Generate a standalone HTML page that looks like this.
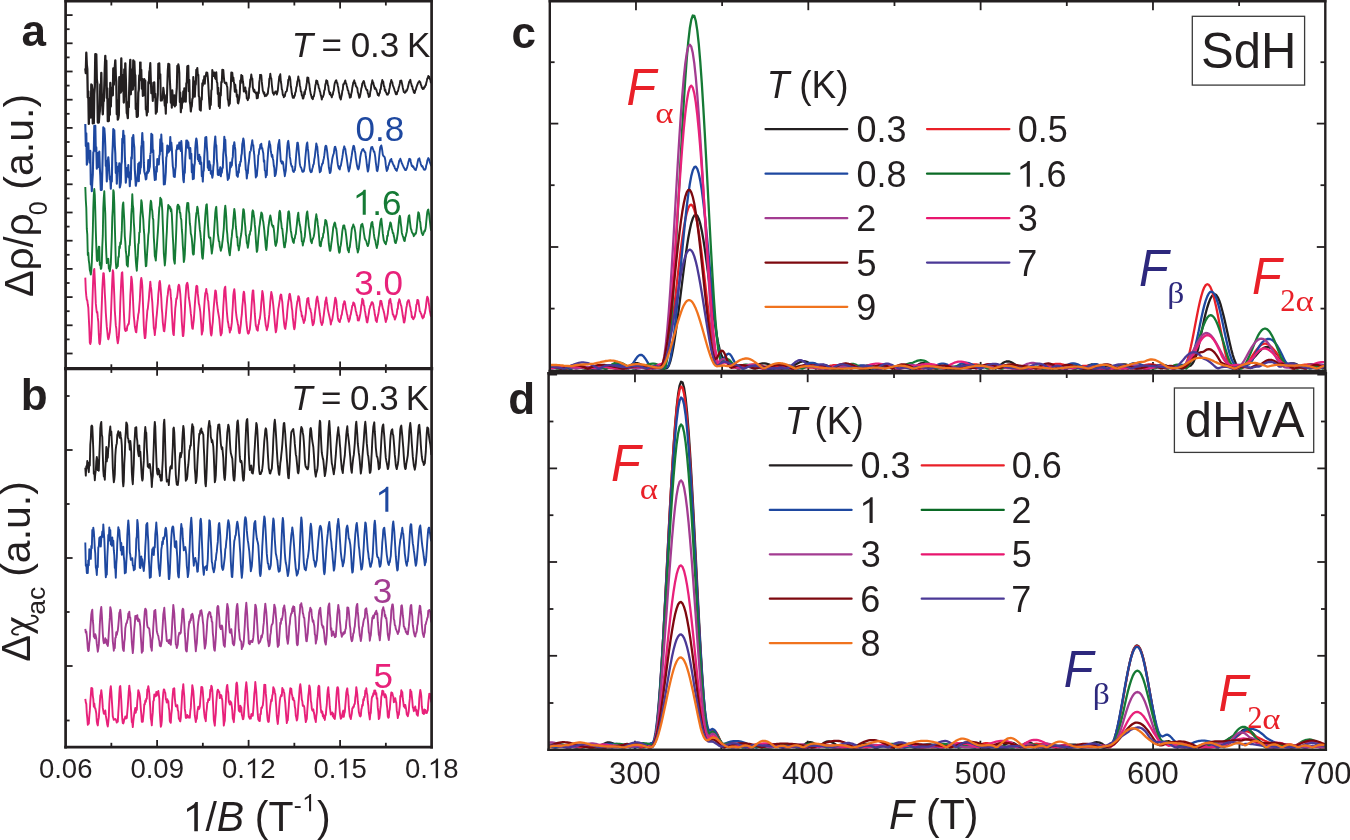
<!DOCTYPE html>
<html><head><meta charset="utf-8"><title>figure</title><style>
html,body{margin:0;padding:0;background:#fff;overflow:hidden}
svg{display:block;will-change:transform}
</style></head><body>
<svg width="1350" height="840" viewBox="0 0 1350 840">
<rect width="1350" height="840" fill="#fff"/>
<line x1="111.35" y1="1.20" x2="111.35" y2="5.50" stroke="#231f20" stroke-width="1.8" stroke-linecap="butt"/>
<line x1="111.35" y1="364.30" x2="111.35" y2="372.90" stroke="#231f20" stroke-width="1.8" stroke-linecap="butt"/>
<line x1="111.35" y1="742.80" x2="111.35" y2="747.10" stroke="#231f20" stroke-width="1.8" stroke-linecap="butt"/>
<line x1="157.10" y1="1.20" x2="157.10" y2="8.40" stroke="#231f20" stroke-width="1.8" stroke-linecap="butt"/>
<line x1="157.10" y1="361.40" x2="157.10" y2="375.80" stroke="#231f20" stroke-width="1.8" stroke-linecap="butt"/>
<line x1="157.10" y1="739.90" x2="157.10" y2="747.10" stroke="#231f20" stroke-width="1.8" stroke-linecap="butt"/>
<line x1="202.85" y1="1.20" x2="202.85" y2="5.50" stroke="#231f20" stroke-width="1.8" stroke-linecap="butt"/>
<line x1="202.85" y1="364.30" x2="202.85" y2="372.90" stroke="#231f20" stroke-width="1.8" stroke-linecap="butt"/>
<line x1="202.85" y1="742.80" x2="202.85" y2="747.10" stroke="#231f20" stroke-width="1.8" stroke-linecap="butt"/>
<line x1="248.60" y1="1.20" x2="248.60" y2="8.40" stroke="#231f20" stroke-width="1.8" stroke-linecap="butt"/>
<line x1="248.60" y1="361.40" x2="248.60" y2="375.80" stroke="#231f20" stroke-width="1.8" stroke-linecap="butt"/>
<line x1="248.60" y1="739.90" x2="248.60" y2="747.10" stroke="#231f20" stroke-width="1.8" stroke-linecap="butt"/>
<line x1="294.35" y1="1.20" x2="294.35" y2="5.50" stroke="#231f20" stroke-width="1.8" stroke-linecap="butt"/>
<line x1="294.35" y1="364.30" x2="294.35" y2="372.90" stroke="#231f20" stroke-width="1.8" stroke-linecap="butt"/>
<line x1="294.35" y1="742.80" x2="294.35" y2="747.10" stroke="#231f20" stroke-width="1.8" stroke-linecap="butt"/>
<line x1="340.10" y1="1.20" x2="340.10" y2="8.40" stroke="#231f20" stroke-width="1.8" stroke-linecap="butt"/>
<line x1="340.10" y1="361.40" x2="340.10" y2="375.80" stroke="#231f20" stroke-width="1.8" stroke-linecap="butt"/>
<line x1="340.10" y1="739.90" x2="340.10" y2="747.10" stroke="#231f20" stroke-width="1.8" stroke-linecap="butt"/>
<line x1="385.85" y1="1.20" x2="385.85" y2="5.50" stroke="#231f20" stroke-width="1.8" stroke-linecap="butt"/>
<line x1="385.85" y1="364.30" x2="385.85" y2="372.90" stroke="#231f20" stroke-width="1.8" stroke-linecap="butt"/>
<line x1="385.85" y1="742.80" x2="385.85" y2="747.10" stroke="#231f20" stroke-width="1.8" stroke-linecap="butt"/>
<line x1="65.60" y1="15.10" x2="72.60" y2="15.10" stroke="#231f20" stroke-width="1.8" stroke-linecap="butt"/>
<line x1="65.60" y1="43.30" x2="72.60" y2="43.30" stroke="#231f20" stroke-width="1.8" stroke-linecap="butt"/>
<line x1="65.60" y1="71.50" x2="72.60" y2="71.50" stroke="#231f20" stroke-width="1.8" stroke-linecap="butt"/>
<line x1="65.60" y1="99.70" x2="72.60" y2="99.70" stroke="#231f20" stroke-width="1.8" stroke-linecap="butt"/>
<line x1="65.60" y1="127.90" x2="72.60" y2="127.90" stroke="#231f20" stroke-width="1.8" stroke-linecap="butt"/>
<line x1="65.60" y1="156.10" x2="72.60" y2="156.10" stroke="#231f20" stroke-width="1.8" stroke-linecap="butt"/>
<line x1="65.60" y1="184.30" x2="72.60" y2="184.30" stroke="#231f20" stroke-width="1.8" stroke-linecap="butt"/>
<line x1="65.60" y1="212.50" x2="72.60" y2="212.50" stroke="#231f20" stroke-width="1.8" stroke-linecap="butt"/>
<line x1="65.60" y1="240.70" x2="72.60" y2="240.70" stroke="#231f20" stroke-width="1.8" stroke-linecap="butt"/>
<line x1="65.60" y1="268.90" x2="72.60" y2="268.90" stroke="#231f20" stroke-width="1.8" stroke-linecap="butt"/>
<line x1="65.60" y1="297.10" x2="72.60" y2="297.10" stroke="#231f20" stroke-width="1.8" stroke-linecap="butt"/>
<line x1="65.60" y1="325.30" x2="72.60" y2="325.30" stroke="#231f20" stroke-width="1.8" stroke-linecap="butt"/>
<line x1="65.60" y1="353.50" x2="72.60" y2="353.50" stroke="#231f20" stroke-width="1.8" stroke-linecap="butt"/>
<line x1="65.60" y1="29.20" x2="69.60" y2="29.20" stroke="#231f20" stroke-width="1.8" stroke-linecap="butt"/>
<line x1="65.60" y1="57.40" x2="69.60" y2="57.40" stroke="#231f20" stroke-width="1.8" stroke-linecap="butt"/>
<line x1="65.60" y1="85.60" x2="69.60" y2="85.60" stroke="#231f20" stroke-width="1.8" stroke-linecap="butt"/>
<line x1="65.60" y1="113.80" x2="69.60" y2="113.80" stroke="#231f20" stroke-width="1.8" stroke-linecap="butt"/>
<line x1="65.60" y1="142.00" x2="69.60" y2="142.00" stroke="#231f20" stroke-width="1.8" stroke-linecap="butt"/>
<line x1="65.60" y1="170.20" x2="69.60" y2="170.20" stroke="#231f20" stroke-width="1.8" stroke-linecap="butt"/>
<line x1="65.60" y1="198.40" x2="69.60" y2="198.40" stroke="#231f20" stroke-width="1.8" stroke-linecap="butt"/>
<line x1="65.60" y1="226.60" x2="69.60" y2="226.60" stroke="#231f20" stroke-width="1.8" stroke-linecap="butt"/>
<line x1="65.60" y1="254.80" x2="69.60" y2="254.80" stroke="#231f20" stroke-width="1.8" stroke-linecap="butt"/>
<line x1="65.60" y1="283.00" x2="69.60" y2="283.00" stroke="#231f20" stroke-width="1.8" stroke-linecap="butt"/>
<line x1="65.60" y1="311.20" x2="69.60" y2="311.20" stroke="#231f20" stroke-width="1.8" stroke-linecap="butt"/>
<line x1="65.60" y1="339.40" x2="69.60" y2="339.40" stroke="#231f20" stroke-width="1.8" stroke-linecap="butt"/>
<line x1="65.60" y1="450.00" x2="72.60" y2="450.00" stroke="#231f20" stroke-width="1.8" stroke-linecap="butt"/>
<line x1="65.60" y1="558.00" x2="72.60" y2="558.00" stroke="#231f20" stroke-width="1.8" stroke-linecap="butt"/>
<line x1="65.60" y1="666.00" x2="72.60" y2="666.00" stroke="#231f20" stroke-width="1.8" stroke-linecap="butt"/>
<line x1="65.60" y1="396.00" x2="69.60" y2="396.00" stroke="#231f20" stroke-width="1.8" stroke-linecap="butt"/>
<line x1="65.60" y1="504.00" x2="69.60" y2="504.00" stroke="#231f20" stroke-width="1.8" stroke-linecap="butt"/>
<line x1="65.60" y1="612.00" x2="69.60" y2="612.00" stroke="#231f20" stroke-width="1.8" stroke-linecap="butt"/>
<line x1="65.60" y1="720.50" x2="69.60" y2="720.50" stroke="#231f20" stroke-width="1.8" stroke-linecap="butt"/>
<line x1="635.97" y1="1.20" x2="635.97" y2="10.20" stroke="#231f20" stroke-width="1.8" stroke-linecap="butt"/>
<line x1="635.97" y1="361.90" x2="635.97" y2="370.90" stroke="#231f20" stroke-width="1.8" stroke-linecap="butt"/>
<line x1="634.96" y1="373.20" x2="634.96" y2="382.20" stroke="#231f20" stroke-width="1.8" stroke-linecap="butt"/>
<line x1="634.96" y1="740.70" x2="634.96" y2="749.70" stroke="#231f20" stroke-width="1.8" stroke-linecap="butt"/>
<line x1="722.13" y1="1.20" x2="722.13" y2="6.00" stroke="#231f20" stroke-width="1.8" stroke-linecap="butt"/>
<line x1="722.13" y1="366.10" x2="722.13" y2="370.90" stroke="#231f20" stroke-width="1.8" stroke-linecap="butt"/>
<line x1="721.31" y1="373.20" x2="721.31" y2="378.00" stroke="#231f20" stroke-width="1.8" stroke-linecap="butt"/>
<line x1="721.31" y1="744.90" x2="721.31" y2="749.70" stroke="#231f20" stroke-width="1.8" stroke-linecap="butt"/>
<line x1="808.30" y1="1.20" x2="808.30" y2="10.20" stroke="#231f20" stroke-width="1.8" stroke-linecap="butt"/>
<line x1="808.30" y1="361.90" x2="808.30" y2="370.90" stroke="#231f20" stroke-width="1.8" stroke-linecap="butt"/>
<line x1="807.67" y1="373.20" x2="807.67" y2="382.20" stroke="#231f20" stroke-width="1.8" stroke-linecap="butt"/>
<line x1="807.67" y1="740.70" x2="807.67" y2="749.70" stroke="#231f20" stroke-width="1.8" stroke-linecap="butt"/>
<line x1="894.47" y1="1.20" x2="894.47" y2="6.00" stroke="#231f20" stroke-width="1.8" stroke-linecap="butt"/>
<line x1="894.47" y1="366.10" x2="894.47" y2="370.90" stroke="#231f20" stroke-width="1.8" stroke-linecap="butt"/>
<line x1="894.02" y1="373.20" x2="894.02" y2="378.00" stroke="#231f20" stroke-width="1.8" stroke-linecap="butt"/>
<line x1="894.02" y1="744.90" x2="894.02" y2="749.70" stroke="#231f20" stroke-width="1.8" stroke-linecap="butt"/>
<line x1="980.63" y1="1.20" x2="980.63" y2="10.20" stroke="#231f20" stroke-width="1.8" stroke-linecap="butt"/>
<line x1="980.63" y1="361.90" x2="980.63" y2="370.90" stroke="#231f20" stroke-width="1.8" stroke-linecap="butt"/>
<line x1="980.38" y1="373.20" x2="980.38" y2="382.20" stroke="#231f20" stroke-width="1.8" stroke-linecap="butt"/>
<line x1="980.38" y1="740.70" x2="980.38" y2="749.70" stroke="#231f20" stroke-width="1.8" stroke-linecap="butt"/>
<line x1="1066.80" y1="1.20" x2="1066.80" y2="6.00" stroke="#231f20" stroke-width="1.8" stroke-linecap="butt"/>
<line x1="1066.80" y1="366.10" x2="1066.80" y2="370.90" stroke="#231f20" stroke-width="1.8" stroke-linecap="butt"/>
<line x1="1066.73" y1="373.20" x2="1066.73" y2="378.00" stroke="#231f20" stroke-width="1.8" stroke-linecap="butt"/>
<line x1="1066.73" y1="744.90" x2="1066.73" y2="749.70" stroke="#231f20" stroke-width="1.8" stroke-linecap="butt"/>
<line x1="1152.97" y1="1.20" x2="1152.97" y2="10.20" stroke="#231f20" stroke-width="1.8" stroke-linecap="butt"/>
<line x1="1152.97" y1="361.90" x2="1152.97" y2="370.90" stroke="#231f20" stroke-width="1.8" stroke-linecap="butt"/>
<line x1="1153.09" y1="373.20" x2="1153.09" y2="382.20" stroke="#231f20" stroke-width="1.8" stroke-linecap="butt"/>
<line x1="1153.09" y1="740.70" x2="1153.09" y2="749.70" stroke="#231f20" stroke-width="1.8" stroke-linecap="butt"/>
<line x1="1239.13" y1="1.20" x2="1239.13" y2="6.00" stroke="#231f20" stroke-width="1.8" stroke-linecap="butt"/>
<line x1="1239.13" y1="366.10" x2="1239.13" y2="370.90" stroke="#231f20" stroke-width="1.8" stroke-linecap="butt"/>
<line x1="1239.44" y1="373.20" x2="1239.44" y2="378.00" stroke="#231f20" stroke-width="1.8" stroke-linecap="butt"/>
<line x1="1239.44" y1="744.90" x2="1239.44" y2="749.70" stroke="#231f20" stroke-width="1.8" stroke-linecap="butt"/>
<line x1="549.80" y1="62.20" x2="554.60" y2="62.20" stroke="#231f20" stroke-width="1.8" stroke-linecap="butt"/>
<line x1="1320.50" y1="62.20" x2="1325.30" y2="62.20" stroke="#231f20" stroke-width="1.8" stroke-linecap="butt"/>
<line x1="549.80" y1="123.60" x2="558.30" y2="123.60" stroke="#231f20" stroke-width="1.8" stroke-linecap="butt"/>
<line x1="1316.80" y1="123.60" x2="1325.30" y2="123.60" stroke="#231f20" stroke-width="1.8" stroke-linecap="butt"/>
<line x1="549.80" y1="185.20" x2="554.60" y2="185.20" stroke="#231f20" stroke-width="1.8" stroke-linecap="butt"/>
<line x1="1320.50" y1="185.20" x2="1325.30" y2="185.20" stroke="#231f20" stroke-width="1.8" stroke-linecap="butt"/>
<line x1="549.80" y1="247.00" x2="558.30" y2="247.00" stroke="#231f20" stroke-width="1.8" stroke-linecap="butt"/>
<line x1="1316.80" y1="247.00" x2="1325.30" y2="247.00" stroke="#231f20" stroke-width="1.8" stroke-linecap="butt"/>
<line x1="549.80" y1="308.60" x2="554.60" y2="308.60" stroke="#231f20" stroke-width="1.8" stroke-linecap="butt"/>
<line x1="1320.50" y1="308.60" x2="1325.30" y2="308.60" stroke="#231f20" stroke-width="1.8" stroke-linecap="butt"/>
<line x1="548.60" y1="374.60" x2="557.10" y2="374.60" stroke="#231f20" stroke-width="1.8" stroke-linecap="butt"/>
<line x1="1317.30" y1="374.60" x2="1325.80" y2="374.60" stroke="#231f20" stroke-width="1.8" stroke-linecap="butt"/>
<line x1="548.60" y1="421.50" x2="553.40" y2="421.50" stroke="#231f20" stroke-width="1.8" stroke-linecap="butt"/>
<line x1="1321.00" y1="421.50" x2="1325.80" y2="421.50" stroke="#231f20" stroke-width="1.8" stroke-linecap="butt"/>
<line x1="548.60" y1="468.40" x2="557.10" y2="468.40" stroke="#231f20" stroke-width="1.8" stroke-linecap="butt"/>
<line x1="1317.30" y1="468.40" x2="1325.80" y2="468.40" stroke="#231f20" stroke-width="1.8" stroke-linecap="butt"/>
<line x1="548.60" y1="515.20" x2="553.40" y2="515.20" stroke="#231f20" stroke-width="1.8" stroke-linecap="butt"/>
<line x1="1321.00" y1="515.20" x2="1325.80" y2="515.20" stroke="#231f20" stroke-width="1.8" stroke-linecap="butt"/>
<line x1="548.60" y1="562.00" x2="557.10" y2="562.00" stroke="#231f20" stroke-width="1.8" stroke-linecap="butt"/>
<line x1="1317.30" y1="562.00" x2="1325.80" y2="562.00" stroke="#231f20" stroke-width="1.8" stroke-linecap="butt"/>
<line x1="548.60" y1="609.00" x2="553.40" y2="609.00" stroke="#231f20" stroke-width="1.8" stroke-linecap="butt"/>
<line x1="1321.00" y1="609.00" x2="1325.80" y2="609.00" stroke="#231f20" stroke-width="1.8" stroke-linecap="butt"/>
<line x1="548.60" y1="655.80" x2="557.10" y2="655.80" stroke="#231f20" stroke-width="1.8" stroke-linecap="butt"/>
<line x1="1317.30" y1="655.80" x2="1325.80" y2="655.80" stroke="#231f20" stroke-width="1.8" stroke-linecap="butt"/>
<line x1="548.60" y1="703.00" x2="553.40" y2="703.00" stroke="#231f20" stroke-width="1.8" stroke-linecap="butt"/>
<line x1="1321.00" y1="703.00" x2="1325.80" y2="703.00" stroke="#231f20" stroke-width="1.8" stroke-linecap="butt"/>
<path d="M85.3,68.3l0.5 4.8 0.5 -20.4 0.5 11.9 0.5 4.5 0.5 28.5 0.5 -6.3 0.5 32.6 0.5 -26.1 0.5 10.4 0.5 -7.8 0.5 17.1 0.5 -33 0.5 0.5 0.5 4.1 0.5 34.3 0.5 -18.3 0.5 18.1 0.5 -29.2 0.5 -7.2 0.5 -32.6 0.5 12.2 0.5 -12.1 0.5 24.9 0.5 4.5 0.5 38.9 0.5 -10.1 0.5 10 0.5 -7.5 0.5 -4 0.5 -26.6 0.5 11.2 0.5 -22.8 0.5 26 0.5 8 0.5 7.5 0.5 -12.2 0.5 -1 0.5 -14.5 0.5 -17.9 0.5 -12.9 0.5 21.5 0.5 -16.6 0.5 37.2 0.5 -9.6 0.5 32.9 0.5 -12.1 0.5 11.9 0.5 -21.8 0.5 15.6 0.5 -31.8 0.5 23.5 0.5 -18.9 0.5 4.5 0.5 -1.6 0.5 4.8 0.5 -26.9 0.5 16.4 0.5 -15.6 0.5 -1.9 0.5 -6.9 0.5 15.6 0.5 5.6 0.5 32.7 0.5 -14.2 0.5 19.6 0.5 -1.6 0.5 -3.1 0.5 -37.8 0.5 13.2 0.5 -10.8 0.5 12.9 0.5 -34.1 0.5 32.1 0.5 -4.1 0.5 4.1 0.5 -15.5 0.5 27.5 0.5 -33.2 0.5 26.2 0.5 -32.2 0.5 15.5 0.5 21 0.5 13.2 0.5 1.1 0.5 4.1 0.5 -16 0.5 4.9 0.5 -19.6 0.5 -17 0.5 -10.7 0.5 34.5 0.5 -25 0.5 20.2 0.5 -11 0.5 11.1 0.5 -29.3 0.5 25.3 0.5 -24.1 0.5 12.7 0.5 1.2 0.5 33.7 0.5 -5.2 0.5 13 0.5 0 0.5 -0.7 0.5 -23.5 0.5 -3.1 0.5 -14.3 0.5 5.2 0.5 -18.7" fill="none" stroke="#231f20" stroke-width="2.3" stroke-linejoin="round"/>
<path d="M140.3,61.8l0.5 13.5 0.5 -5.6 0.5 19 0.5 -9.8 0.5 17.1 0.5 -14.3 0.5 13.4 0.5 -16 0.5 4.5 0.5 -3 0.5 28.9 0.5 -0.4 0.5 6.4 0.5 -8.4 0.5 5 0.5 -30 0.5 1.7 0.5 -11.9 0.5 -2.2 0.5 -6.7 0.5 16.3 0.5 13.9 0.5 -5.6 0.5 3.3 0.5 10 0.5 -18.1 0.5 5.1 0.5 -5.5 0.5 15.1 0.5 -3.7 0.5 19.9 0.5 -7.3 0.5 5.5 0.5 -9.9 0.5 -7 0.5 -31.2 0.5 7.4 0.5 -7.8 0.5 14.9 0.5 -4.1 0.5 26.4 0.5 -2.1 0.5 2 0.5 -3.3 0.5 -0.9 0.5 -8.4 0.5 3.6 0.5 7.4 0.5 6.8 0.5 -1.9 0.5 9.8 0.5 -18.5 0.5 7.6 0.5 -17 0.5 -15.2 0.5 -6.6 0.5 6.8 0.5 -6.3 0.5 14.5 0.5 10 0.5 13.9 0.5 -7.7 0.5 12.6 0.5 -17.5 0.5 8.2 0.5 -1.5 0.5 8.1 0.5 -9.7 0.5 11.1 0.5 -6.7 0.5 5.6 0.5 -10.9 0.5 -6.2 0.5 -22.3 0.5 6.1 0.5 -7.7 0.5 2.2 0.5 6.7 0.5 28.9 0.5 -9.6 0.5 19.8 0.5 -5.2 0.5 1.1 0.5 -10 0.5 4.3 0.5 -11.3 0.5 7.4 0.5 -10.3 0.5 13.2 0.5 -11.2 0.5 11.4 0.5 -18.1 0.5 -1.5 0.5 -15.9 0.5 8.4 0.5 -8.9 0.5 25.6 0.5 -11.4 0.5 21.8 0.5 3.2 0.5 6.6 0.5 -4 0.5 -1.3 0.5 -7.2 0.5 -1 0.5 -21 0.5 18.2 0.5 -14 0.5 15.4 0.5 -10.9 0.5 -1.5 0.5 -14.5 0.5 0.8 0.5 -2.4 0.5 6.9 0.5 -0.2 0.5 21.2 0.5 1 0.5 12.8 0.5 -9.4" fill="none" stroke="#231f20" stroke-width="2.1" stroke-linejoin="round"/>
<path d="M200.3,100.4l0.5 10.2 0.5 -12.6 0.5 1.8 0.5 -16.6 0.5 2.8 0.5 -6 0.5 2.1 0.5 -5.9 0.5 7.6 0.5 -7 0.5 -0.6 0.5 -3.6 0.5 0 0.5 0.2 0.5 4.4 0.5 7.2 0.5 10.3 0.5 8.2 0.5 6.1 0.5 -5.5 0.5 1.5 0.5 -14.4 0.5 -1.5 0.5 -19.2 0.5 2.6 0.5 1.9 0.5 1.7 0.5 -3.6 0.5 3.9 0.5 2 0.5 0.7 0.5 -6.9 0.5 9.6 0.5 1.1 0.5 11 0.5 -6.1 0.5 18.3 0.5 -2.1 0.5 3.9 0.5 -15 0.5 2.6 0.5 -13.6 0.5 0.5 0.5 -12.6 0.5 4.9 0.5 -4.6 0.5 6.7 0.5 4.7 0.5 1.4 0.5 -0.4 0.5 1.2 0.5 -1 0.5 2.7 0.5 1.9 0.5 11.8 0.5 1.6 0.5 5 0.5 -4.7 0.5 2.7 0.5 -11.8 0.5 -5.3 0.5 -14.1 0.5 8.7 0.5 -8.4 0.5 6.8 0.5 -2.2 0.5 4 0.5 3 0.5 7.4 0.5 -7 0.5 5.9 0.5 -0.6 0.5 6.7 0.5 -2 0.5 8 0.5 0.6 0.5 -2.7 0.5 -2.6 0.5 -5.1 0.5 -12.4 0.5 2.7 0.5 -8.4 0.5 2.4 0.5 -1.4 0.5 5.4 0.5 2.7 0.5 7.4 0.5 -3.9 0.5 1.9 0.5 -1.9 0.5 5.4 0.5 -1.8 0.5 7.3 0.5 0.3 0.5 1.4 0.5 -1.9 0.5 -0.1 0.5 -9.7 0.5 -1.6 0.5 -7.3 0.5 -0.4 0.5 -4.6 0.5 4 0.5 0.1 0.5 8.7 0.5 2 0.5 2.2 0.5 -1.8 0.5 2.6 0.5 -0.1 0.5 1 0.5 -0.6 0.5 5.7 0.5 -1.1 0.5 0.8 0.5 -5.9 0.5 1.1 0.5 -10.8 0.5 -3.2 0.5 -5.1" fill="none" stroke="#231f20" stroke-width="2.0" stroke-linejoin="round"/>
<path d="M260.3,74.1l0.5 1.5 0.5 -0.3 0.5 6.6 0.5 4.2 0.5 4.5 0.5 1.4 0.5 1.7 0.5 -1.2 0.5 3.7 0.5 -1.4 0.5 1 0.5 0 0.5 -0.6 0.5 -1.7 0.5 0.3 0.5 -5.1 0.5 -2.2 0.5 -7.7 0.5 -0.8 0.5 -4.3 0.5 4 0.5 0.6 0.5 6.2 0.5 4.2 0.5 4.3 0.5 -0.6 0.5 2.4 0.5 -1.7 0.5 0.1 0.5 -1.8 0.5 0.5 0.5 -0.4 0.5 3.1 0.5 -1.8 0.5 -2.2 0.5 -5.2 0.5 -4.6 0.5 -4.5 0.5 -0.5 0.5 -1.6 0.5 7.3 0.5 2.5 0.5 5.2 0.5 1.1 0.5 4.7 0.5 -0.1 0.5 2.3 0.5 -0.9 0.5 0 0.5 -2.8 0.5 -1.7 0.5 -0.2 0.5 -0.6 0.5 -3.4 0.5 -2.3 0.5 -5.7 0.5 -0.1 0.5 -3.4 0.5 0.9 0.5 2.5 0.5 6.7 0.5 2.6 0.5 4.5 0.5 2.3 0.5 2.2 0.5 -1.7 0.5 1.8 0.5 -1.4 0.5 -1 0.5 -3 0.5 -0.7 0.5 -4.5 0.5 -1.2 0.5 -4.6 0.5 -1.2 0.5 -3.8 0.5 3.5 0.5 0.2 0.5 5 0.5 1.8 0.5 4.5 0.5 -0.1 0.5 4.1 0.5 -0.2 0.5 3.3 0.5 0 0.5 -2 0.5 -4.6 0.5 2.4 0.5 -4.5 0.5 -0.2 0.5 -3.5 0.5 -3.3 0.5 -5.4 0.5 0.8 0.5 -0.6 0.5 4.6 0.5 1.7 0.5 5 0.5 2.6 0.5 2.7 0.5 1.6 0.5 2.2 0.5 0.4 0.5 0.8 0.5 -2.8 0.5 0 0.5 -2.7 0.5 -3.1 0.5 -4.7 0.5 -2.3 0.5 -3.2 0.5 0.8 0.5 -0.2 0.5 3 0.5 0.7 0.5 3.2 0.5 0.6 0.5 2.6 0.5 1.1 0.5 3 0.5 1.5 0.5 2.7 0.5 -2.7 0.5 0.4 0.5 -1.4 0.5 -1.4 0.5 -4 0.5 -0.5 0.5 -5.1 0.5 -1.9 0.5 -2.7 0.5 0.7 0.5 0.1 0.5 4 0.5 0.9 0.5 4.7 0.5 1.7 0.5 2 0.5 -1.7 0.5 2.7 0.5 0.5 0.5 1.6 0.5 -2.4 0.5 -0.1 0.5 -3.2 0.5 -1.2 0.5 -4.6 0.5 -2.9 0.5 -1.2 0.5 -1.2 0.5 -0.3 0.5 2.5 0.5 0.1 0.5 3 0.5 1.9 0.5 4.2 0.5 1.6 0.5 3.7 0.5 1.1 0.5 1.1 0.5 -2.6 0.5 -2.1 0.5 -4 0.5 -1.2 0.5 -5.4 0.5 0.2 0.5 -1.4 0.5 -1 0.5 -1.6 0.5 2.7 0.5 0.6 0.5 2.2 0.5 1.8 0.5 2.5 0.5 0.5 0.5 2.9 0.5 0.7 0.5 3.4 0.5 -1.4 0.5 0.9 0.5 -3.5 0.5 -1.9 0.5 -4.1 0.5 -2.4 0.5 -3 0.5 -0.5 0.5 -1.5 0.5 3.1 0.5 -0.3 0.5 3.1 0.5 -0.1 0.5 1.6 0.5 0.3 0.5 4.3 0.5 1.1 0.5 2.6 0.5 1.9 0.5 -0.9 0.5 -2.1 0.5 -2.8 0.5 -3.6 0.5 -1.4 0.5 -3.6 0.5 -0.6 0.5 -1.3 0.5 -0.7 0.5 1.7 0.5 3.3 0.5 0.4 0.5 2.1 0.5 1 0.5 0.7 0.5 -0.1 0.5 3.3 0.5 0.9 0.5 2.8 0.5 -1.5 0.5 0.7 0.5 -4.5 0.5 -1.7 0.5 -5 0.5 -1.6 0.5 -3.1 0.5 1.8 0.5 0.5 0.5 2.7 0.5 1.9 0.5 1.7 0.5 -1.2 0.5 1.4 0.5 0.4 0.5 2 0.5 1.2 0.5 2.4 0.5 -0.2 0.5 0.8 0.5 -2.2 0.5 -0.4 0.5 -3.7 0.5 -0.3 0.5 -4.8 0.5 -1.7 0.5 -2.6 0.5 1.2 0.5 0.7 0.5 4.2 0.5 0.3 0.5 4.2 0.5 -1.1 0.5 2.6 0.5 0.5 0.5 1.9 0.5 -0.5 0.5 0.8 0.5 -1.5 0.5 -0.1 0.5 -4 0.5 -2 0.5 -3.8 0.5 -1.1 0.5 -2.3 0.5 1.8 0.5 0.4 0.5 3.1 0.5 1.1 0.5 1.4 0.5 1.4 0.5 1.8 0.5 1.2 0.5 1.8 0.5 0.4 0.5 -0.2 0.5 -2.5 0.5 -0.3 0.5 -1.9 0.5 -2.1 0.5 -1.7 0.5 -2 0.5 -3 0.5 0.4 0.5 -0.6 0.5 2.1 0.5 2.3 0.5 2.8 0.5 2 0.5 2.3 0.5 -0.1 0.5 0.9 0.5 -0.4 0.5 -0.5 0.5 -1.8 0.5 0.7 0.5 -1.4 0.5 -1.6 0.5 -2.3 0.5 -2.1 0.5 -2 0.5 -0.1 0.5 -1.5 0.5 2.5 0.5 1.4 0.5 2.7 0.5 -0.1 0.5 3.1 0.5 0.6 0.5 2.3 0.5 0.7 0.5 -0.2 0.5 -2.6 0.5 -0.3 0.5 -2.2 0.5 -1.5 0.5 -1.5 0.5 -0.9 0.5 -1.5 0.5 -0.2 0.5 -1 0.5 0.7 0.5 0.4 0.5 2.5 0.5 0.7 0.5 2.5 0.5 -0.1 0.5 1.3 0.5 -1.4 0.5 1.1 0.5 -1.8 0.5 0.1 0.5 -1.6 0.5 -0.2 0.5 -2.6 0.5 -1.8 0.5 -2.4 0.5 -0.2 0.5 -2.4 0.5 0.5 0.5 0.4 0.5 2.3 0.5 0 0.5 3.2 0.5 0.2" fill="none" stroke="#231f20" stroke-width="1.9" stroke-linejoin="round"/>
<path d="M85.3,124.1l0.5 22 0.5 -12.9 0.5 31.5 0.5 -2.4 0.5 -7.8 0.5 -11.3 0.5 11.2 0.5 -3.4 0.5 11.8 0.5 -11.9 0.5 33.6 0.5 -7.4 0.5 14 0.5 -9.4 0.5 -7.3 0.5 -21.9 0.5 -1.2 0.5 -25.6 0.5 3.7 0.5 -3.6 0.5 25.3 0.5 -3.7 0.5 21.4 0.5 -16.1 0.5 14.4 0.5 -10.3 0.5 3.5 0.5 -8.7 0.5 16 0.5 8.2 0.5 14.1 0.5 -1.4 0.5 1.3 0.5 -18 0.5 -21.5 0.5 -23 0.5 1.4 0.5 -0.3 0.5 6.7 0.5 11.4 0.5 19.5 0.5 -1.4 0.5 16.8 0.5 -20.5 0.5 0.5 0.5 -4.2 0.5 5.7 0.5 9.9 0.5 6.7 0.5 -0.7 0.5 9.8 0.5 -12.1 0.5 5.1 0.5 -26.6 0.5 -9.9 0.5 -16 0.5 3.8 0.5 -2.6 0.5 15.1 0.5 8 0.5 19.6 0.5 -10.1 0.5 20.9 0.5 -12 0.5 -2.7 0.5 -2.5 0.5 3.5 0.5 -6.7 0.5 24 0.5 -2 0.5 -3 0.5 -17.5 0.5 -3.6 0.5 -22.6 0.5 3.7 0.5 -11.6 0.5 10.5 0.5 -5.7 0.5 20.2 0.5 10.5 0.5 16.4 0.5 -5.6 0.5 -2.5 0.5 -6.7 0.5 8.6 0.5 -11.4 0.5 12.3 0.5 -5 0.5 13.7 0.5 -9.7 0.5 3 0.5 -22 0.5 1.4 0.5 -21.3 0.5 1.9 0.5 -4.4 0.5 8.3 0.5 4.1 0.5 22.1 0.5 7.5 0.5 8.8 0.5 -3.3 0.5 -1.4 0.5 -1.4 0.5 -7 0.5 -9 0.5 17.4 0.5 -18.5 0.5 11.1 0.5 -5.6 0.5 -0.7 0.5 -20.3 0.5 -2.7 0.5 -11.4 0.5 11.9 0.5 -3.4 0.5 21.4 0.5 8.5 0.5 1.9 0.5 1.9 0.5 4.3 0.5 -0.7 0.5 -5.1 0.5 -2.2 0.5 1.4 0.5 -12.9 0.5 11.4 0.5 -3 0.5 -1.8 0.5 -12" fill="none" stroke="#1e48a0" stroke-width="2.1" stroke-linejoin="round"/>
<path d="M150.3,154.6l0.5 -2.1 0.5 -18.8 0.5 6 0.5 -5 0.5 17.6 0.5 -2 0.5 16.4 0.5 7.4 0.5 6 0.5 -3.4 0.5 2.9 0.5 -12.9 0.5 4.9 0.5 -12.5 0.5 5.4 0.5 -3.9 0.5 3.9 0.5 -8.6 0.5 -1.4 0.5 -15.3 0.5 11.8 0.5 -16.4 0.5 10.4 0.5 -1.9 0.5 16.2 0.5 7.4 0.5 17.7 0.5 -2.2 0.5 2.1 0.5 -5 0.5 -7 0.5 -14.8 0.5 -1.5 0.5 -10.6 0.5 7.4 0.5 -6.6 0.5 5.5 0.5 -0.5 0.5 -3.6 0.5 -10.7 0.5 12.8 0.5 -7.3 0.5 5.8 0.5 9.1 0.5 8.8 0.5 3.1 0.5 7.4 0.5 -3.8 0.5 4.2 0.5 -7.1 0.5 -3.5 0.5 -16.1 0.5 -0.9 0.5 -4.1 0.5 3.8 0.5 -3 0.5 1.1 0.5 -4.8 0.5 6.4 0.5 -5.7 0.5 7.8 0.5 -9.8 0.5 7.1 0.5 11.8 0.5 10.3 0.5 9.5 0.5 2.4 0.5 -10.5 0.5 1.2 0.5 -15.1 0.5 -7 0.5 -10.4 0.5 1.9 0.5 -1.7 0.5 7.1 0.5 -5.5 0.5 5.6 0.5 2.6 0.5 8.1 0.5 -10.5 0.5 9.8 0.5 -4.1 0.5 18.6 0.5 -8 0.5 14.9 0.5 -1.5 0.5 0.9 0.5 -12.3 0.5 -3.1 0.5 -15 0.5 -6.3 0.5 -3.5 0.5 2.4 0.5 6.2 0.5 12.2 0.5 -2.1 0.5 4 0.5 -6.3 0.5 9 0.5 -6.7 0.5 7.1 0.5 -1.7 0.5 13.6 0.5 -4.4 0.5 9.9 0.5 -9.8 0.5 -1.3 0.5 -14.4 0.5 -7.6 0.5 -11 0.5 4 0.5 -4.4 0.5 9.2 0.5 6 0.5 15.4 0.5 -4.1 0.5 6.5 0.5 -8.8 0.5 3.6 0.5 0 0.5 8.8 0.5 -2.7 0.5 3 0.5 3.7 0.5 -2.6 0.5 -7.9 0.5 -3.8 0.5 -15.8 0.5 -5.9 0.5 -5.3 0.5 8.3 0.5 0.7 0.5 13.4 0.5 4.8 0.5 11.1 0.5 -2.4 0.5 2.8 0.5 -5 0.5 0.3 0.5 -3.2 0.5 9.1 0.5 -4.3 0.5 0.7 0.5 -4.6 0.5 -0.2 0.5 -13.9 0.5 -4.8 0.5 -12.5 0.5 4.3 0.5 -1.2 0.5 13.8 0.5 4.3 0.5 10.4 0.5 6.5 0.5 5.1 0.5 -3 0.5 1.6 0.5 -4.1 0.5 -3.8 0.5 -8.2 0.5 5 0.5 -3 0.5 1.1 0.5 -6.3 0.5 -2.3 0.5 -11.3 0.5 0.6 0.5 -4 0.5 4.2 0.5 3.3 0.5 13.8 0.5 4.4 0.5 7.7 0.5 -1.7 0.5 2.9 0.5 -5.4 0.5 1.2 0.5 -8.2 0.5 1.7 0.5 -4.4 0.5 0.1 0.5 -6.1 0.5 -2.1 0.5 -9.6 0.5 -1.9 0.5 -3.7 0.5 2.2 0.5 6.9 0.5 8.3 0.5 5 0.5 9 0.5 0.8 0.5 7.8 0.5 -4.6 0.5 -0.7 0.5 -7.3 0.5 -3.3 0.5 -4.4 0.5 -5.3 0.5 -1.7" fill="none" stroke="#1e48a0" stroke-width="2.0" stroke-linejoin="round"/>
<path d="M250.3,151.1l0.5 -0.4 0.5 -4.5 0.5 -2.6 0.5 -3.4 0.5 4.7 0.5 0.2 0.5 6.4 0.5 3.5 0.5 8.4 0.5 6.2 0.5 7.9 0.5 -1.5 0.5 0.1 0.5 -6.3 0.5 -4.6 0.5 -9.8 0.5 -1 0.5 -5.4 0.5 0.2 0.5 -4.4 0.5 2.6 0.5 -3.8 0.5 4.8 0.5 -0.4 0.5 3.1 0.5 2.1 0.5 8.5 0.5 -1.3 0.5 10 0.5 0.6 0.5 6.4 0.5 -3.5 0.5 1.2 0.5 -11.6 0.5 -7.1 0.5 -7.5 0.5 -3.3 0.5 -4.3 0.5 2.6 0.5 1.3 0.5 6.1 0.5 2.3 0.5 3.2 0.5 -1.8 0.5 3.4 0.5 2.1 0.5 5.3 0.5 2 0.5 8.3 0.5 -0.7 0.5 -1.5 0.5 -4.1 0.5 -4.9 0.5 -8.6 0.5 -6.1 0.5 -5.8 0.5 -1.8 0.5 -2.6 0.5 7.1 0.5 6.7 0.5 7.6 0.5 -0.2 0.5 2.3 0.5 -2.1 0.5 0.3 0.5 2.2 0.5 5.2 0.5 2.9 0.5 4.2 0.5 -3.1 0.5 -2.6 0.5 -8 0.5 -7.8 0.5 -8.1 0.5 -4.4 0.5 -1.4 0.5 4.1 0.5 5 0.5 7 0.5 2.1 0.5 4.5 0.5 1.8 0.5 1.4 0.5 -0.4 0.5 4.4 0.5 1 0.5 0.3 0.5 -1.4 0.5 -0.3 0.5 -3.6 0.5 -6.6 0.5 -6.5 0.5 -5.7 0.5 -5.3 0.5 0.1 0.5 2.9 0.5 6.5 0.5 5.4 0.5 6.1 0.5 2.4 0.5 1.4 0.5 0.5 0.5 1.8 0.5 1.9 0.5 0.3 0.5 -0.3 0.5 -0.4 0.5 -2.6 0.5 -3.3 0.5 -7.2 0.5 -5 0.5 -5.6 0.5 -3.6 0.5 -1.4 0.5 5.7 0.5 3.8 0.5 7.1 0.5 4.7 0.5 5.3 0.5 2.1 0.5 1 0.5 -0.1 0.5 -0.4 0.5 -3 0.5 -1.4 0.5 -2.5 0.5 -0.8 0.5 -4.7 0.5 -2.3 0.5 -5.1 0.5 -3.9 0.5 -4.6 0.5 1.8 0.5 1.6 0.5 6.6 0.5 4.3 0.5 6.4 0.5 4 0.5 4.2 0.5 -0.7 0.5 -0.5 0.5 -4.2 0.5 -1.4 0.5 -2.1 0.5 0.1 0.5 -3.2 0.5 -1.8 0.5 -3.1 0.5 -4.2 0.5 -4.5 0.5 -1 0.5 0.3 0.5 2.9 0.5 3.7 0.5 5 0.5 3.1 0.5 6.5 0.5 2.5 0.5 3.3 0.5 -0.1 0.5 -2.1 0.5 -5.7 0.5 -2.5 0.5 -3.9 0.5 -2.2 0.5 -1.8 0.5 -1.2 0.5 -4.2 0.5 -2.3 0.5 -0.2 0.5 2.3 0.5 1.5 0.5 5.4 0.5 4.2 0.5 4.2 0.5 2.2 0.5 1.7 0.5 0.4 0.5 0.7 0.5 -3.4 0.5 -0.2 0.5 -2.7 0.5 -2.8 0.5 -2.8 0.5 -3.3 0.5 -4.2 0.5 -1.7 0.5 -2 0.5 2.1 0.5 0.5 0.5 4.2 0.5 2.3 0.5 3.5 0.5 3.5 0.5 3.7 0.5 2.9 0.5 2.6 0.5 -1.9 0.5 -1.6 0.5 -3.7 0.5 -2.7 0.5 -3.6 0.5 -2.9 0.5 -3.7 0.5 -2.7 0.5 -2.7 0.5 -0.3 0.5 1.4 0.5 3.5 0.5 2.4 0.5 5 0.5 2.8 0.5 3.7 0.5 2.2 0.5 1.9 0.5 0.7 0.5 -1 0.5 -3.4 0.5 -3.2 0.5 -4.8 0.5 -2.7 0.5 -2.1 0.5 -1.2 0.5 -1.4 0.5 -0.2 0.5 -0.4 0.5 1.7 0.5 0.2 0.5 1.4 0.5 -0.1 0.5 4.3 0.5 3 0.5 5 0.5 3.6 0.5 3.5 0.5 -1.2 0.5 -3.2 0.5 -4.8 0.5 -4.5 0.5 -5.3 0.5 -2.9 0.5 -2.6 0.5 0.4 0.5 -0.5 0.5 1.7 0.5 1.1 0.5 1.9 0.5 -0.2 0.5 2.6 0.5 3.2 0.5 5.3 0.5 3.2 0.5 4.9 0.5 0.5 0.5 -1.7 0.5 -3.8 0.5 -4.7 0.5 -5.5 0.5 -4.7 0.5 -3.8 0.5 -0.6 0.5 -1 0.5 2.2 0.5 3.3 0.5 3.7 0.5 1.2 0.5 0.7 0.5 0 0.5 1.2 0.5 2.5 0.5 5 0.5 3.3 0.5 2.5 0.5 -1.2 0.5 -0.8 0.5 -3.2 0.5 -0.7 0.5 -2.1 0.5 -1 0.5 -2.1 0.5 0.1 0.5 -1.1 0.5 2.7 0.5 0.2 0.5 2 0.5 0.5 0.5 1.8 0.5 -0.1 0.5 2.3 0.5 0.4 0.5 1.3 0.5 -0.4 0.5 1.2 0.5 -2.5 0.5 -0.5 0.5 -2.4 0.5 -2.5 0.5 -2.4 0.5 -0.1 0.5 -1.7 0.5 1.4 0.5 1.5 0.5 1.7 0.5 0.8 0.5 1.3 0.5 0.8 0.5 1.5 0.5 0.4 0.5 1.4 0.5 0.6 0.5 0 0.5 -0.7 0.5 -1.3 0.5 -1.5 0.5 -1.8 0.5 -2.4 0.5 -1.5 0.5 -2.1 0.5 0.2 0.5 0.3 0.5 2.6 0.5 2.1 0.5 2 0.5 -0.4 0.5 1.3 0.5 -0.5 0.5 1.3 0.5 0.9 0.5 1 0.5 0.1 0.5 0.4 0.5 -1.9 0.5 -1.2 0.5 -3.1 0.5 -2.5 0.5 -2.3 0.5 -0.2 0.5 -0.6 0.5 1.9 0.5 1.7 0.5 2.1 0.5 1.3 0.5 1.1 0.5 -0.5 0.5 1.1 0.5 1.2 0.5 1.3 0.5 0.2 0.5 0.2 0.5 -0.5 0.5 -1.4 0.5 -2.8 0.5 -1.4 0.5 -3.2 0.5 -1.3 0.5 -1.2 0.5 0.7 0.5 1.4 0.5 2.2 0.5 0.8 0.5 1.5 0.5 1.4" fill="none" stroke="#1e48a0" stroke-width="1.9" stroke-linejoin="round"/>
<path d="M85.3,187.0l0.5 13.2 0.5 7.8 0.5 20.9 0.5 5.8 0.5 20.3 0.5 -2.2 0.5 7.8 0.5 3.2 0.5 6.2 0.5 1.7 0.5 2.9 0.5 -3.7 0.5 -8.4 0.5 -15.4 0.5 -15.6 0.5 -23.5 0.5 -13.5 0.5 -5.5 0.5 6 0.5 15.9 0.5 20.1 0.5 14.9 0.5 14 0.5 1.2 0.5 -1.2 0.5 -8.7 0.5 -4.5 0.5 0.2 0.5 18 0.5 -2.2 0.5 6.2 0.5 -0.4 0.5 -5.2 0.5 -17.3 0.5 -10.6 0.5 -27.9 0.5 -9.9 0.5 -6.3 0.5 12.9 0.5 9.3 0.5 26.3 0.5 13.7 0.5 9.6 0.5 -2 0.5 -0.5 0.5 -1.8 0.5 9.7 0.5 0.2 0.5 2.5 0.5 -3.5 0.5 -3.8 0.5 -13.4 0.5 -12.9 0.5 -20.6 0.5 -8.4 0.5 -18.5 0.5 2 0.5 11.6 0.5 21.4 0.5 17.6 0.5 19.4 0.5 6.1 0.5 -0.6 0.5 -1.5 0.5 0 0.5 -9.1 0.5 0 0.5 -10.5 0.5 1.6 0.5 -5.7 0.5 1.8 0.5 -6.1 0.5 -7.7 0.5 -18.4 0.5 -7.4 0.5 -2.2 0.5 9.6 0.5 8.9 0.5 15.5 0.5 5.5 0.5 9.3 0.5 3.2 0.5 10.6 0.5 -0.4 0.5 2 0.5 -10.5 0.5 -0.5 0.5 -9.5 0.5 -0.8 0.5 -8.7 0.5 -7 0.5 -15.4 0.5 -6.8 0.5 -13.2 0.5 10.6 0.5 3.5 0.5 13.9 0.5 6.9 0.5 13.4 0.5 8.5 0.5 9.6 0.5 5.7 0.5 4.4 0.5 -8.9 0.5 -5.9 0.5 -11.8 0.5 -1 0.5 -10.6 0.5 -0.3 0.5 -14.9 0.5 -6.3 0.5 -10.9 0.5 2.3 0.5 6.6 0.5 5.6 0.5 5.1 0.5 10 0.5 5.2 0.5 13.7 0.5 9.3 0.5 8.3 0.5 -0.3 0.5 -7.5 0.5 -8.5 0.5 -6.1 0.5 -8.7 0.5 -3.1 0.5 -11.2 0.5 -7.1 0.5 -8.4 0.5 -4.5 0.5 1.5 0.5 6.4 0.5 2.3 0.5 6.9 0.5 1.9 0.5 17.6 0.5 7.2 0.5 11.5 0.5 1.7 0.5 2.8 0.5 -7.1 0.5 -6.4 0.5 -7.8 0.5 -6.7 0.5 -7.8 0.5 -9.1 0.5 -8.2 0.5 -1.7 0.5 -8 0.5 4.4 0.5 -2.9 0.5 4.9 0.5 6.4 0.5 13.5 0.5 12.5 0.5 16.5 0.5 5.9 0.5 6.5 0.5 -4.9 0.5 -7.3 0.5 -12.8 0.5 -8.2 0.5 -12.5 0.5 -8.6 0.5 -6.3 0.5 3.5 0.5 -2.3 0.5 2.2 0.5 -1.1 0.5 4 0.5 -2.1 0.5 5.4 0.5 10.4 0.5 11.5 0.5 8.4 0.5 14.2 0.5 2.7 0.5 2 0.5 -10.9 0.5 -10.6 0.5 -12.7 0.5 -14.3 0.5 -9 0.5 -1.5 0.5 0.2 0.5 3.8 0.5 -2.2 0.5 6.1 0.5 0.3 0.5 5 0.5 1.8 0.5 9.5 0.5 5.7 0.5 10.6 0.5 6.3 0.5 10.2 0.5 -2.2 0.5 -5.6 0.5 -12.6 0.5 -12.7 0.5 -14 0.5 -7.5 0.5 -4.5 0.5 1.7 0.5 -1.5 0.5 7.7 0.5 2.8 0.5 9.6 0.5 3.2 0.5 7.1 0.5 1.7 0.5 3.5 0.5 5.9 0.5 8.6 0.5 1.4 0.5 -0.3 0.5 -9.4 0.5 -6.3 0.5 -11.1 0.5 -8.1 0.5 -5.8 0.5 -1.9 0.5 -5 0.5 2 0.5 5.5 0.5 4.2 0.5 4.9 0.5 6.1 0.5 3.2 0.5 5.3 0.5 3.8 0.5 10.8 0.5 5.3 0.5 0.9 0.5 -6.5 0.5 -7.6 0.5 -12.8 0.5 -7.9 0.5 -8.5 0.5 -5.7 0.5 -4.8 0.5 -0.6 0.5 7.8 0.5 11 0.5 6.5 0.5 7.2 0.5 0.9 0.5 0.7 0.5 -0.9 0.5 6.8 0.5 4 0.5 5.3 0.5 -3.5 0.5 -4 0.5 -4.5 0.5 -5.1 0.5 -8.3 0.5 -7.8 0.5 -7.8 0.5 -4 0.5 -1.8 0.5 9.2 0.5 6.5 0.5 11.1 0.5 3.2 0.5 4.3 0.5 0.2 0.5 5.3 0.5 1.7 0.5 2.5 0.5 -2 0.5 -1.5 0.5 -4.6 0.5 -3.7 0.5 -5.6 0.5 -4.7 0.5 -11.1 0.5 -7.5 0.5 -4.4 0.5 4.9 0.5 7 0.5 11.9 0.5 4.6 0.5 7.5 0.5 2.5 0.5 5.4 0.5 3.3 0.5 2.5 0.5 -4.9 0.5 -4.3 0.5 -6.2 0.5 -3.5 0.5 -6 0.5 -2.2 0.5 -8.5 0.5 -5.1 0.5 -5.7 0.5 3.3 0.5 5.8 0.5 8.7 0.5 4.1 0.5 6.3 0.5 -0.1 0.5 8.7 0.5 0.4 0.5 4.3 0.5 -3.1 0.5 -2.6 0.5 -5.7 0.5 -2.4 0.5 -3.1 0.5 -3.8 0.5 -8.2 0.5 -6.7 0.5 -5.7 0.5 0.7 0.5 3.8 0.5 8.4 0.5 4.6 0.5 8.2 0.5 1.6 0.5 6.6 0.5 1.2 0.5 3.6 0.5 -3.1 0.5 -3.7 0.5 -6.5 0.5 0.3 0.5 -3.8 0.5 0 0.5 -5.6 0.5 -5.6 0.5 -7.8 0.5 -1.7 0.5 1 0.5 4.5 0.5 2.3 0.5 6.8 0.5 4.3 0.5 9.8 0.5 6.7 0.5 6.2 0.5 -1.3 0.5 -5.1 0.5 -7.7 0.5 -4.2 0.5 -6.2 0.5 -3.1 0.5 -4.7 0.5 -3.1 0.5 -4 0.5 0.6 0.5 1.6 0.5 5.3 0.5 1.8 0.5 4.2 0.5 4.4 0.5 5.9 0.5 5.1 0.5 6 0.5 2.6 0.5 -3.6 0.5 -8.6 0.5 -3.2 0.5 -7 0.5 -3.1 0.5 -4.1 0.5 -2.8 0.5 -2.1 0.5 2.3 0.5 3.1 0.5 3.5 0.5 1.1 0.5 1.3 0.5 -1 0.5 3.3 0.5 4.6 0.5 6.3 0.5 4.6 0.5 1.3 0.5 -2.2 0.5 -1.4 0.5 -5.3 0.5 -5.6 0.5 -6.8 0.5 -5.3 0.5 -7 0.5 -1.5 0.5 1.9 0.5 7.1 0.5 3.4 0.5 5.3 0.5 0.1 0.5 5.3 0.5 4.3 0.5 5.6 0.5 3.5 0.5 0.1 0.5 -3.9 0.5 -1.9 0.5 -6.7 0.5 -3.6 0.5 -7.6 0.5 -5.7 0.5 -6.1 0.5 -0.6 0.5 2.1 0.5 7 0.5 5.5 0.5 4.8 0.5 2.3 0.5 3.9 0.5 1.2 0.5 3.1 0.5 1.1 0.5 0.7 0.5 -4.1 0.5 -0.6 0.5 -3.1 0.5 -1.1 0.5 -5.1 0.5 -3.9 0.5 -5.5 0.5 -4.2 0.5 -2.7 0.5 6.3 0.5 2.7 0.5 3.4 0.5 1.7 0.5 4.5 0.5 2.5 0.5 7.4 0.5 0.3 0.5 4 0.5 -2.8 0.5 -1 0.5 -3.3 0.5 -2 0.5 -6.8 0.5 -5.7 0.5 -7 0.5 -3.8 0.5 -1.7 0.5 4.9 0.5 4.1 0.5 5.7 0.5 2.7 0.5 3.5 0.5 3.5 0.5 5.1 0.5 1.1 0.5 1.2 0.5 -3.3 0.5 -0.8 0.5 -1.4 0.5 -1.5 0.5 -2.9 0.5 -5.5 0.5 -6.6 0.5 -3.4 0.5 -3.5 0.5 3.1 0.5 2.2 0.5 5.3 0.5 3.3 0.5 5.6 0.5 5.7 0.5 6.1 0.5 -0.3 0.5 0.9 0.5 -4.3 0.5 -1.4 0.5 -2.8 0.5 0.1 0.5 -4.5 0.5 -0.5 0.5 -5.9 0.5 -1.7 0.5 -5.3 0.5 0.5 0.5 0.7 0.5 2.7 0.5 3 0.5 4.6 0.5 5 0.5 7.3 0.5 3.4 0.5 3.6 0.5 0.1 0.5 -2.6 0.5 -4.5 0.5 -3.3 0.5 -4.1 0.5 -4.4 0.5 -4.7 0.5 -1.8 0.5 -2 0.5 -0.8 0.5 1.3 0.5 4 0.5 0.2 0.5 4.2 0.5 4.6 0.5 5.9 0.5 3.3 0.5 4.6 0.5 2.2 0.5 -1 0.5 -4.9 0.5 -1.8 0.5 -4 0.5 -4.5 0.5 -5.3 0.5 -3.1 0.5 -2.7 0.5 -0.2 0.5 0.1 0.5 3.2 0.5 0.7 0.5 3.7 0.5 3.7 0.5 5 0.5 4.3 0.5 3.8 0.5 0.7 0.5 1.7 0.5 -4.1 0.5 -1 0.5 -4.5 0.5 -3.6 0.5 -5.5 0.5 -4.4 0.5 -2 0.5 -0.8 0.5 -1.9 0.5 1.7 0.5 0.6 0.5 2.8 0.5 2.7 0.5 6 0.5 3.6 0.5 5.8 0.5 1.7 0.5 3.1 0.5 -1.9 0.5 -1.6 0.5 -5.8 0.5 -4.4 0.5 -6.8 0.5 -4.4 0.5 -3 0.5 0.5 0.5 -1.3 0.5 2.2 0.5 2 0.5 4.3 0.5 3.1 0.5 3.1 0.5 1 0.5 1 0.5 0.6 0.5 2.3 0.5 1.6 0.5 1.1 0.5 -1.5 0.5 -1.7 0.5 -4.3 0.5 -4 0.5 -4.9 0.5 -2.1 0.5 -4.1 0.5 -1.1 0.5 -0.5 0.5 3.8 0.5 2.5 0.5 5.2 0.5 3.6 0.5 2.6 0.5 0.6 0.5 3.4 0.5 2.3 0.5 2.2 0.5 -2.5 0.5 -1.7 0.5 -5.5 0.5 -3.1 0.5 -4.7 0.5 -3.9 0.5 -4.5 0.5 -2.2 0.5 -1.3 0.5 4.6 0.5 4.6 0.5 5.5 0.5 3.8 0.5 3.3 0.5 0.9 0.5 1.6 0.5 -0.4 0.5 1.7 0.5 -2.5 0.5 -1.2 0.5 -5 0.5 0.2 0.5 -4.6 0.5 -1.2 0.5 -2.4 0.5 -2.3 0.5 -2.9 0.5 0.6 0.5 2.5 0.5 3.4 0.5 1.4 0.5 2.9 0.5 -0.3 0.5 3.2 0.5 1.6 0.5 4 0.5 1.2 0.5 0.2 0.5 -1.8 0.5 -1.7 0.5 -3.4 0.5 -3.2 0.5 -5.3 0.5 -5.3 0.5 -4.6 0.5 -2 0.5 2.5 0.5 5.3 0.5 3.6 0.5 5.5 0.5 1.7 0.5 1.7 0.5 1.2 0.5 2.3 0.5 1.2 0.5 0.2 0.5 -3.9 0.5 -1 0.5 -2.5 0.5 -1.9 0.5 -4.5 0.5 -3.9 0.5 -4.8 0.5 -2.6 0.5 -0.6 0.5 5.4 0.5 4 0.5 4 0.5 0.8 0.5 2.4 0.5 0.9 0.5 0.6 0.5 1.1 0.5 1.7 0.5 -1.4 0.5 -0.1 0.5 -1.4 0.5 0.4 0.5 -2.5 0.5 -3.6 0.5 -6 0.5 -5 0.5 -4.3 0.5 0.5 0.5 2.3 0.5 5.3 0.5 2 0.5 5.6 0.5 2.3 0.5 2.7 0.5 0.9 0.5 1.2 0.5 -1.1 0.5 -1.4 0.5 -1.7 0.5 0.4 0.5 -1.5 0.5 -2.8 0.5 -5.7 0.5 -4.9 0.5 -4.5 0.5 -1.7 0.5 -0.6 0.5 3.1 0.5 2.8 0.5 4.8 0.5 4.2 0.5 4.5 0.5 1.8" fill="none" stroke="#157a35" stroke-width="1.9" stroke-linejoin="round"/>
<path d="M85.3,277.6l0.5 12.8 0.5 5.5 0.5 4 0.5 0.4 0.5 4.2 0.5 3 0.5 10.4 0.5 10.4 0.5 14.4 0.5 1.3 0.5 -1.9 0.5 -8.2 0.5 -11.8 0.5 -16.9 0.5 -14.8 0.5 -14.4 0.5 -5.4 0.5 -1.7 0.5 10.5 0.5 11.7 0.5 12.3 0.5 5.1 0.5 4 0.5 -0.6 0.5 5.8 0.5 4.1 0.5 12.3 0.5 9 0.5 1.1 0.5 -3.8 0.5 -7.5 0.5 -15.3 0.5 -13.2 0.5 -15.2 0.5 -9 0.5 -7.1 0.5 0.2 0.5 7.7 0.5 12 0.5 8.8 0.5 11 0.5 7.1 0.5 7 0.5 4.5 0.5 5.3 0.5 2.6 0.5 -1.3 0.5 -3.2 0.5 -2.5 0.5 -6.2 0.5 -7.5 0.5 -13.4 0.5 -12.9 0.5 -12.6 0.5 -9.5 0.5 2 0.5 11.7 0.5 12.1 0.5 14.6 0.5 6.9 0.5 7.9 0.5 3.1 0.5 7.4 0.5 4.4 0.5 3.1 0.5 -2.8 0.5 -4 0.5 -7.7 0.5 -10 0.5 -16.2 0.5 -11.5 0.5 -11 0.5 -7.3 0.5 -0.6 0.5 11.3 0.5 12.9 0.5 14.5 0.5 10.3 0.5 7.8 0.5 1.7 0.5 0.2 0.5 -2.6 0.5 1.9 0.5 -4.1 0.5 -0.6 0.5 -1.7 0.5 0.1 0.5 -5.5 0.5 -9.7 0.5 -13 0.5 -8.6 0.5 -10.6 0.5 2.6 0.5 5.8 0.5 10.3 0.5 11 0.5 9.8 0.5 4.5 0.5 5.9 0.5 2.6 0.5 2.8 0.5 0.4 0.5 -4.9 0.5 -5.2 0.5 -3 0.5 -4.8 0.5 -2.1 0.5 -6.2 0.5 -5.8 0.5 -10.4 0.5 -9.1 0.5 -2.8 0.5 2.6 0.5 5.5 0.5 12.8 0.5 12.9 0.5 13.9 0.5 7.8 0.5 4.6 0.5 -0.1 0.5 -5.5 0.5 -9.8 0.5 -4.7 0.5 -7.2 0.5 -2 0.5 -4.8 0.5 -4.3 0.5 -7.1 0.5 -5 0.5 -5.9 0.5 5 0.5 3.1 0.5 7.5 0.5 4.9 0.5 9.6 0.5 6.8 0.5 9.3 0.5 2 0.5 5.2 0.5 -5.4 0.5 -2.5 0.5 -8.4 0.5 -4.2 0.5 -6.3 0.5 -4.7 0.5 -8.9 0.5 -5.2 0.5 -7 0.5 -1.5 0.5 3.2 0.5 7.2 0.5 7 0.5 10.2 0.5 5 0.5 8.9 0.5 3.9 0.5 4.6 0.5 0.3 0.5 -4 0.5 -6 0.5 -5.3 0.5 -6.7 0.5 -6 0.5 -6 0.5 -2.9 0.5 -5.1 0.5 -2.3 0.5 -1.7 0.5 4 0.5 0.2 0.5 6.9 0.5 4.8 0.5 11 0.5 7.8 0.5 9.3 0.5 4.8 0.5 1 0.5 -9.5 0.5 -8.6 0.5 -8.9 0.5 -3.6 0.5 -6 0.5 0.4 0.5 -3.3 0.5 -4.1 0.5 -5.3 0.5 -1.5 0.5 1 0.5 3.8 0.5 4.6 0.5 7.7 0.5 8.1 0.5 11.8 0.5 6.8 0.5 7.5 0.5 0 0.5 -5.1 0.5 -9.3 0.5 -8.9 0.5 -13 0.5 -6.6 0.5 -7.9 0.5 -1.5 0.5 -0.9 0.5 2.1 0.5 5.9 0.5 6.7 0.5 2.8 0.5 3.7 0.5 4.2 0.5 5.2 0.5 3.7 0.5 7.5 0.5 3.8 0.5 0.4 0.5 -4.8 0.5 -3.9 0.5 -7.4 0.5 -7.7 0.5 -7.3 0.5 -5.7 0.5 -5.8 0.5 -0.4 0.5 0.6 0.5 7.5 0.5 3.9 0.5 5.7 0.5 1.6 0.5 3.2 0.5 3.5 0.5 6.8 0.5 6.1 0.5 9.9 0.5 -2.5 0.5 -1.5 0.5 -8.9 0.5 -7.6 0.5 -8.6 0.5 -7.1 0.5 -5.2 0.5 -1.1 0.5 -3.1 0.5 4 0.5 0.9 0.5 5.3 0.5 2.2 0.5 6.2 0.5 5.1 0.5 8.3 0.5 6.3 0.5 6.3 0.5 2 0.5 -2.4 0.5 -7.1 0.5 -4 0.5 -8.3 0.5 -7.1 0.5 -5.5 0.5 -5.8 0.5 -5 0.5 0.5 0.5 3.9 0.5 7.7 0.5 3.3 0.5 4.2 0.5 3 0.5 2.8 0.5 3.1 0.5 6 0.5 6.5 0.5 4 0.5 -1.3 0.5 -1.1 0.5 -7.7 0.5 -7.5 0.5 -11.2 0.5 -7.3 0.5 -9.2 0.5 -2.5 0.5 -0.9 0.5 9 0.5 7.1 0.5 8.2 0.5 5.6 0.5 4.9 0.5 1.9 0.5 4 0.5 0.4 0.5 4.7 0.5 -3.2 0.5 0.7 0.5 -3.5 0.5 -3.6 0.5 -9.3 0.5 -7.3 0.5 -10.9 0.5 -3.7 0.5 -2.6 0.5 4.6 0.5 8.3 0.5 8.3 0.5 4.7 0.5 3.6 0.5 2.2 0.5 2.9 0.5 2.1 0.5 5.6 0.5 1.9 0.5 -0.3 0.5 -4.6 0.5 -3.8 0.5 -6.3 0.5 -3.6 0.5 -8.1 0.5 -4.6 0.5 -7.4 0.5 -3 0.5 1.7 0.5 7.3 0.5 4.6 0.5 8.5 0.5 7.2 0.5 5.1 0.5 3.9 0.5 3 0.5 0.8 0.5 -0.5 0.5 -2.3 0.5 -1.4 0.5 -5.1 0.5 -5.8 0.5 -8.2 0.5 -7.8 0.5 -8 0.5 -4.2 0.5 0 0.5 8.1 0.5 6.2 0.5 9 0.5 6.1 0.5 5.8 0.5 1.2 0.5 3 0.5 -0.3 0.5 1.2 0.5 -5.8 0.5 -0.7 0.5 -4.3 0.5 -1.1 0.5 -3.8 0.5 -4.7 0.5 -7.7 0.5 -4.7 0.5 -6.9 0.5 2.2 0.5 4 0.5 6.9 0.5 6.4 0.5 6.4 0.5 4.3 0.5 4.3 0.5 1.3 0.5 3.4 0.5 -2 0.5 -1.4 0.5 -4.2 0.5 -3.8 0.5 -4.4 0.5 -5.8 0.5 -7 0.5 -5.1 0.5 -4.6 0.5 2.4 0.5 2.2 0.5 4.5 0.5 4.3 0.5 5.5 0.5 5.8 0.5 6.3 0.5 5.2 0.5 4.2 0.5 -1.9 0.5 -3.8 0.5 -6.8 0.5 -4.8 0.5 -5.9 0.5 -2.8 0.5 -3.4 0.5 -3.2 0.5 -3.9 0.5 -1.3 0.5 0.3 0.5 4 0.5 3 0.5 6.8 0.5 5.8 0.5 6.1 0.5 4.4 0.5 3 0.5 1 0.5 -3.2 0.5 -4.3 0.5 -3.2 0.5 -7.2 0.5 -4.9 0.5 -4.1 0.5 -3.1 0.5 -4.3 0.5 -0.8 0.5 2.1 0.5 3.7 0.5 2.7 0.5 5.5 0.5 2.9 0.5 7.2 0.5 4 0.5 5 0.5 2.4 0.5 -1.9 0.5 -5.5 0.5 -6.2 0.5 -6.7 0.5 -3.6 0.5 -3.9 0.5 -1.1 0.5 -4.3 0.5 0.6 0.5 1.7 0.5 5.4 0.5 3.3 0.5 3.7 0.5 1.1 0.5 4.6 0.5 -1 0.5 3.6 0.5 1.4 0.5 2.5 0.5 -1.9 0.5 -0.5 0.5 -3.9 0.5 -3.1 0.5 -6.7 0.5 -3.9 0.5 -4.3 0.5 -0.1 0.5 -0.7 0.5 5 0.5 3 0.5 2.7 0.5 0.2 0.5 2.6 0.5 1.7 0.5 5.6 0.5 3.7 0.5 2.9 0.5 -0.8 0.5 -1.3 0.5 -3.7 0.5 -5.1 0.5 -4.6 0.5 -3.4 0.5 -6 0.5 -2.4 0.5 -1.4 0.5 3.1 0.5 2.7 0.5 3.7 0.5 3.5 0.5 4.4 0.5 3.2 0.5 4.7 0.5 1.2 0.5 2 0.5 -1.5 0.5 -0.8 0.5 -4.6 0.5 -3.4 0.5 -4.4 0.5 -3.7 0.5 -5.4 0.5 -1.1 0.5 -2.7 0.5 4.4 0.5 3.1 0.5 4.1 0.5 2.5 0.5 2.3 0.5 2.1 0.5 2.2 0.5 2.2 0.5 4.1 0.5 -2.8 0.5 -1 0.5 -1.4 0.5 -3.4 0.5 -3.2 0.5 -3.5 0.5 -4.2 0.5 -3.8 0.5 -3.6 0.5 1.5 0.5 1.9 0.5 6.2 0.5 4.4 0.5 5.8 0.5 2.4 0.5 1.3 0.5 0.4 0.5 0.5 0.5 -2.8 0.5 -0.4 0.5 -3.5 0.5 -0.3 0.5 -4.1 0.5 -1.9 0.5 -5 0.5 0 0.5 -2.9 0.5 0.6 0.5 2.6 0.5 3.8 0.5 2.3 0.5 2.8 0.5 1.7 0.5 3 0.5 1.7 0.5 2.2 0.5 -1.4 0.5 -1.4 0.5 -3.3 0.5 -1.3 0.5 -3.2 0.5 -2.5 0.5 -3 0.5 -0.3 0.5 -3 0.5 0.5 0.5 0.5 0.5 2.3 0.5 2.1 0.5 3.2 0.5 1.3 0.5 3 0.5 0.3 0.5 4.7 0.5 -1.1 0.5 1.3 0.5 -1.8 0.5 -2.3 0.5 -2.5 0.5 -3.6 0.5 -4.6 0.5 -2.3 0.5 -4.7 0.5 1.1 0.5 0.5 0.5 5 0.5 0.5 0.5 4.6 0.5 2.2 0.5 3.7 0.5 2.2 0.5 3.6 0.5 0.4 0.5 -2.5 0.5 -3.6 0.5 -2.6 0.5 -4.3 0.5 -1.5 0.5 -2.1 0.5 -0.6 0.5 -1.9 0.5 -1.3 0.5 0.1 0.5 0.8 0.5 1.6 0.5 3.6 0.5 2.3 0.5 4.1 0.5 1.8 0.5 4.2 0.5 -0.6 0.5 2 0.5 -3.5 0.5 -2.1 0.5 -2.1 0.5 -3.1 0.5 -4 0.5 -1.3 0.5 -4.9 0.5 -0.3 0.5 0.3 0.5 2.8 0.5 2.2 0.5 2.6 0.5 1 0.5 2.5 0.5 1.7 0.5 3 0.5 2.7 0.5 2.5 0.5 -1.9 0.5 -1.1 0.5 -2.9 0.5 -2.6 0.5 -5.7 0.5 -3.1 0.5 -4.6 0.5 0.6 0.5 -1.9 0.5 3.7 0.5 1.2 0.5 4.9 0.5 2.2 0.5 3.7 0.5 -0.1 0.5 2.5 0.5 -0.7 0.5 3.4 0.5 -1.3 0.5 -1.3 0.5 -1.8 0.5 -1.5 0.5 -4.7 0.5 -0.2 0.5 -6.2 0.5 -0.9 0.5 -2.4 0.5 1.1 0.5 2.4 0.5 2.1 0.5 1.1 0.5 3.2 0.5 3 0.5 3.6 0.5 2.4 0.5 4.1 0.5 0.2 0.5 -2.1 0.5 -4.2 0.5 -3.7 0.5 -4.5 0.5 -2.3 0.5 -3.6 0.5 -0.7 0.5 -1.2 0.5 0.1 0.5 1.9 0.5 3.5 0.5 1.3 0.5 3.4 0.5 1.7 0.5 5.1 0.5 -0.9 0.5 2.2 0.5 0.8 0.5 -1 0.5 -0.7 0.5 -1.3 0.5 -3.7 0.5 -2.1 0.5 -5.6 0.5 -0.7 0.5 -4.2 0.5 -0.1 0.5 0.6 0.5 3.7 0.5 3.4 0.5 3.9 0.5 0.3 0.5 1.8 0.5 0.4 0.5 2.3 0.5 1.2 0.5 0.9 0.5 -2.2 0.5 1 0.5 -3 0.5 -0.6 0.5 -3.3 0.5 -2.2 0.5 -5.2 0.5 -3.9 0.5 -2.4 0.5 1 0.5 2 0.5 4.4 0.5 2.4 0.5 4.3 0.5 2.3 0.5 2.9 0.5 0.4" fill="none" stroke="#e8217a" stroke-width="1.9" stroke-linejoin="round"/>
<path d="M85.3,467.6l0.5 8 0.5 -9.3 0.5 1.6 0.5 -7 0.5 3.7 0.5 4.1 0.5 3.5 0.5 -9.8 0.5 3.2 0.5 -21.1 0.5 -5.7 0.5 -12.6 0.5 -0.7 0.5 0.9 0.5 10.9 0.5 12.7 0.5 23.7 0.5 -1.9 0.5 8.4 0.5 -6.4 0.5 -3.4 0.5 -9 0.5 -4.5 0.5 3 0.5 10.2 0.5 -2 0.5 2.7 0.5 -14.9 0.5 -12 0.5 -15.8 0.5 -4.4 0.5 -1.8 0.5 12.7 0.5 2.4 0.5 18 0.5 15.4 0.5 6 0.5 -1.7 0.5 5 0.5 -11.1 0.5 -8.2 0.5 -13.4 0.5 14.4 0.5 -5.3 0.5 1.7 0.5 -9.2 0.5 -2.3 0.5 -11 0.5 -4.8 0.5 -4 0.5 8.5 0.5 -3.5 0.5 9.5 0.5 9.8 0.5 16.8 0.5 8.5 0.5 6.1 0.5 -2.6 0.5 -5.5 0.5 -18.3 0.5 -7 0.5 -3.7 0.5 -1.7 0.5 -8.5 0.5 -1.3 0.5 -2.5 0.5 3.8 0.5 1.4 0.5 1.6 0.5 -5.6 0.5 4.4 0.5 2.5 0.5 6.3 0.5 18.2 0.5 17.6 0.5 5 0.5 -5 0.5 -18.1 0.5 -8.5 0.5 -16 0.5 -6.6 0.5 -9.7 0.5 1.1 0.5 1.8 0.5 12.7 0.5 0.8 0.5 3.8 0.5 -0.1 0.5 7.1 0.5 -8.7 0.5 4.8 0.5 6.9 0.5 19.2 0.5 8.1 0.5 4.3 0.5 -10.1 0.5 -10.1 0.5 -19.3 0.5 -8 0.5 -9 0.5 2.3 0.5 -2.8 0.5 10.4 0.5 3.2 0.5 8.9 0.5 3.8 0.5 2.7 0.5 -10.8 0.5 9.8 0.5 -3.6 0.5 7.8 0.5 10 0.5 7.6 0.5 3.6 0.5 -1.6 0.5 -11.1 0.5 -7 0.5 -16.6 0.5 -11.3 0.5 -6 0.5 5 0.5 0.8 0.5 15.2 0.5 7.6 0.5 11 0.5 -1 0.5 2.3 0.5 -3.4 0.5 -0.6 0.5 2.9 0.5 5.7 0.5 4.8 0.5 9.7 0.5 -8 0.5 -3.1 0.5 -17.4 0.5 -13.3 0.5 -16.5 0.5 -6.8 0.5 4.8 0.5 16.5 0.5 14.3 0.5 11.7 0.5 4.3 0.5 1 0.5 -5.7 0.5 1.5 0.5 0.4 0.5 6.3 0.5 -2.1 0.5 5.7 0.5 -1.1 0.5 0.9 0.5 -12.4 0.5 -8.6 0.5 -22.1 0.5 -13.4 0.5 -4.3 0.5 10.2 0.5 19.2 0.5 17.3 0.5 9.5 0.5 5.8 0.5 -1.9 0.5 1.2 0.5 -0.6 0.5 4.8 0.5 -7.9 0.5 -5.2 0.5 -4.8 0.5 -0.6 0.5 -1 0.5 3 0.5 -12.5 0.5 -9.1 0.5 -18.3 0.5 -1.1 0.5 4.9 0.5 13.8 0.5 14.1 0.5 14.2 0.5 6.1 0.5 3.9 0.5 -2.7 0.5 3.2 0.5 -4 0.5 -6.9 0.5 -10 0.5 -7.5 0.5 -3.8 0.5 4.4 0.5 -3.1 0.5 -1.7 0.5 -12.7 0.5 -7.7 0.5 -6.2 0.5 2.9 0.5 10.6 0.5 19.1 0.5 10.1 0.5 12.2 0.5 -2.2 0.5 0.8 0.5 -3 0.5 -7.9 0.5 -3.5 0.5 -6 0.5 -8.2 0.5 -1.8 0.5 -3.6 0.5 0.2 0.5 -9.4 0.5 -7.2 0.5 -4.8 0.5 2.2 0.5 0.5 0.5 11.9 0.5 13.6 0.5 16 0.5 5.9 0.5 8.8 0.5 -2.1 0.5 -4.8 0.5 -11.6 0.5 -9 0.5 -8.2 0.5 -6.8 0.5 -6.8 0.5 0.7 0.5 -4.4 0.5 0.9 0.5 -2.6 0.5 4.4 0.5 -1 0.5 1.6 0.5 1.2 0.5 13.2 0.5 9.3 0.5 16.2 0.5 10 0.5 3.1 0.5 -7.3 0.5 -12.5 0.5 -16.2 0.5 -11.1 0.5 -11.1 0.5 -3.9 0.5 -3.4 0.5 4.3 0.5 0.8 0.5 11 0.5 1.9 0.5 3.5 0.5 -2.2 0.5 2.9 0.5 3.6 0.5 9 0.5 12.9 0.5 13.6 0.5 -1.7 0.5 -5 0.5 -13.7 0.5 -13.1 0.5 -14.1 0.5 -5.7 0.5 -4.1 0.5 0.2 0.5 -0.6 0.5 5.1 0.5 7.1 0.5 7 0.5 3.2 0.5 2.4 0.5 -1.9 0.5 5.5 0.5 5.4 0.5 12.7 0.5 7 0.5 2.1 0.5 -5.7 0.5 -10.6 0.5 -13.5 0.5 -8.5 0.5 -9.4 0.5 -3.6 0.5 -4 0.5 1.9 0.5 4 0.5 9.6 0.5 8.1 0.5 4.7 0.5 1.8 0.5 2.1 0.5 1.6 0.5 7.8 0.5 9.4 0.5 4.5 0.5 0.4 0.5 -4.8 0.5 -11.4 0.5 -11.4 0.5 -14.1 0.5 -9.1 0.5 -8 0.5 -1.3 0.5 5 0.5 10.5 0.5 11.1 0.5 9.6 0.5 5 0.5 0.6 0.5 -1.5 0.5 2.3 0.5 7.2 0.5 6.8 0.5 3.6 0.5 -0.5 0.5 -7.7 0.5 -10.9 0.5 -15.7 0.5 -11.3 0.5 -11.4 0.5 -3.4 0.5 -0.7 0.5 9.7 0.5 12.7 0.5 13.1 0.5 8.8 0.5 6.6 0.5 -3.4 0.5 -0.8 0.5 -0.3 0.5 7.2 0.5 -0.5 0.5 1.3 0.5 -3.3 0.5 -5.1 0.5 -11.1 0.5 -7.2 0.5 -9.5 0.5 -6.7 0.5 -7.6 0.5 1.6 0.5 4.9 0.5 10.6 0.5 11.9 0.5 12.6 0.5 6.6 0.5 2.9 0.5 -0.6 0.5 0.4 0.5 -1.7 0.5 -0.7 0.5 -3.1 0.5 -4.3 0.5 -7.9 0.5 -7.7 0.5 -7.6 0.5 -4.9 0.5 -5.9 0.5 -1.8 0.5 1.6 0.5 5.8 0.5 6.6 0.5 10.4 0.5 8.6 0.5 7.3 0.5 2 0.5 2.8 0.5 0.1 0.5 -2.1 0.5 -1.5 0.5 -1.3 0.5 -7.3 0.5 -8.4 0.5 -12.8 0.5 -8.7 0.5 -8.1 0.5 -3.5 0.5 4.6 0.5 7.2 0.5 8.3 0.5 9.5 0.5 8.3 0.5 6.7 0.5 4.8 0.5 4.4 0.5 1.2 0.5 -4.9 0.5 -6.8 0.5 -3 0.5 -5.5 0.5 -4.3 0.5 -6 0.5 -7.1 0.5 -9 0.5 -5 0.5 -0.3 0.5 5.9 0.5 5.7 0.5 8.8 0.5 6.3 0.5 8.6 0.5 6.8 0.5 7.9 0.5 5.1 0.5 0.3 0.5 -8.1 0.5 -8.8 0.5 -13 0.5 -9 0.5 -7 0.5 -1.2 0.5 -0.5 0.5 -1.4 0.5 -0.2 0.5 4 0.5 3.7 0.5 7.1 0.5 4.9 0.5 5.6 0.5 2 0.5 5.3 0.5 5.3 0.5 5.3 0.5 1 0.5 -2.6 0.5 -8.8 0.5 -12.3 0.5 -12.8 0.5 -6 0.5 -3.8 0.5 1 0.5 1.1 0.5 3.8 0.5 2.5 0.5 6 0.5 7.8 0.5 9.9 0.5 5.7 0.5 2.3 0.5 -0.1 0.5 1.8 0.5 -1.4 0.5 2 0.5 -2.1 0.5 -6.7 0.5 -12.8 0.5 -11.1 0.5 -7.7 0.5 -1 0.5 3.2 0.5 5.8 0.5 4 0.5 2.8 0.5 3 0.5 6.8 0.5 7.5 0.5 8.6 0.5 3.9 0.5 3.1 0.5 -3.6 0.5 -1.5 0.5 -2.1 0.5 -4.4 0.5 -11.9 0.5 -12.7 0.5 -12.9 0.5 -6.9 0.5 1.3 0.5 12 0.5 10.6 0.5 8.1 0.5 2.9 0.5 2.8 0.5 1.5 0.5 5.2 0.5 5.5 0.5 5.5 0.5 -2.4 0.5 -3.2 0.5 -4.8 0.5 -5.2 0.5 -6.7 0.5 -8.9 0.5 -11.4 0.5 -7.5 0.5 -5.1 0.5 7.3 0.5 9 0.5 11.1 0.5 8.2 0.5 6.8 0.5 1.9 0.5 3.2 0.5 2.9 0.5 3.1 0.5 -3.9 0.5 -2.7 0.5 -7.2 0.5 -5.4 0.5 -7.9 0.5 -5.7 0.5 -6 0.5 -4 0.5 -4.3 0.5 5.8 0.5 3 0.5 7.5 0.5 5.3 0.5 9.1 0.5 5.2 0.5 5.7 0.5 1.9 0.5 2.3 0.5 -6.1 0.5 -3.6 0.5 -4.5 0.5 -3.4 0.5 -7.6 0.5 -5.9 0.5 -7.6 0.5 -4.5 0.5 -3.6 0.5 6.6 0.5 4.1 0.5 4.1 0.5 4.8 0.5 6.4 0.5 5.2 0.5 7.9 0.5 4.9 0.5 2.6 0.5 -6.4 0.5 -4.6 0.5 -4.4 0.5 -2.6 0.5 -5.7 0.5 -6.1 0.5 -9.8 0.5 -8.1 0.5 -3.6 0.5 5.9 0.5 7.1 0.5 9.1 0.5 4.3 0.5 4.9 0.5 3.3 0.5 5.3 0.5 6.3 0.5 5.8 0.5 -3.2 0.5 -3.7 0.5 -8.5 0.5 -6.3 0.5 -6 0.5 -6 0.5 -7.8 0.5 -6.4 0.5 -3.9 0.5 5.1 0.5 7.7 0.5 8.8 0.5 4.9 0.5 5.9 0.5 2.1 0.5 4.9 0.5 5.6 0.5 6.1 0.5 -0.4 0.5 -2.7 0.5 -9.8 0.5 -8.4 0.5 -11.2 0.5 -6.9 0.5 -6.5 0.5 -2.6 0.5 -2.1 0.5 9.4 0.5 6.3 0.5 9.6 0.5 4.5 0.5 4.4 0.5 0.5 0.5 2.3 0.5 4.3 0.5 5.6 0.5 -0.6 0.5 -0.9 0.5 -8.7 0.5 -8.2 0.5 -10 0.5 -7.4 0.5 -5.7 0.5 -2.2 0.5 -1.1 0.5 6.6 0.5 5.3 0.5 7.9 0.5 7.2 0.5 6.5 0.5 2.8 0.5 2.4 0.5 2.8 0.5 3.2 0.5 -1.3 0.5 -3.5 0.5 -6.7 0.5 -8 0.5 -9.8 0.5 -5.4 0.5 -3 0.5 -1.5 0.5 -0.6 0.5 4.9 0.5 1.1 0.5 6 0.5 6.3 0.5 7.3 0.5 4.5 0.5 6 0.5 2.2 0.5 1.5 0.5 -2.7 0.5 -1.9 0.5 -4.1 0.5 -5.8 0.5 -8.5 0.5 -8.3 0.5 -8.7 0.5 -2.5 0.5 -1 0.5 5.5 0.5 4.7 0.5 6.4 0.5 6 0.5 7.9 0.5 6.3 0.5 4.7 0.5 2 0.5 -0.7 0.5 -4.6 0.5 -2.6 0.5 -2.9 0.5 -3 0.5 -7 0.5 -6.8 0.5 -10.3 0.5 -4.8 0.5 -3.4 0.5 4.9 0.5 6.9 0.5 8.6 0.5 6.4 0.5 7.1 0.5 3.9 0.5 4.6 0.5 2 0.5 2.3 0.5 -2.7 0.5 -3.4 0.5 -6.3 0.5 -5.4 0.5 -7.7 0.5 -7.7 0.5 -6.5 0.5 -4.5 0.5 -0.8 0.5 5.2 0.5 6.1 0.5 8.7 0.5 6.6 0.5 5.2 0.5 3.3 0.5 2 0.5 0.2 0.5 3.1 0.5 -1 0.5 -0.8 0.5 -5.9 0.5 -5.7 0.5 -11 0.5 -8.2 0.5 -5.1 0.5 0.4 0.5 0.9 0.5 6.3 0.5 3.3 0.5 3.3 0.5 2.6 0.5 4.7 0.5 6" fill="none" stroke="#231f20" stroke-width="1.9" stroke-linejoin="round"/>
<path d="M85.3,542.5l0.5 23.2 0.5 -1.4 0.5 8.7 0.5 -6.2 0.5 6.2 0.5 -12.6 0.5 4.9 0.5 -16 0.5 9.6 0.5 -3.9 0.5 3.9 0.5 -12.9 0.5 2.3 0.5 -18.3 0.5 5.9 0.5 -8.3 0.5 3.7 0.5 7.4 0.5 9.9 0.5 5 0.5 13.7 0.5 2 0.5 5.7 0.5 -9.1 0.5 1.3 0.5 -20 0.5 -0.3 0.5 -9 0.5 3.5 0.5 -4.6 0.5 9.7 0.5 -8 0.5 -1.5 0.5 -5.5 0.5 5.2 0.5 -12.3 0.5 7.5 0.5 6.8 0.5 13.2 0.5 15.7 0.5 9.7 0.5 -4.5 0.5 1.8 0.5 -17.5 0.5 -9.4 0.5 -12.7 0.5 5.7 0.5 -13.2 0.5 4.8 0.5 -2.2 0.5 14.3 0.5 -4 0.5 5.3 0.5 -8.2 0.5 7.9 0.5 -4.8 0.5 9.6 0.5 5.1 0.5 12.6 0.5 0.2 0.5 9.7 0.5 -14 0.5 -6.3 0.5 -14.7 0.5 -7.1 0.5 -8.5 0.5 1.8 0.5 1.3 0.5 6.8 0.5 4.8 0.5 8.5 0.5 -7.4 0.5 11.8 0.5 -4.7 0.5 -3.1 0.5 -0.3 0.5 9.6 0.5 4.9 0.5 12.2 0.5 -2.2 0.5 1.4 0.5 -10.2 0.5 -8.4 0.5 -18.7 0.5 -8.6 0.5 -6.3 0.5 5.7 0.5 9.2 0.5 17.2 0.5 2.3 0.5 5 0.5 -0.6 0.5 0.4 0.5 -1.4 0.5 7.1 0.5 0.6 0.5 4.4 0.5 -3.4 0.5 2.5 0.5 -9.9 0.5 -4.4 0.5 -16.2 0.5 -2.4 0.5 -16.6 0.5 3.6 0.5 8.2 0.5 16.6 0.5 4.7 0.5 14.6 0.5 0.5 0.5 -2.2 0.5 -9.5 0.5 7.8 0.5 -4.9 0.5 6.2 0.5 2.6 0.5 2.9 0.5 -6 0.5 -5.7 0.5 -12.2 0.5 -8.4 0.5 -13.8 0.5 -1.1 0.5 -0.8 0.5 11.4 0.5 6.7 0.5 17.4 0.5 8.8 0.5 10.6 0.5 -3.4 0.5 2.7 0.5 -13.3 0.5 -8 0.5 -6.8 0.5 2.5 0.5 -4.1 0.5 7.5 0.5 -7.6 0.5 0 0.5 -13.3 0.5 -4.7 0.5 -6.9 0.5 7.4 0.5 6.1 0.5 13.6 0.5 10.6 0.5 7.9 0.5 2.6 0.5 5.3 0.5 -6.9 0.5 -8.2 0.5 -11.2 0.5 -3 0.5 -5.2 0.5 2.8 0.5 -6.7 0.5 1.7 0.5 -2.4 0.5 -0.8 0.5 -7.1 0.5 -1.2 0.5 2.4 0.5 6.9 0.5 9.8 0.5 11.8 0.5 9.3 0.5 11 0.5 0 0.5 -6.2 0.5 -11.9 0.5 -12.5 0.5 -10.3 0.5 -7.1 0.5 -3.6 0.5 -1 0.5 0.6 0.5 5.8 0.5 5.5 0.5 8.6 0.5 -1.3 0.5 2.2 0.5 -6.5 0.5 9.3 0.5 6.7 0.5 14.2 0.5 5 0.5 0.9 0.5 -9.2 0.5 -10 0.5 -16.7 0.5 -10.8 0.5 -6.7 0.5 4.1 0.5 0.3 0.5 10.3 0.5 5.5 0.5 6.1 0.5 -2.4 0.5 0.5 0.5 -1.3 0.5 3.4 0.5 4.2 0.5 11.3 0.5 4.1 0.5 7 0.5 -2.9 0.5 -4.6 0.5 -15.5 0.5 -10.2 0.5 -14.1 0.5 -7.1 0.5 -4.9 0.5 7.4 0.5 11.6 0.5 15 0.5 7.1 0.5 6.8 0.5 -6.3 0.5 -0.5 0.5 -1 0.5 3 0.5 1.6 0.5 3.8 0.5 5.4 0.5 -0.3 0.5 -7 0.5 -7.5 0.5 -13.2 0.5 -10 0.5 -13.5 0.5 -1.4 0.5 5.1 0.5 15 0.5 11.5 0.5 13.5 0.5 6.2 0.5 4.7 0.5 -5.5 0.5 -1.3 0.5 -1.4 0.5 0 0.5 -0.6 0.5 4.1 0.5 -5.2 0.5 -6.1 0.5 -15.3 0.5 -9.4 0.5 -13.8 0.5 0.5 0.5 6.7 0.5 12.1 0.5 9.7 0.5 12.5 0.5 1.6 0.5 5.1 0.5 1.4 0.5 2.4 0.5 -2.3 0.5 -2.5 0.5 -6.5 0.5 -1 0.5 -5.5 0.5 -2.8 0.5 -5.9 0.5 -3.9 0.5 -11.3 0.5 -6.5 0.5 -1.1 0.5 6 0.5 7.1 0.5 12.5 0.5 6.8 0.5 11.2 0.5 2.1 0.5 1.3 0.5 -1.2 0.5 -3.6 0.5 -4 0.5 -4 0.5 -8 0.5 -1.7 0.5 -6.1 0.5 -3.4 0.5 -8.1 0.5 -5.9 0.5 -3.7 0.5 2 0.5 2.8 0.5 8.3 0.5 12.8 0.5 14.9 0.5 8.6 0.5 7.2 0.5 0.1 0.5 -7.9 0.5 -11.2 0.5 -9.4 0.5 -7.6 0.5 -1.9 0.5 -3 0.5 -1 0.5 -6.1 0.5 -4.6 0.5 -2.5 0.5 2.2 0.5 4 0.5 5.5 0.5 4.7 0.5 8.2 0.5 6.8 0.5 11 0.5 7.8 0.5 5.8 0.5 -4.3 0.5 -6.5 0.5 -13.5 0.5 -13.1 0.5 -12.3 0.5 -8 0.5 -3 0.5 1.1 0.5 3.6 0.5 8.6 0.5 5.4 0.5 4.6 0.5 2.9 0.5 4.4 0.5 3.8 0.5 6.6 0.5 6.1 0.5 7.1 0.5 -2.5 0.5 -2.4 0.5 -7 0.5 -8.4 0.5 -11.3 0.5 -9.1 0.5 -7.2 0.5 -1.4 0.5 -1 0.5 8 0.5 5.3 0.5 4.2 0.5 2.1 0.5 2 0.5 2.8 0.5 8.5 0.5 9.1 0.5 10.2 0.5 2.9 0.5 -2.3 0.5 -7.7 0.5 -8.1 0.5 -11.7 0.5 -8.4 0.5 -10.1 0.5 -6.2 0.5 -5.2 0.5 1.9 0.5 6.9 0.5 9.2 0.5 10.1 0.5 9.4 0.5 4.9 0.5 4.6 0.5 0.4 0.5 4 0.5 1.6 0.5 -0.3 0.5 -1.8 0.5 -2.2 0.5 -9.7 0.5 -10.5 0.5 -11.7 0.5 -8.1 0.5 -6.6 0.5 2 0.5 8.3 0.5 10.7 0.5 7.1 0.5 6.9 0.5 2 0.5 2.7 0.5 2 0.5 5.2 0.5 4.1 0.5 2.2 0.5 -0.4 0.5 -0.3 0.5 -5.3 0.5 -7.7 0.5 -12.3 0.5 -11.6 0.5 -10.5 0.5 -5.6 0.5 3.2 0.5 10.6 0.5 10.3 0.5 10.8 0.5 6.2 0.5 4 0.5 1.8 0.5 3.8 0.5 3.8 0.5 3.5 0.5 -2.3 0.5 -3.2 0.5 -6.9 0.5 -7 0.5 -9.5 0.5 -5.5 0.5 -6.4 0.5 -3.3 0.5 -4.5 0.5 3.4 0.5 4.7 0.5 6.8 0.5 6.9 0.5 8.1 0.5 5.9 0.5 5.8 0.5 2.7 0.5 3.9 0.5 -2.5 0.5 0.6 0.5 -3.7 0.5 -1 0.5 -9.4 0.5 -10.9 0.5 -13.5 0.5 -10.3 0.5 -7.5 0.5 3.5 0.5 9 0.5 11.9 0.5 10.3 0.5 10.5 0.5 3.8 0.5 3 0.5 -0.6 0.5 1.6 0.5 -2.7 0.5 -4.1 0.5 -4 0.5 -1.9 0.5 -3.6 0.5 -3.9 0.5 -7.2 0.5 -6.7 0.5 -8.6 0.5 -3.9 0.5 3.2 0.5 6.3 0.5 8.4 0.5 8.5 0.5 4.7 0.5 5.2 0.5 0.7 0.5 3.5 0.5 2.4 0.5 -1.3 0.5 -3.2 0.5 -1.9 0.5 -7.4 0.5 -5.5 0.5 -6.8 0.5 -4.6 0.5 -5.6 0.5 -3.4 0.5 -1.2 0.5 0.9 0.5 2.1 0.5 5.5 0.5 6.7 0.5 10.8 0.5 9.1 0.5 9.7 0.5 3.6 0.5 -2 0.5 -8.3 0.5 -6.6 0.5 -8.9 0.5 -4.9 0.5 -5.9 0.5 -4.2 0.5 -6.1 0.5 -2.8 0.5 -2.6 0.5 5.4 0.5 4 0.5 7.3 0.5 3.6 0.5 6.3 0.5 3.2 0.5 7.8 0.5 4.9 0.5 6.2 0.5 -1.5 0.5 -4.3 0.5 -7 0.5 -7 0.5 -9 0.5 -7.7 0.5 -8.5 0.5 -2.9 0.5 -3.7 0.5 4.8 0.5 5.3 0.5 8.1 0.5 7.3 0.5 7.6 0.5 4.2 0.5 3.8 0.5 1.9 0.5 4.4 0.5 -2.5 0.5 -1.5 0.5 -4.2 0.5 -4.7 0.5 -7.8 0.5 -7 0.5 -9.4 0.5 -2.4 0.5 -1.3 0.5 2.6 0.5 5.8 0.5 4.7 0.5 0.3 0.5 2.8 0.5 2.8 0.5 5.6 0.5 8 0.5 10 0.5 4.4 0.5 -0.6 0.5 -6.4 0.5 -7.8 0.5 -8.5 0.5 -7.4 0.5 -7.9 0.5 -4.3 0.5 -5 0.5 -1.7 0.5 4.3 0.5 6.3 0.5 5.3 0.5 7.2 0.5 3.5 0.5 6 0.5 4.4 0.5 4.9 0.5 4.7 0.5 -0.5 0.5 -2.6 0.5 -4.5 0.5 -8.2 0.5 -8.1 0.5 -10.2 0.5 -6.4 0.5 -6.7 0.5 1.1 0.5 4.7 0.5 7.8 0.5 7.2 0.5 6.9 0.5 3.2 0.5 5 0.5 2 0.5 3.8 0.5 2.7 0.5 -0.1 0.5 -2.7 0.5 -1.4 0.5 -3.6 0.5 -5.7 0.5 -10.3 0.5 -9.4 0.5 -9.2 0.5 -3.8 0.5 4.4 0.5 9.6 0.5 9.9 0.5 8.8 0.5 3.4 0.5 0.6 0.5 0.3 0.5 1.8 0.5 4.3 0.5 3.2 0.5 -0.9 0.5 -2.1 0.5 -5.4 0.5 -6.8 0.5 -9.6 0.5 -4.6 0.5 -7.6 0.5 -1.6 0.5 -0.6 0.5 5.2 0.5 5 0.5 5.9 0.5 6 0.5 5.3 0.5 3.2 0.5 3.5 0.5 2 0.5 1.2 0.5 -2.4 0.5 -0.4 0.5 -3.6 0.5 -2.8 0.5 -9 0.5 -6.2 0.5 -9.9 0.5 -6.3 0.5 -3 0.5 5 0.5 5 0.5 8.1 0.5 8.4 0.5 8.3 0.5 5.8 0.5 5.2 0.5 3.3 0.5 -0.9 0.5 -7.5 0.5 -6 0.5 -8.3 0.5 -3.7 0.5 -4.6 0.5 -1.4 0.5 -4.1 0.5 -2.3 0.5 -3.9 0.5 4.4 0.5 1.8 0.5 6.1 0.5 6.7 0.5 6.8 0.5 3.8 0.5 4.1 0.5 2.6 0.5 1.7 0.5 -3.8 0.5 -0.6 0.5 -5.3 0.5 -6 0.5 -7.5 0.5 -8.7 0.5 -7.2 0.5 -2.4 0.5 0.2 0.5 8.1 0.5 4.9 0.5 5.9 0.5 2.7 0.5 4.3 0.5 3.2 0.5 4.2 0.5 4.8 0.5 3.2 0.5 -1.7 0.5 -4.2 0.5 -6.1 0.5 -5.7 0.5 -7.2 0.5 -6.1 0.5 -5.6 0.5 -2.4 0.5 -1.3 0.5 4.6 0.5 6 0.5 5.5 0.5 4.2 0.5 3.5 0.5 3.3 0.5 4.4 0.5 3.2 0.5 5 0.5 -2.1 0.5 -1 0.5 -5.8 0.5 -7.3 0.5 -8.3 0.5 -6.3 0.5 -5.3 0.5 -1.3 0.5 -0.1 0.5 4.6 0.5 2.6 0.5 4 0.5 2.3" fill="none" stroke="#1e48a0" stroke-width="1.9" stroke-linejoin="round"/>
<path d="M85.3,628.9l0.5 3.6 0.5 -0.9 0.5 4.3 0.5 5.7 0.5 7 0.5 2.5 0.5 -0.7 0.5 -7 0.5 -3.8 0.5 -10.6 0.5 -7.4 0.5 -7.2 0.5 -2.9 0.5 -1.8 0.5 10.5 0.5 4.9 0.5 11.5 0.5 -0.1 0.5 1.8 0.5 -4.1 0.5 1.6 0.5 2.7 0.5 5.4 0.5 3.8 0.5 4 0.5 -2.8 0.5 -3.7 0.5 -9 0.5 -11.6 0.5 -8.8 0.5 -5.8 0.5 -3 0.5 7.4 0.5 9.5 0.5 9.6 0.5 6.8 0.5 2.9 0.5 -1.1 0.5 0.7 0.5 -4.5 0.5 4.1 0.5 -2.7 0.5 4.2 0.5 0.8 0.5 1.3 0.5 -4.7 0.5 -8.7 0.5 -7.9 0.5 -6.8 0.5 -10.8 0.5 2.1 0.5 3.9 0.5 8.5 0.5 8.6 0.5 11.1 0.5 4.2 0.5 5.2 0.5 -4.2 0.5 1.7 0.5 -10.2 0.5 -0.4 0.5 -5.4 0.5 2.7 0.5 -2.7 0.5 -1.7 0.5 -4.7 0.5 -5.8 0.5 -7 0.5 -1.1 0.5 -2.1 0.5 5 0.5 7.4 0.5 10.4 0.5 7.7 0.5 7.4 0.5 2.6 0.5 0.7 0.5 -8.8 0.5 -3.4 0.5 -10.6 0.5 -2.6 0.5 -2.5 0.5 -0.1 0.5 -2.7 0.5 -0.9 0.5 -5.9 0.5 3.6 0.5 -5.4 0.5 5.8 0.5 0 0.5 8.2 0.5 6.6 0.5 10.1 0.5 5.5 0.5 5.2 0.5 -5.3 0.5 -8.8 0.5 -9.5 0.5 -5.5 0.5 -8 0.5 3 0.5 -3 0.5 0.4 0.5 -1.2 0.5 5.7 0.5 -2.5 0.5 3 0.5 -1.7 0.5 3.3 0.5 3.4 0.5 10.4 0.5 6.8 0.5 9.2 0.5 -2.3 0.5 0.6 0.5 -13.1 0.5 -9.2 0.5 -10.7 0.5 -7 0.5 -2.4 0.5 0.6 0.5 1.5 0.5 9.7 0.5 5.1 0.5 1.8 0.5 0.3 0.5 0.4 0.5 0.9 0.5 4.7 0.5 3.9 0.5 9.3 0.5 1.1 0.5 2.8 0.5 -10.6 0.5 -3.2 0.5 -10.5 0.5 -6.9 0.5 -8.7 0.5 -0.1 0.5 -0.9 0.5 6.8 0.5 7.1 0.5 7.2 0.5 2 0.5 1.8 0.5 1 0.5 3.4 0.5 1.5 0.5 5 0.5 -1.1 0.5 1.8 0.5 -2.9 0.5 -2.8 0.5 -9.4 0.5 -7.4 0.5 -9.4 0.5 -3.2 0.5 -3.5 0.5 8.1 0.5 6 0.5 7.1 0.5 5.5 0.5 6.5 0.5 -0.8 0.5 1.1 0.5 0.7 0.5 1 0.5 -3.4 0.5 4 0.5 -1.2 0.5 2.4 0.5 -5.8 0.5 -6.9 0.5 -11.2 0.5 -7.4 0.5 -8.6 0.5 4.5 0.5 4.3 0.5 11.1 0.5 6.8 0.5 12.7 0.5 0.8 0.5 3 0.5 -1.9 0.5 -1.8 0.5 -7.3 0.5 -2 0.5 -2.5 0.5 0.9 0.5 0.2 0.5 -1 0.5 -7.2 0.5 -3.9 0.5 -11.2 0.5 -1.7 0.5 0.7 0.5 7 0.5 7 0.5 10.3 0.5 5.5 0.5 10.3 0.5 1.6 0.5 0.4 0.5 -7.4 0.5 -5.3 0.5 -8.5 0.5 -4 0.5 -4.9 0.5 1.5 0.5 -3.6 0.5 1 0.5 -5.5 0.5 2.8 0.5 -3.8 0.5 1.7 0.5 3.3 0.5 5.9 0.5 5 0.5 8.9 0.5 6.1 0.5 6.6 0.5 -4.7 0.5 -3.5 0.5 -8.7 0.5 -7.7 0.5 -4.9 0.5 -3.2 0.5 -3.7 0.5 1 0.5 -5 0.5 0.3 0.5 -1 0.5 2.7 0.5 2.9 0.5 5.3 0.5 3.8 0.5 10.1 0.5 7.6 0.5 6 0.5 -2.3 0.5 -2.7 0.5 -7.4 0.5 -6.6 0.5 -8.8 0.5 -3.4 0.5 -3.4 0.5 -0.3 0.5 -1.8 0.5 0.4 0.5 0.4 0.5 4.5 0.5 -0.7 0.5 5.2 0.5 0.3 0.5 10.8 0.5 4.5 0.5 8.9 0.5 3.8 0.5 0.7 0.5 -6.1 0.5 -6.8 0.5 -11.4 0.5 -9.4 0.5 -9.7 0.5 -1.3 0.5 0.5 0.5 6 0.5 5 0.5 9.4 0.5 1 0.5 1.2 0.5 -3.2 0.5 -0.5 0.5 1.4 0.5 6 0.5 7.3 0.5 5.1 0.5 0.6 0.5 0.9 0.5 -8.6 0.5 -7.9 0.5 -11.9 0.5 -8.4 0.5 -6 0.5 2.6 0.5 2.4 0.5 12.8 0.5 5.7 0.5 5.1 0.5 -0.9 0.5 1.2 0.5 -3.7 0.5 5.5 0.5 2.7 0.5 6.5 0.5 -0.5 0.5 2.1 0.5 -1.4 0.5 -5.8 0.5 -9.2 0.5 -8.6 0.5 -9 0.5 -5.2 0.5 -2.3 0.5 5 0.5 10 0.5 10.3 0.5 3.9 0.5 5.5 0.5 1.6 0.5 0.8 0.5 0.6 0.5 7.5 0.5 -4.1 0.5 1.8 0.5 -2 0.5 -3.6 0.5 -8.2 0.5 -7.9 0.5 -11.1 0.5 -5.6 0.5 -5.6 0.5 6.1 0.5 6.8 0.5 11.2 0.5 5.7 0.5 10.8 0.5 -2 0.5 2.9 0.5 -3.1 0.5 1.1 0.5 -1.7 0.5 1.1 0.5 0.4 0.5 -1.6 0.5 -3.3 0.5 -5.4 0.5 -9.8 0.5 -7.6 0.5 -9.8 0.5 1.2 0.5 3 0.5 8.3 0.5 8.1 0.5 9.2 0.5 6.2 0.5 2.9 0.5 -1.6 0.5 0.2 0.5 -1.2 0.5 -1.5 0.5 -3.6 0.5 1.7 0.5 -2.8 0.5 -1.5 0.5 -6.5 0.5 -3.8 0.5 -9.1 0.5 -4.8 0.5 -5.3 0.5 4.4 0.5 4 0.5 7.5 0.5 8.4 0.5 11.7 0.5 2.5 0.5 4 0.5 -0.8 0.5 -2.5 0.5 -7.7 0.5 -2.3 0.5 -6.1 0.5 -2 0.5 -0.7 0.5 -1.3 0.5 -6.2 0.5 -4.5 0.5 -7.5 0.5 1.8 0.5 1.7 0.5 6.6 0.5 5.4 0.5 11.4 0.5 9.6 0.5 5.7 0.5 -1.1 0.5 -0.4 0.5 -8.7 0.5 -7 0.5 -6.8 0.5 1 0.5 -5.1 0.5 1.3 0.5 -2.4 0.5 -2.7 0.5 -6.7 0.5 -0.6 0.5 -2.2 0.5 4.4 0.5 2.6 0.5 8.6 0.5 6 0.5 10.6 0.5 3.1 0.5 3.2 0.5 -3.5 0.5 -5.2 0.5 -8.8 0.5 -2.6 0.5 -6.2 0.5 -2.2 0.5 -2.2 0.5 0.1 0.5 -4.7 0.5 -0.7 0.5 -1.6 0.5 4.9 0.5 -4.2 0.5 6.6 0.5 3.5 0.5 9.9 0.5 6.5 0.5 10 0.5 1.8 0.5 -0.8 0.5 -9 0.5 -5.3 0.5 -13.3 0.5 -4.6 0.5 -7.6 0.5 0.9 0.5 -2.5 0.5 3.2 0.5 1.5 0.5 5.1 0.5 1.5 0.5 3.1 0.5 0.5 0.5 7.1 0.5 3.5 0.5 7.8 0.5 4.7 0.5 0.1 0.5 -4.3 0.5 -3.7 0.5 -8.2 0.5 -5.1 0.5 -7.4 0.5 -1.3 0.5 -3.4 0.5 1.3 0.5 0.6 0.5 6.2 0.5 2.9 0.5 3 0.5 -1.4 0.5 3.2 0.5 2.4 0.5 8.1 0.5 1.4 0.5 8.1 0.5 -2.9 0.5 -1.5 0.5 -5.3 0.5 -5.3 0.5 -8.6 0.5 -5.8 0.5 -3.8 0.5 -1.3 0.5 -1.3 0.5 6.5 0.5 4.8 0.5 5.9 0.5 0.2 0.5 2.6 0.5 -1.4 0.5 3.9 0.5 4 0.5 6.7 0.5 2 0.5 1.6 0.5 -4.8 0.5 -5.2 0.5 -12.9 0.5 -6.5 0.5 -8.3 0.5 -2 0.5 -1.4 0.5 10.1 0.5 4.4 0.5 11.7 0.5 -1.6 0.5 7.9 0.5 -4.5 0.5 0.3 0.5 -0.3 0.5 3.6 0.5 -1.1 0.5 3.2 0.5 -0.2 0.5 -0.6 0.5 -7.1 0.5 -6.5 0.5 -8.1 0.5 -4.7 0.5 -5.1 0.5 4 0.5 1.6 0.5 10.1 0.5 4.5 0.5 6.6 0.5 2 0.5 3.2 0.5 -2.1 0.5 0.2 0.5 -2.5 0.5 1.4 0.5 -1.9 0.5 1.2 0.5 -3.6 0.5 -1 0.5 -6.8 0.5 -3.4 0.5 -10.9 0.5 0.4 0.5 -0.1 0.5 3.6 0.5 5.9 0.5 7.8 0.5 3.2 0.5 7.6 0.5 3.6 0.5 1.7 0.5 -0.8 0.5 -2.9 0.5 -4.1 0.5 -0.6 0.5 -4.4 0.5 -2.2 0.5 -6.6 0.5 -3.5 0.5 -8.6 0.5 -2.3 0.5 -1.3 0.5 8 0.5 4.5 0.5 9.4 0.5 4.4 0.5 5.5 0.5 1.9 0.5 3.4 0.5 -2.9 0.5 -4.4 0.5 -6.4 0.5 -1.1 0.5 -3.7 0.5 -2.6 0.5 -1.7 0.5 -0.2 0.5 -8.4 0.5 -0.7 0.5 -0.6 0.5 3.9 0.5 3 0.5 4.3 0.5 5.4 0.5 7.4 0.5 1.5 0.5 6.9 0.5 -3.7 0.5 -1.8 0.5 -6.4 0.5 -5.4 0.5 -5.6 0.5 -0.9 0.5 -1.3 0.5 2.6 0.5 -2.7 0.5 -1.5 0.5 -1.4 0.5 1.3 0.5 -3.2 0.5 3.3 0.5 -0.8 0.5 9 0.5 5.4 0.5 7.2 0.5 1.5 0.5 4 0.5 -5.2 0.5 -5.9 0.5 -9.2 0.5 -3.8 0.5 -6.3 0.5 -0.9 0.5 -1.8 0.5 2.9 0.5 0.8 0.5 5.5 0.5 -1.6 0.5 3.5 0.5 -0.4 0.5 4.7 0.5 5.6 0.5 6.5 0.5 2.7 0.5 2.7 0.5 -3.9 0.5 -3 0.5 -8.4 0.5 -4.2 0.5 -10.4 0.5 -2.9 0.5 -2.9 0.5 0.1 0.5 4.4 0.5 10.1 0.5 1.3 0.5 4.8 0.5 0.6 0.5 3.1 0.5 1 0.5 1.2 0.5 1.5 0.5 1.5 0.5 -1.8 0.5 -0.3 0.5 -4.5 0.5 -2.7 0.5 -6.6 0.5 -4.5 0.5 -7.7 0.5 -0.7 0.5 3.4 0.5 6.9 0.5 3.5 0.5 7.4 0.5 0.4 0.5 2.3 0.5 -0.6 0.5 3.5 0.5 0 0.5 1.8 0.5 -2 0.5 2.5 0.5 -3.7 0.5 -3.7 0.5 -5.5 0.5 -5.6 0.5 -7.3 0.5 -3.1 0.5 -0.3 0.5 7.7 0.5 3.3 0.5 9.1 0.5 2.8 0.5 4.1 0.5 2 0.5 2 0.5 0.5 0.5 -3.1 0.5 -0.8 0.5 -2 0.5 -4.8 0.5 -2.1 0.5 -5.4 0.5 -4.6 0.5 -4 0.5 -4.2 0.5 0.8 0.5 5.6 0.5 3.5 0.5 9 0.5 5 0.5 4.1 0.5 1.7 0.5 1.8 0.5 -3.2 0.5 -1.4 0.5 -7.7 0.5 -0.7 0.5 -2.4 0.5 -1.4 0.5 -2.3 0.5 -0.9 0.5 -6.5 0.5 0.2 0.5 -0.9 0.5 0.8 0.5 1.9 0.5 6.1 0.5 3.8" fill="none" stroke="#a33c91" stroke-width="1.9" stroke-linejoin="round"/>
<path d="M85.3,698.8l0.5 3.6 0.5 1.5 0.5 9.4 0.5 4.9 0.5 6.7 0.5 -2.2 0.5 1 0.5 -7.6 0.5 -5.2 0.5 -8.9 0.5 -6.7 0.5 -7.3 0.5 1.6 0.5 -1.3 0.5 7.5 0.5 3 0.5 7.8 0.5 -3.2 0.5 4.5 0.5 0.3 0.5 2.6 0.5 2.7 0.5 7.9 0.5 2.8 0.5 1.2 0.5 -5.1 0.5 -2.4 0.5 -7.7 0.5 -7.2 0.5 -7.5 0.5 -1 0.5 -4.4 0.5 4.3 0.5 5.5 0.5 8 0.5 2.9 0.5 2.9 0.5 -0.4 0.5 0.5 0.5 -3.3 0.5 4.9 0.5 3 0.5 2.9 0.5 3.5 0.5 1.7 0.5 -4.3 0.5 -5.6 0.5 -13.1 0.5 -7.8 0.5 -6.3 0.5 -3.2 0.5 5.3 0.5 8.4 0.5 7.6 0.5 8.9 0.5 1.6 0.5 1.9 0.5 -0.7 0.5 0.1 0.5 -0.3 0.5 0.5 0.5 1.5 0.5 1.6 0.5 -1.2 0.5 0.2 0.5 -9 0.5 -7.3 0.5 -11.4 0.5 -7 0.5 -0.9 0.5 6.7 0.5 8.4 0.5 10.6 0.5 7.4 0.5 4.1 0.5 0.2 0.5 -1.5 0.5 -2.8 0.5 -0.3 0.5 -2.4 0.5 2.2 0.5 -1.4 0.5 0.7 0.5 -6.1 0.5 -5.5 0.5 -7.9 0.5 -7.5 0.5 -5.2 0.5 4.9 0.5 2.6 0.5 12.3 0.5 8.4 0.5 8.2 0.5 0.1 0.5 4.9 0.5 -6 0.5 -3.9 0.5 -3.8 0.5 -3 0.5 -2.4 0.5 4.7 0.5 -3.8 0.5 1 0.5 -8.7 0.5 -3.9 0.5 -7.2 0.5 1.6 0.5 1.5 0.5 3 0.5 5.5 0.5 7 0.5 5.7 0.5 7.4 0.5 -0.5 0.5 0.4 0.5 -5.6 0.5 -4.5 0.5 -7.5 0.5 0.2 0.5 -3.8 0.5 1.3 0.5 -3.2 0.5 0.1 0.5 -9.2 0.5 0 0.5 -3.4 0.5 3.1 0.5 4.3 0.5 7.6 0.5 7 0.5 10.5 0.5 2.2 0.5 4.6 0.5 -8.1 0.5 -4.9 0.5 -11.3 0.5 -0.5 0.5 -6.2 0.5 2.3 0.5 -2.3 0.5 1.7 0.5 -4.2 0.5 3.6 0.5 -2.3 0.5 -1 0.5 -1.2 0.5 3.6 0.5 4 0.5 13.8 0.5 7.6 0.5 6.7 0.5 -1.5 0.5 -4.2 0.5 -13.7 0.5 -8 0.5 -6.7 0.5 -3.1 0.5 0.2 0.5 2.2 0.5 1 0.5 6.3 0.5 0.8 0.5 2.6 0.5 -3.4 0.5 2.8 0.5 -1 0.5 6.6 0.5 2.6 0.5 10.8 0.5 1.2 0.5 0.6 0.5 -8.4 0.5 -3.9 0.5 -10.2 0.5 -6.4 0.5 -5.1 0.5 -0.3 0.5 -0.2 0.5 9.5 0.5 4.9 0.5 3.5 0.5 0.4 0.5 -0.1 0.5 -1.3 0.5 4.9 0.5 1.2 0.5 7.4 0.5 -0.2 0.5 2.4 0.5 0.5 0.5 -3.8 0.5 -8.4 0.5 -8.2 0.5 -9.3 0.5 -2.8 0.5 -4.8 0.5 7.1 0.5 5.5 0.5 12.2 0.5 3.1 0.5 5.9 0.5 -0.2 0.5 0.1 0.5 -2.8 0.5 1.8 0.5 -0.8 0.5 1.6 0.5 -0.6 0.5 0.7 0.5 -6.7 0.5 -3.1 0.5 -9.4 0.5 -4.8 0.5 -8.6 0.5 2.8 0.5 2.9 0.5 7.3 0.5 8.3 0.5 9.3 0.5 2.9 0.5 3.4 0.5 -3.4 0.5 0.4 0.5 -6.8 0.5 -2.9 0.5 -2.6 0.5 2.4 0.5 -0.7 0.5 -1.8 0.5 -7 0.5 -5 0.5 -7.6 0.5 0.3 0.5 0 0.5 4.4 0.5 7 0.5 9.6 0.5 5.6 0.5 4 0.5 1.2 0.5 2.2 0.5 -9 0.5 -3.5 0.5 -6.2 0.5 -0.2 0.5 -3.3 0.5 0.4 0.5 0.5 0.5 -2.9 0.5 -7.3 0.5 1.1 0.5 -5.1 0.5 0.7 0.5 3.8 0.5 8.6 0.5 9.3 0.5 11.6 0.5 3.1 0.5 2.8 0.5 -7.2 0.5 -5.2 0.5 -10.6 0.5 -6.1 0.5 -5.3 0.5 -1.6 0.5 0.6 0.5 1.6 0.5 0 0.5 6.2 0.5 -1.5 0.5 -1.6 0.5 0.3 0.5 2.7 0.5 2.2 0.5 9.1 0.5 6.9 0.5 9.4 0.5 -3.1 0.5 -1.7 0.5 -11.5 0.5 -7.2 0.5 -10.7 0.5 -4.9 0.5 -1.6 0.5 5.2 0.5 2.5 0.5 9.3 0.5 1 0.5 1.6 0.5 -3.2 0.5 0.7 0.5 0.9 0.5 3.5 0.5 4.2 0.5 8.1 0.5 0.8 0.5 2.7 0.5 -6.2 0.5 -5.3 0.5 -12.4 0.5 -4.8 0.5 -9.8 0.5 -1.1 0.5 3.2 0.5 10.1 0.5 7.3 0.5 7.5 0.5 -0.9 0.5 2.1 0.5 -6.3 0.5 1.9 0.5 -0.3 0.5 7.4 0.5 1.6 0.5 3 0.5 -0.1 0.5 -3 0.5 -7.3 0.5 -6.9 0.5 -10.1 0.5 -4.9 0.5 -4.6 0.5 4.9 0.5 5.9 0.5 10.5 0.5 6 0.5 7.1 0.5 1 0.5 1 0.5 -2.1 0.5 2 0.5 -4.5 0.5 1.8 0.5 -2.3 0.5 2.2 0.5 -6.7 0.5 -6.6 0.5 -8.9 0.5 -3.6 0.5 -8 0.5 5 0.5 5.1 0.5 8.6 0.5 7 0.5 7 0.5 5 0.5 0.5 0.5 0.8 0.5 0.1 0.5 -7.2 0.5 0.2 0.5 -6.4 0.5 0.5 0.5 -1.8 0.5 -1 0.5 -4.8 0.5 -7 0.5 -9 0.5 1.2 0.5 -0.9 0.5 8.5 0.5 4.9 0.5 11 0.5 7.1 0.5 4.2 0.5 1.3 0.5 -0.3 0.5 -6.3 0.5 -4.3 0.5 -5.2 0.5 -3.1 0.5 -3.3 0.5 1.6 0.5 -5.7 0.5 -1.2 0.5 -7 0.5 1.4 0.5 0.8 0.5 3.2 0.5 1.6 0.5 7.2 0.5 6.9 0.5 7.9 0.5 4.7 0.5 3.2 0.5 -5.7 0.5 -3.9 0.5 -7.6 0.5 -5.9 0.5 -3.3 0.5 -1.4 0.5 -1.4 0.5 1.1 0.5 -8 0.5 1.8 0.5 -0.3 0.5 2.3 0.5 1.6 0.5 5.8 0.5 4.1 0.5 7.4 0.5 6.5 0.5 6 0.5 -2.6 0.5 -0.2 0.5 -8.2 0.5 -5.8 0.5 -8.7 0.5 -4.8 0.5 -4.5 0.5 0.3 0.5 0.3 0.5 5.2 0.5 1.7 0.5 3.7 0.5 -1.6 0.5 2.7 0.5 0 0.5 5.9 0.5 2.2 0.5 7 0.5 1.9 0.5 2.9 0.5 -1.3 0.5 -4.7 0.5 -8.3 0.5 -5.8 0.5 -7.4 0.5 -6.2 0.5 -2.7 0.5 3.8 0.5 5.4 0.5 6.3 0.5 1.6 0.5 4.6 0.5 -0.5 0.5 0.4 0.5 1.5 0.5 6 0.5 4.7 0.5 4.2 0.5 -1.8 0.5 -1.4 0.5 -8.7 0.5 -6.4 0.5 -7.9 0.5 -3.9 0.5 -6.6 0.5 1.7 0.5 4.2 0.5 9.3 0.5 2.4 0.5 5.4 0.5 1.9 0.5 0.5 0.5 -1.5 0.5 3 0.5 2.2 0.5 3.8 0.5 1.3 0.5 2.5 0.5 -6.1 0.5 -3.3 0.5 -12.3 0.5 -4 0.5 -9.2 0.5 -1.5 0.5 0.7 0.5 10.2 0.5 6.8 0.5 5.3 0.5 3.6 0.5 0.6 0.5 -1.5 0.5 4.8 0.5 -1.8 0.5 3.7 0.5 -2.2 0.5 4.1 0.5 -4.4 0.5 -0.7 0.5 -6.1 0.5 -4.1 0.5 -9.6 0.5 -5.5 0.5 -2.4 0.5 7 0.5 4.3 0.5 8.5 0.5 3.6 0.5 3.9 0.5 -0.8 0.5 -0.1 0.5 -1.2 0.5 3.9 0.5 -2.5 0.5 4.1 0.5 -0.2 0.5 1.3 0.5 -4.3 0.5 -6 0.5 -10.2 0.5 -7.1 0.5 -4 0.5 -0.1 0.5 2 0.5 10 0.5 6.1 0.5 6.4 0.5 4.4 0.5 2.7 0.5 -0.9 0.5 -0.7 0.5 -3.1 0.5 -2.1 0.5 -1.5 0.5 6.3 0.5 -3.5 0.5 -1.4 0.5 -6.5 0.5 -5.9 0.5 -7 0.5 -2.3 0.5 -2 0.5 5.7 0.5 1.7 0.5 11 0.5 4.8 0.5 5 0.5 0.9 0.5 1.6 0.5 -2.9 0.5 -2.5 0.5 -5.3 0.5 0 0.5 -1.8 0.5 0.4 0.5 -2.7 0.5 -0.2 0.5 -6.5 0.5 -2.8 0.5 -7.6 0.5 3.6 0.5 3.6 0.5 7.4 0.5 3.7 0.5 6.4 0.5 2.1 0.5 2 0.5 0.6 0.5 -0.7 0.5 -6 0.5 -2.1 0.5 -2.9 0.5 0.7 0.5 -6.4 0.5 1.4 0.5 -3.8 0.5 0.3 0.5 -6.5 0.5 2.4 0.5 -4.6 0.5 4.8 0.5 1.7 0.5 7.2 0.5 3.5 0.5 7 0.5 3.2 0.5 3.8 0.5 -5.3 0.5 -1.3 0.5 -9.4 0.5 -5.3 0.5 -1.9 0.5 0.2 0.5 -3.2 0.5 1.2 0.5 -4.1 0.5 1 0.5 -0.9 0.5 4 0.5 -1.3 0.5 5.4 0.5 -0.4 0.5 9.7 0.5 3.8 0.5 7.4 0.5 -0.8 0.5 -3.1 0.5 -6.2 0.5 -3.6 0.5 -8.7 0.5 -1.7 0.5 -4.3 0.5 3.8 0.5 -3.3 0.5 2.9 0.5 1.3 0.5 2 0.5 -3.2 0.5 1.4 0.5 1.8 0.5 7.2 0.5 3.8 0.5 8 0.5 1.4 0.5 -0.5 0.5 -5.9 0.5 -2.2 0.5 -6.9 0.5 -5.1 0.5 -4.8 0.5 0.3 0.5 0.4 0.5 2.1 0.5 1.5 0.5 5.5 0.5 -0.8 0.5 0.2 0.5 -3.4 0.5 3.3 0.5 1.1 0.5 8.3 0.5 2.5 0.5 4.7 0.5 -2.9 0.5 -0.4 0.5 -4.7 0.5 -4 0.5 -10.2 0.5 0.8 0.5 -6.5 0.5 2.1 0.5 -0.2 0.5 6.9 0.5 3.1 0.5 4.2 0.5 -1.3 0.5 2.9 0.5 -2.9 0.5 2.5 0.5 2.7 0.5 4.5 0.5 -1 0.5 2.5 0.5 -2.2 0.5 -2.7 0.5 -8 0.5 -4.4 0.5 -9.2 0.5 2.6 0.5 -0.7 0.5 4.5 0.5 4.5 0.5 6.7 0.5 1 0.5 2.9 0.5 -3.4 0.5 1 0.5 -2.3 0.5 4.2 0.5 -0.8 0.5 4.7 0.5 -0.8 0.5 2.1 0.5 -5.1 0.5 -2.6 0.5 -10.1 0.5 -4.3 0.5 -3.9 0.5 2.6 0.5 3.7 0.5 10 0.5 3.4 0.5 3.7 0.5 -1 0.5 1.8 0.5 -4.6 0.5 3.7 0.5 -3.3 0.5 1.6 0.5 0.9 0.5 0.7 0.5 -1.7 0.5 -1.3 0.5 -7.3 0.5 -4.7 0.5 -4.5 0.5 1.2 0.5 -0.7 0.5 4.7 0.5 3.6" fill="none" stroke="#e8217a" stroke-width="1.9" stroke-linejoin="round"/>
<path d="M550.3,366.2l1.5 0 1.5 0.2 1.5 0.3 1.5 0.6 1.5 0.6 1.5 0.5 1.5 0.2 1.5 -0.4 1.5 -0.2 1.5 -0.1 1.5 0.1 1.5 0.2 1.5 0.4 1.5 0 1.5 -0.4 1.5 -0.5 1.5 -0.3 1.5 -0.2 1.5 0 1.5 0 1.5 0.2 1.5 0.3 1.5 0.4 1.5 0.3 1.5 0.3 1.5 -0.1 1.5 -0.1 1.5 0 1.5 0.1 1.5 0.2 1.5 -0.2 1.5 -0.3 1.5 -0.2 1.5 -0.1 1.5 0.1 1.5 0.2 1.5 0.3 1.5 -0.2 1.5 -0.6 1.5 -0.8 1.5 -0.7 1.5 -0.8 1.5 -0.5 1.5 -0.4 1.5 -0.2 1.5 0.2 1.5 0.4 1.5 0.7 1.5 1 1.5 1.2 1.5 0.5 1.5 -1.3 1.5 -1.2 1.5 -1.1 1.5 -0.8 1.5 -0.6 1.5 -0.2 1.5 0 1.5 0.4 1.5 0.7 1.5 0.8 1.5 0.9 1.5 1 1.5 0.9 1.5 0.8 1.5 -0.4 1.5 -0.5 1.5 -0.2 1.5 0 1.5 0.1 1.5 0.2 1.5 0.2 1.5 0.3 1.5 0.2 1.5 0.1 1.5 -0.1 1.5 -0.2 1.5 -0.5 1.5 -2.3 1.5 -4.2 1.5 -6.2 1.5 -7.7 1.5 -9.2 1.5 -10.2 1.5 -11.2 1.5 -11.7 1.5 -12 1.5 -12.1 1.5 -11.9 1.5 -11.4 1.5 -10.5 1.5 -9.5 1.5 -8.1 1.5 -6.6 1.5 -4.8 1.5 -2.8 1.5 -0.9 1.5 1.1 1.5 3.2 1.5 5 1.5 6.8 1.5 8.4 1.5 9.9 1.5 11 1.5 11.4 1.5 11.7 1.5 11.7 1.5 11.3 1.5 10.7 1.5 9.9 1.5 8.9 1.5 7.9 1.5 6.5 1.5 4.7 1.5 3.1 1.5 1.4 1.5 0.3 1.5 0.8 1.5 1.2 1.5 1.7 1.5 2 1.5 0.6 1.5 0 1.5 0 1.5 0 1.5 -0.2 1.5 0 1.5 0.2 1.5 0.2 1.5 0.3 1.5 0.2 1.5 0.2 1.5 0 1.5 -0.2 1.5 -0.2 1.5 -0.4 1.5 -0.5 1.5 -0.6 1.5 -0.5 1.5 -0.4 1.5 -0.4 1.5 -0.1 1.5 0 1.5 0.2 1.5 0.4 1.5 0.5 1.5 0.7 1.5 0.6 1.5 0.7 1.5 0.7 1.5 0.5 1.5 0.5 1.5 0.3 1.5 0.3 1.5 -0.2 1.5 -0.2 1.5 -0.2 1.5 -0.2 1.5 -0.4 1.5 -0.4 1.5 -0.6 1.5 -0.8 1.5 -0.8 1.5 -0.9 1.5 -0.9 1.5 -0.8 1.5 -0.6 1.5 -0.4 1.5 -0.2 1.5 0.2 1.5 0.4 1.5 0.8 1.5 1 1.5 1.3 1.5 1.4 1.5 1.4 1.5 0.8 1.5 -1.2 1.5 -1 1.5 -0.8 1.5 -0.4 1.5 -0.1 1.5 0.1 1.5 0.4 1.5 0.6 1.5 0.7 1.5 0.7 1.5 0.7 1.5 0.5 1.5 -0.2 1.5 -0.1 1.5 0 1.5 0.3 1.5 -0.2 1.5 -0.5 1.5 -0.6 1.5 -0.6 1.5 -0.5 1.5 -0.3 1.5 -0.2 1.5 0 1.5 0.1 1.5 0.3 1.5 0.5 1.5 0.5 1.5 0.5 1.5 0.4 1.5 0.4 1.5 0.3 1.5 -0.2 1.5 0 1.5 0 1.5 0.2 1.5 -0.1 1.5 -0.2 1.5 -0.1 1.5 0 1.5 0.1 1.5 0.2 1.5 -0.1 1.5 -0.4 1.5 -0.4 1.5 -0.5 1.5 -0.3 1.5 -0.3 1.5 -0.1 1.5 0.1 1.5 0.4 1.5 0.5 1.5 0.7 1.5 0.2 1.5 -0.9 1.5 -0.8 1.5 -0.8 1.5 -0.5 1.5 -0.3 1.5 0 1.5 0.2 1.5 0.6 1.5 0.9 1.5 1.1 1.5 0.4 1.5 -1.2 1.5 -1.2 1.5 -1.1 1.5 -0.9 1.5 -0.6 1.5 -0.3 1.5 0 1.5 0.3 1.5 0.5 1.5 0.7 1.5 0.9 1.5 0.9 1.5 0.8 1.5 0.8 1.5 0.6 1.5 -0.1 1.5 -0.2 1.5 -0.1 1.5 0.1 1.5 0.1 1.5 0.2 1.5 0.2 1.5 -0.1 1.5 -0.1 1.5 0.2 1.5 -0.2 1.5 -0.4 1.5 -0.5 1.5 -0.5 1.5 -0.5 1.5 -0.5 1.5 -0.5 1.5 -0.3 1.5 -0.2 1.5 0 1.5 0.1 1.5 0.2 1.5 0.3 1.5 0.3 1.5 0.3 1.5 0.2 1.5 0.1 1.5 0 1.5 -0.2 1.5 -0.2 1.5 -0.3 1.5 -0.4 1.5 -0.3 1.5 -0.2 1.5 0 1.5 0.2 1.5 0.4 1.5 0.7 1.5 0.9 1.5 1.2 1.5 -0.7 1.5 -1.3 1.5 -1.4 1.5 -1.2 1.5 -1.1 1.5 -0.8 1.5 -0.5 1.5 -0.2 1.5 0.2 1.5 0.5 1.5 0.7 1.5 1 1.5 1.1 1.5 1.1 1.5 1 1.5 0.9 1.5 0.8 1.5 -0.1 1.5 -0.3 1.5 0 1.5 0.1 1.5 0.3 1.5 0 1.5 -0.4 1.5 -0.3 1.5 -0.2 1.5 -0.1 1.5 0.1 1.5 0.3 1.5 0.4 1.5 0.3 1.5 -0.6 1.5 -0.6 1.5 -0.6 1.5 -0.4 1.5 -0.4 1.5 -0.2 1.5 -0.1 1.5 0 1.5 0.2 1.5 0.2 1.5 0.2 1.5 0.2 1.5 0.1 1.5 0 1.5 0 1.5 -0.2 1.5 -0.2 1.5 -0.3 1.5 -0.3 1.5 -0.2 1.5 -0.1 1.5 0 1.5 0.3 1.5 0.4 1.5 0.7 1.5 0.8 1.5 1 1.5 -0.6 1.5 -1 1.5 -0.9 1.5 -0.8 1.5 -0.5 1.5 -0.3 1.5 0.1 1.5 0.3 1.5 0.6 1.5 0.7 1.5 1 1.5 0.9 1.5 0.5 1.5 -0.9 1.5 -0.6 1.5 -0.3 1.5 -0.1 1.5 0.2 1.5 0.5 1.5 0.7 1.5 0.6 1.5 -1 1.5 -0.9 1.5 -0.9 1.5 -0.7 1.5 -0.5 1.5 -0.2 1.5 -0.1 1.5 0.3 1.5 0.4 1.5 0.6 1.5 0.7 1.5 0.7 1.5 0.6 1.5 0.7 1.5 0.3 1.5 -0.3 1.5 -0.2 1.5 -0.2 1.5 0 1.5 0 1.5 0.1 1.5 -0.1 1.5 -0.1 1.5 -0.1 1.5 -0.3 1.5 -0.4 1.5 -0.4 1.5 -0.5 1.5 -0.4 1.5 -0.4 1.5 -0.2 1.5 -0.1 1.5 0.1 1.5 0.2 1.5 0.5 1.5 0.6 1.5 0.6 1.5 0.7 1.5 0.7 1.5 0.1 1.5 -0.4 1.5 -0.2 1.5 0 1.5 0.2 1.5 0.4 1.5 -0.2 1.5 -0.6 1.5 -0.7 1.5 -0.5 1.5 -0.4 1.5 -0.7 1.5 -1.7 1.5 -2.5 1.5 -3.5 1.5 -4.3 1.5 -5.4 1.5 -7.3 1.5 -7.4 1.5 -7.4 1.5 -6.9 1.5 -6.3 1.5 -5.5 1.5 -4.7 1.5 -3.8 1.5 -2.6 1.5 -1.6 1.5 -0.4 1.5 0.9 1.5 2.2 1.5 3.4 1.5 4.5 1.5 5.5 1.5 5.9 1.5 6.5 1.5 6.7 1.5 6.8 1.5 6.6 1.5 6.3 1.5 5.6 1.5 4.7 1.5 3.7 1.5 2.4 1.5 1 1.5 -0.1 1.5 -0.3 1.5 -0.4 1.5 -0.7 1.5 -1 1.5 -1.1 1.5 -1.3 1.5 -1.3 1.5 -1.4 1.5 -1.6 1.5 -1.5 1.5 -1.7 1.5 -1.7 1.5 -1.7 1.5 -1.5 1.5 -1.2 1.5 -0.8 1.5 -0.5 1.5 -0.1 1.5 0.3 1.5 0.6 1.5 1 1.5 1.2 1.5 1.5 1.5 1.6 1.5 1.9 1.5 2 1.5 2.3 1.5 2 1.5 1.2 1.5 0.7 1.5 0.4 1.5 0.1 1.5 -0.1 1.5 -0.2 1.5 -0.1 1.5 0.1 1.5 0.4 1.5 0.8 1.5 1 1.5 1.2 1.5 1.2 1.5 0.1 1.5 -1.2 1.5 -1 1.5 -0.9 1.5 -0.5 1.5 -0.3 1.5 0 1.5 0.2 1.5 0.4 1.5 0.5 1.5 0.7 1.5 0.6 1.5 0.5 1.5 0.5 1.5 0.3" fill="none" stroke="#231f20" stroke-width="2.3" stroke-linejoin="round"/>
<path d="M550.3,366.3l1.5 -0.2 1.5 0 1.5 0 1.5 0 1.5 0.2 1.5 0.3 1.5 0.4 1.5 0.4 1.5 0.4 1.5 0.5 1.5 0.5 1.5 -0.5 1.5 -0.5 1.5 -0.5 1.5 -0.3 1.5 -0.3 1.5 -0.3 1.5 -0.1 1.5 -0.1 1.5 0.1 1.5 0.1 1.5 0.2 1.5 0.2 1.5 0.3 1.5 0.4 1.5 0.4 1.5 0.3 1.5 0.4 1.5 0 1.5 -0.3 1.5 -0.2 1.5 -0.3 1.5 -0.1 1.5 -0.1 1.5 -0.1 1.5 0 1.5 0.1 1.5 0.1 1.5 0.1 1.5 0.2 1.5 0.1 1.5 0.2 1.5 0.1 1.5 0.2 1.5 0 1.5 0.1 1.5 0 1.5 0 1.5 -0.1 1.5 -0.1 1.5 -0.2 1.5 -0.1 1.5 -0.2 1.5 -0.1 1.5 -0.1 1.5 -0.1 1.5 -0.1 1.5 0 1.5 0 1.5 0.1 1.5 0.2 1.5 0.2 1.5 0.3 1.5 0.3 1.5 -0.1 1.5 -0.4 1.5 -0.4 1.5 -0.4 1.5 -0.4 1.5 -0.3 1.5 -0.3 1.5 -0.2 1.5 -0.2 1.5 -0.1 1.5 -0.3 1.5 -2.1 1.5 -4 1.5 -6 1.5 -7.7 1.5 -9.3 1.5 -10.6 1.5 -11.8 1.5 -12.5 1.5 -13.3 1.5 -13.4 1.5 -13.1 1.5 -12.4 1.5 -11.3 1.5 -10.1 1.5 -8.4 1.5 -6.8 1.5 -4.8 1.5 -2.7 1.5 -0.7 1.5 1.5 1.5 3.6 1.5 5.7 1.5 7.5 1.5 9.2 1.5 10.7 1.5 11.8 1.5 12.6 1.5 13 1.5 13.2 1.5 13.1 1.5 12.6 1.5 11.8 1.5 10.7 1.5 9.3 1.5 7.1 1.5 4.5 1.5 2.1 1.5 -0.2 1.5 -1.3 1.5 -1 1.5 -0.4 1.5 0.2 1.5 0.8 1.5 1.1 1.5 1.2 1.5 1.2 1.5 0.8 1.5 0.4 1.5 0.5 1.5 0.5 1.5 0.3 1.5 -0.7 1.5 -0.6 1.5 -0.6 1.5 -0.5 1.5 -0.6 1.5 -0.4 1.5 -0.4 1.5 -0.2 1.5 -0.2 1.5 -0.1 1.5 0.1 1.5 0.2 1.5 0.3 1.5 0.3 1.5 0.5 1.5 0.5 1.5 0.5 1.5 0.6 1.5 0.6 1.5 0.6 1.5 -0.2 1.5 -0.5 1.5 -0.5 1.5 -0.4 1.5 -0.3 1.5 -0.3 1.5 -0.2 1.5 -0.1 1.5 -0.1 1.5 0 1.5 0.1 1.5 0.1 1.5 0.1 1.5 0.2 1.5 0.1 1.5 0.2 1.5 0.1 1.5 0.1 1.5 0.1 1.5 0.1 1.5 0 1.5 0.1 1.5 0 1.5 0 1.5 0.1 1.5 0 1.5 0.1 1.5 0.1 1.5 0.1 1.5 0.2 1.5 0.2 1.5 0.3 1.5 0.3 1.5 -0.1 1.5 -0.4 1.5 -0.4 1.5 -0.5 1.5 -0.4 1.5 -0.4 1.5 -0.4 1.5 -0.4 1.5 -0.2 1.5 -0.3 1.5 -0.1 1.5 0 1.5 0 1.5 0.2 1.5 0.2 1.5 0.3 1.5 0.4 1.5 0.5 1.5 0.6 1.5 0.6 1.5 0.6 1.5 0 1.5 -0.6 1.5 -0.5 1.5 -0.5 1.5 -0.4 1.5 -0.3 1.5 -0.3 1.5 -0.1 1.5 0 1.5 0 1.5 0.2 1.5 0.3 1.5 0.3 1.5 0.4 1.5 0.4 1.5 0.5 1.5 0.5 1.5 0.4 1.5 -0.5 1.5 -0.3 1.5 -0.4 1.5 -0.2 1.5 -0.2 1.5 -0.1 1.5 0 1.5 0.1 1.5 0.1 1.5 0.2 1.5 0.3 1.5 0.3 1.5 0.3 1.5 0.3 1.5 -0.1 1.5 -0.3 1.5 -0.2 1.5 -0.2 1.5 -0.1 1.5 -0.1 1.5 0 1.5 0 1.5 0.1 1.5 0.2 1.5 0.2 1.5 0.2 1.5 0.2 1.5 0.2 1.5 -0.2 1.5 -0.2 1.5 -0.2 1.5 0 1.5 -0.1 1.5 0.1 1.5 0.1 1.5 0.1 1.5 0.2 1.5 0.1 1.5 -0.3 1.5 -0.3 1.5 -0.4 1.5 -0.3 1.5 -0.3 1.5 -0.2 1.5 -0.2 1.5 -0.1 1.5 0 1.5 0 1.5 0.2 1.5 0.2 1.5 0.4 1.5 0.4 1.5 0.5 1.5 0.5 1.5 -0.6 1.5 -0.6 1.5 -0.6 1.5 -0.6 1.5 -0.5 1.5 -0.5 1.5 -0.4 1.5 -0.3 1.5 -0.3 1.5 -0.1 1.5 0 1.5 0.2 1.5 0.2 1.5 0.3 1.5 0.5 1.5 0.5 1.5 0.5 1.5 0.6 1.5 0.7 1.5 0.6 1.5 0.1 1.5 -0.6 1.5 -0.5 1.5 -0.5 1.5 -0.4 1.5 -0.4 1.5 -0.3 1.5 -0.2 1.5 -0.1 1.5 -0.1 1.5 0 1.5 0.1 1.5 0.1 1.5 0.1 1.5 0.2 1.5 0.1 1.5 0.2 1.5 0.1 1.5 0.2 1.5 0.1 1.5 0.1 1.5 0.1 1.5 0.1 1.5 0 1.5 0.1 1.5 0.1 1.5 0.1 1.5 0.1 1.5 0.2 1.5 0.2 1.5 0.3 1.5 0.3 1.5 0.3 1.5 0 1.5 -0.5 1.5 -0.4 1.5 -0.5 1.5 -0.6 1.5 -0.5 1.5 -0.5 1.5 -0.4 1.5 -0.5 1.5 -0.3 1.5 -0.3 1.5 -0.2 1.5 0 1.5 0 1.5 0.1 1.5 0.3 1.5 0.3 1.5 0.4 1.5 0.5 1.5 0.6 1.5 0.6 1.5 0.7 1.5 0.7 1.5 0.6 1.5 -0.5 1.5 -0.6 1.5 -0.5 1.5 -0.4 1.5 -0.4 1.5 -0.3 1.5 -0.2 1.5 0 1.5 0 1.5 0.1 1.5 0.1 1.5 0.2 1.5 0.3 1.5 0.3 1.5 0.3 1.5 0.3 1.5 0.3 1.5 0.2 1.5 0.2 1.5 0.1 1.5 0 1.5 0 1.5 0 1.5 -0.2 1.5 -0.1 1.5 -0.3 1.5 -0.2 1.5 -0.2 1.5 -0.3 1.5 -0.2 1.5 -0.1 1.5 -0.1 1.5 -0.1 1.5 0.1 1.5 0.1 1.5 0.2 1.5 0.3 1.5 0.4 1.5 0.5 1.5 0.5 1.5 0.1 1.5 -0.6 1.5 -0.6 1.5 -0.6 1.5 -0.6 1.5 -0.5 1.5 -0.4 1.5 -0.4 1.5 -0.2 1.5 -0.2 1.5 0 1.5 0 1.5 0.2 1.5 0.2 1.5 0.4 1.5 0.4 1.5 0.5 1.5 0.5 1.5 0.6 1.5 0.5 1.5 0.6 1.5 0.3 1.5 -0.5 1.5 -0.4 1.5 -0.3 1.5 -0.3 1.5 -0.2 1.5 -0.1 1.5 0 1.5 0 1.5 0.1 1.5 0.2 1.5 -0.1 1.5 -1.4 1.5 -2.8 1.5 -4.1 1.5 -5.4 1.5 -6.3 1.5 -7.2 1.5 -7.6 1.5 -8 1.5 -7.8 1.5 -7.6 1.5 -6.9 1.5 -6 1.5 -5 1.5 -3.7 1.5 -2.3 1.5 -0.8 1.5 0.6 1.5 2.1 1.5 3.5 1.5 4.7 1.5 5.8 1.5 6.7 1.5 7.4 1.5 7.8 1.5 7.9 1.5 7.9 1.5 7.4 1.5 6.8 1.5 5.9 1.5 4.4 1.5 3.1 1.5 1.6 1.5 0.3 1.5 -0.1 1.5 0 1.5 0 1.5 0.1 1.5 0.1 1.5 -0.1 1.5 -0.5 1.5 -1.1 1.5 -1.7 1.5 -2 1.5 -2.2 1.5 -2.3 1.5 -2.3 1.5 -2.3 1.5 -2.2 1.5 -2 1.5 -1.8 1.5 -1.6 1.5 -1.2 1.5 -0.8 1.5 -0.5 1.5 0.1 1.5 0.4 1.5 0.8 1.5 1.1 1.5 1.4 1.5 1.6 1.5 1.8 1.5 1.8 1.5 2 1.5 1.9 1.5 1.9 1.5 1.9 1.5 1.8 1.5 1.7 1.5 1.5 1.5 1.2 1.5 0.9 1.5 0.7 1.5 0.7 1.5 -0.7 1.5 -0.7 1.5 -0.6 1.5 -0.6 1.5 -0.6 1.5 -0.4 1.5 -0.3 1.5 -0.2 1.5 -0.1 1.5 -0.1 1.5 0.1 1.5 0.2 1.5 0.3 1.5 0.3 1.5 0.4 1.5 0.4 1.5 0.4 1.5 0.4 1.5 0.4 1.5 0.4 1.5 0.3" fill="none" stroke="#e92028" stroke-width="2.3" stroke-linejoin="round"/>
<path d="M550.3,365.2l1.5 0 1.5 0 1.5 0.1 1.5 0.1 1.5 0.2 1.5 0.2 1.5 0.3 1.5 0.4 1.5 0.4 1.5 0.4 1.5 0.5 1.5 0.5 1.5 0.4 1.5 -0.3 1.5 -0.4 1.5 -0.4 1.5 -0.3 1.5 -0.2 1.5 -0.2 1.5 0 1.5 0 1.5 0.1 1.5 0.2 1.5 0.2 1.5 0.3 1.5 0.3 1.5 0.3 1.5 0.2 1.5 0.2 1.5 0 1.5 0 1.5 0.1 1.5 -0.2 1.5 -0.2 1.5 -0.4 1.5 -0.5 1.5 -0.5 1.5 -0.5 1.5 -0.6 1.5 -0.5 1.5 -0.4 1.5 -0.4 1.5 -0.2 1.5 -0.1 1.5 0.1 1.5 0.3 1.5 0.4 1.5 0.6 1.5 0.7 1.5 0.8 1.5 0.9 1.5 0.4 1.5 -1.1 1.5 -1.6 1.5 -2.1 1.5 -2.4 1.5 -2.3 1.5 -2.1 1.5 -1.4 1.5 -0.7 1.5 0.2 1.5 1.1 1.5 1.8 1.5 2.3 1.5 2.5 1.5 2.4 1.5 2.1 1.5 1.5 1.5 -0.6 1.5 -0.7 1.5 -0.5 1.5 -0.3 1.5 -0.2 1.5 0 1.5 0.1 1.5 0.3 1.5 0.5 1.5 -0.1 1.5 -2.4 1.5 -5.6 1.5 -8.7 1.5 -10.8 1.5 -12.5 1.5 -14 1.5 -15.1 1.5 -15.8 1.5 -16.1 1.5 -16.1 1.5 -15.6 1.5 -14.8 1.5 -13.5 1.5 -12.1 1.5 -10.1 1.5 -8.1 1.5 -5.6 1.5 -3.1 1.5 -0.5 1.5 2.2 1.5 4.8 1.5 7.2 1.5 9.5 1.5 11.6 1.5 13.2 1.5 14.6 1.5 15.7 1.5 16.3 1.5 16.4 1.5 16.1 1.5 15.4 1.5 14.2 1.5 12.6 1.5 10.8 1.5 7.9 1.5 4.3 1.5 1 1.5 -1.9 1.5 -2.7 1.5 -1.8 1.5 -0.4 1.5 0.9 1.5 2.1 1.5 2.9 1.5 2.9 1.5 2.5 1.5 1.6 1.5 0.7 1.5 0.6 1.5 0.7 1.5 -0.4 1.5 -0.7 1.5 -0.7 1.5 -0.5 1.5 -0.5 1.5 -0.4 1.5 -0.2 1.5 0 1.5 0.1 1.5 0.2 1.5 0.3 1.5 0.4 1.5 0.5 1.5 0.5 1.5 0.5 1.5 0.4 1.5 0.4 1.5 0.2 1.5 0 1.5 0 1.5 0.1 1.5 -0.2 1.5 -0.4 1.5 -0.4 1.5 -0.5 1.5 -0.5 1.5 -0.4 1.5 -0.4 1.5 -0.3 1.5 -0.2 1.5 -0.1 1.5 0.2 1.5 0.2 1.5 0.5 1.5 0.6 1.5 0.8 1.5 0.9 1.5 -0.5 1.5 -1 1.5 -0.9 1.5 -0.9 1.5 -0.8 1.5 -0.7 1.5 -0.5 1.5 -0.3 1.5 -0.1 1.5 0.1 1.5 0.2 1.5 0.5 1.5 0.6 1.5 0.7 1.5 0.8 1.5 0.8 1.5 0.9 1.5 0.8 1.5 0.3 1.5 -0.6 1.5 -0.5 1.5 -0.4 1.5 -0.2 1.5 -0.1 1.5 0 1.5 0.1 1.5 0.2 1.5 0.2 1.5 0.3 1.5 0.2 1.5 0.1 1.5 0.1 1.5 0 1.5 -0.1 1.5 -0.2 1.5 -0.2 1.5 -0.3 1.5 -0.4 1.5 -0.4 1.5 -0.3 1.5 -0.4 1.5 -0.2 1.5 -0.1 1.5 0 1.5 0.2 1.5 0.3 1.5 0.4 1.5 0.6 1.5 0.7 1.5 0.8 1.5 -0.1 1.5 -0.9 1.5 -0.8 1.5 -0.8 1.5 -0.6 1.5 -0.5 1.5 -0.3 1.5 -0.2 1.5 0.1 1.5 0.2 1.5 0.5 1.5 0.6 1.5 0.7 1.5 0.8 1.5 0.9 1.5 0.8 1.5 -0.8 1.5 -0.7 1.5 -0.6 1.5 -0.4 1.5 -0.3 1.5 0 1.5 0.1 1.5 0.4 1.5 0.4 1.5 0.6 1.5 0.7 1.5 0.5 1.5 -0.6 1.5 -0.7 1.5 -0.5 1.5 -0.3 1.5 -0.2 1.5 0 1.5 0.2 1.5 0.4 1.5 0.6 1.5 0.7 1.5 0.2 1.5 -0.9 1.5 -0.9 1.5 -0.9 1.5 -0.7 1.5 -0.7 1.5 -0.5 1.5 -0.2 1.5 -0.1 1.5 0.3 1.5 0.4 1.5 0.6 1.5 0.9 1.5 1 1.5 1.1 1.5 0.6 1.5 -1.2 1.5 -1.1 1.5 -1 1.5 -0.9 1.5 -0.8 1.5 -0.5 1.5 -0.2 1.5 -0.1 1.5 0.1 1.5 0.4 1.5 0.5 1.5 0.7 1.5 0.8 1.5 0.8 1.5 0.9 1.5 0.8 1.5 0.8 1.5 -0.1 1.5 -0.5 1.5 -0.5 1.5 -0.3 1.5 -0.1 1.5 -0.1 1.5 0.1 1.5 0.1 1.5 0.2 1.5 0.1 1.5 0.2 1.5 0.2 1.5 0.1 1.5 0 1.5 0 1.5 -0.1 1.5 -0.2 1.5 -0.3 1.5 -0.2 1.5 -0.3 1.5 -0.3 1.5 -0.3 1.5 -0.2 1.5 -0.1 1.5 0 1.5 0.1 1.5 0.2 1.5 0.3 1.5 0.4 1.5 0.5 1.5 0.5 1.5 0.6 1.5 0.1 1.5 -0.5 1.5 -0.4 1.5 -0.3 1.5 -0.3 1.5 -0.1 1.5 0.1 1.5 0.1 1.5 0.3 1.5 0.4 1.5 0.4 1.5 0.4 1.5 -0.3 1.5 -0.4 1.5 -0.3 1.5 -0.2 1.5 -0.1 1.5 0 1.5 0.2 1.5 0.4 1.5 0.5 1.5 0 1.5 -0.8 1.5 -0.7 1.5 -0.8 1.5 -0.8 1.5 -0.7 1.5 -0.6 1.5 -0.4 1.5 -0.3 1.5 0 1.5 0.2 1.5 0.4 1.5 0.6 1.5 0.8 1.5 0.9 1.5 1.1 1.5 1 1.5 -0.3 1.5 -1.1 1.5 -0.9 1.5 -0.8 1.5 -0.6 1.5 -0.4 1.5 -0.2 1.5 0.1 1.5 0.3 1.5 0.5 1.5 0.6 1.5 0.8 1.5 0.9 1.5 0.9 1.5 0.3 1.5 -0.9 1.5 -0.7 1.5 -0.5 1.5 -0.4 1.5 -0.1 1.5 0 1.5 0.3 1.5 0.6 1.5 0.6 1.5 0.9 1.5 0.1 1.5 -0.9 1.5 -1 1.5 -0.9 1.5 -0.9 1.5 -0.6 1.5 -0.6 1.5 -0.3 1.5 -0.1 1.5 0.1 1.5 0.3 1.5 0.5 1.5 0.7 1.5 0.7 1.5 0.9 1.5 0.9 1.5 0.9 1.5 0.5 1.5 -0.8 1.5 -0.7 1.5 -0.6 1.5 -0.4 1.5 -0.4 1.5 -0.2 1.5 0 1.5 0 1.5 0.1 1.5 0.1 1.5 0.1 1.5 0.2 1.5 0.1 1.5 0.1 1.5 0 1.5 -0.1 1.5 -0.1 1.5 -0.2 1.5 -0.2 1.5 -0.2 1.5 -0.3 1.5 -0.2 1.5 -0.1 1.5 -0.1 1.5 0 1.5 -0.5 1.5 -1.6 1.5 -2.7 1.5 -3.8 1.5 -4.7 1.5 -5.5 1.5 -6.2 1.5 -6.6 1.5 -7.6 1.5 -7.3 1.5 -6.8 1.5 -6 1.5 -5.1 1.5 -3.9 1.5 -2.9 1.5 -1.6 1.5 -0.3 1.5 1 1.5 2.3 1.5 3.4 1.5 4.5 1.5 5.5 1.5 6.2 1.5 6.8 1.5 7.1 1.5 7 1.5 6.9 1.5 6.3 1.5 5.5 1.5 4.6 1.5 3.4 1.5 2.3 1.5 0.9 1.5 -0.1 1.5 -0.2 1.5 0 1.5 0 1.5 0.2 1.5 0.2 1.5 -0.2 1.5 -0.4 1.5 -0.9 1.5 -1.2 1.5 -2.3 1.5 -3.3 1.5 -3.2 1.5 -3 1.5 -2.8 1.5 -2.5 1.5 -2.1 1.5 -1.7 1.5 -1.3 1.5 -0.9 1.5 -0.6 1.5 -0.1 1.5 0.3 1.5 0.6 1.5 1.1 1.5 1.5 1.5 2 1.5 2.3 1.5 2.7 1.5 2.9 1.5 3 1.5 3.1 1.5 3 1.5 1.9 1.5 1.5 1.5 1.2 1.5 0.8 1.5 0.5 1.5 0 1.5 0 1.5 0 1.5 0 1.5 0 1.5 -0.1 1.5 -0.1 1.5 -0.1 1.5 -0.2 1.5 -0.3 1.5 -0.3 1.5 -0.3 1.5 -0.3 1.5 -0.4 1.5 -0.2 1.5 -0.2 1.5 -0.1 1.5 -0.1 1.5 0.1 1.5 0.2 1.5 0.2" fill="none" stroke="#1e48a0" stroke-width="2.3" stroke-linejoin="round"/>
<path d="M550.3,365.2l1.5 0.8 1.5 0.9 1.5 0.9 1.5 0.8 1.5 -0.1 1.5 -0.4 1.5 -0.1 1.5 0.1 1.5 0.4 1.5 0.1 1.5 -0.6 1.5 -0.6 1.5 -0.6 1.5 -0.4 1.5 -0.3 1.5 -0.1 1.5 0.1 1.5 0.3 1.5 0.4 1.5 0.6 1.5 0.5 1.5 0.5 1.5 0.3 1.5 -0.2 1.5 -0.2 1.5 0.1 1.5 0.2 1.5 0.1 1.5 -0.4 1.5 -0.5 1.5 -0.3 1.5 -0.3 1.5 0 1.5 0.1 1.5 0.4 1.5 0.6 1.5 0.3 1.5 -1 1.5 -1 1.5 -1 1.5 -1 1.5 -0.8 1.5 -0.7 1.5 -0.4 1.5 -0.2 1.5 0.1 1.5 0.3 1.5 0.5 1.5 0.7 1.5 0.8 1.5 0.8 1.5 0.7 1.5 0.8 1.5 0.7 1.5 0.6 1.5 0.1 1.5 -0.5 1.5 -0.4 1.5 -0.4 1.5 -0.4 1.5 -0.4 1.5 -0.5 1.5 -0.5 1.5 -0.5 1.5 -0.5 1.5 -0.4 1.5 -0.3 1.5 -0.2 1.5 0.1 1.5 0.2 1.5 0.5 1.5 0.6 1.5 0.9 1.5 0.9 1.5 1.1 1.5 0.8 1.5 -2.9 1.5 -7.4 1.5 -11.6 1.5 -15.3 1.5 -18.9 1.5 -21.8 1.5 -24.4 1.5 -26.3 1.5 -27.6 1.5 -28.2 1.5 -28.8 1.5 -27.6 1.5 -25.9 1.5 -23.4 1.5 -20.4 1.5 -16.9 1.5 -13 1.5 -8.7 1.5 -4.1 1.5 0.4 1.5 5.1 1.5 9.6 1.5 13.8 1.5 17.7 1.5 21.1 1.5 24.1 1.5 26.3 1.5 27.8 1.5 28.4 1.5 28.5 1.5 27.8 1.5 26.5 1.5 24.6 1.5 21.6 1.5 17.5 1.5 13.2 1.5 8.5 1.5 3.8 1.5 -0.5 1.5 -1.4 1.5 -0.8 1.5 -0.1 1.5 0.6 1.5 1.3 1.5 1.8 1.5 1.9 1.5 1.8 1.5 1.6 1.5 0.4 1.5 -1.2 1.5 -1 1.5 -0.8 1.5 -0.6 1.5 -0.2 1.5 0 1.5 0.2 1.5 0.4 1.5 0.5 1.5 0.6 1.5 0.5 1.5 0.4 1.5 0.4 1.5 0.2 1.5 0 1.5 0 1.5 -0.1 1.5 -0.2 1.5 -0.1 1.5 -0.1 1.5 -0.1 1.5 0.1 1.5 0.2 1.5 0.2 1.5 0.4 1.5 0.3 1.5 0.4 1.5 -0.3 1.5 -0.3 1.5 -0.1 1.5 0 1.5 0.2 1.5 0.2 1.5 0.3 1.5 -0.4 1.5 -0.4 1.5 -0.3 1.5 -0.2 1.5 0 1.5 0.1 1.5 0.3 1.5 0.5 1.5 0.2 1.5 -0.6 1.5 -0.7 1.5 -0.7 1.5 -0.6 1.5 -0.4 1.5 -0.3 1.5 0 1.5 0.1 1.5 0.3 1.5 0.3 1.5 0.5 1.5 0.5 1.5 0.5 1.5 0.4 1.5 0.2 1.5 0.2 1.5 0 1.5 -0.1 1.5 -0.2 1.5 -0.2 1.5 -0.2 1.5 0 1.5 0 1.5 0.3 1.5 0.4 1.5 0.4 1.5 -0.7 1.5 -0.8 1.5 -0.9 1.5 -0.8 1.5 -0.7 1.5 -0.6 1.5 -0.2 1.5 0 1.5 0.3 1.5 0.6 1.5 0.9 1.5 1 1.5 1.2 1.5 0.4 1.5 -1.1 1.5 -0.9 1.5 -0.7 1.5 -0.4 1.5 -0.1 1.5 0.2 1.5 0.5 1.5 0.7 1.5 0.9 1.5 0.9 1.5 -0.2 1.5 -0.8 1.5 -0.7 1.5 -0.5 1.5 -0.2 1.5 0 1.5 0.2 1.5 0.3 1.5 0.5 1.5 0.5 1.5 0.5 1.5 0.3 1.5 0 1.5 -0.5 1.5 -0.6 1.5 -0.5 1.5 -0.5 1.5 -0.6 1.5 -0.9 1.5 -0.7 1.5 -0.5 1.5 -0.4 1.5 0 1.5 -0.6 1.5 -0.7 1.5 -0.6 1.5 -0.5 1.5 -0.3 1.5 -0.2 1.5 0.1 1.5 0.3 1.5 0.5 1.5 0.9 1.5 1 1.5 1.1 1.5 1.2 1.5 1.2 1.5 1.2 1.5 1 1.5 -0.5 1.5 -0.6 1.5 -0.5 1.5 -0.3 1.5 -0.2 1.5 -0.1 1.5 0 1.5 0.1 1.5 0.1 1.5 0 1.5 0 1.5 -0.1 1.5 -0.1 1.5 -0.1 1.5 -0.2 1.5 -0.1 1.5 0 1.5 0.1 1.5 0.2 1.5 0.5 1.5 0.5 1.5 0.7 1.5 0.6 1.5 -0.8 1.5 -0.7 1.5 -0.7 1.5 -0.6 1.5 -0.3 1.5 -0.1 1.5 0.2 1.5 0.4 1.5 0.6 1.5 0.8 1.5 0.8 1.5 0.1 1.5 -0.8 1.5 -0.6 1.5 -0.5 1.5 -0.2 1.5 0.1 1.5 0.3 1.5 0.5 1.5 0.7 1.5 0.8 1.5 -0.5 1.5 -0.7 1.5 -0.6 1.5 -0.4 1.5 -0.1 1.5 0 1.5 0.4 1.5 0.4 1.5 0.7 1.5 0.6 1.5 -0.1 1.5 -0.6 1.5 -0.4 1.5 -0.2 1.5 0 1.5 0.3 1.5 0.4 1.5 0.6 1.5 0 1.5 -0.6 1.5 -0.6 1.5 -0.5 1.5 -0.2 1.5 0 1.5 0.1 1.5 0.5 1.5 0.5 1.5 0.7 1.5 0 1.5 -0.7 1.5 -0.7 1.5 -0.5 1.5 -0.3 1.5 -0.1 1.5 0.2 1.5 0.3 1.5 0.6 1.5 0.6 1.5 0.7 1.5 -0.1 1.5 -0.6 1.5 -0.4 1.5 -0.3 1.5 -0.1 1.5 0.1 1.5 0.3 1.5 0.4 1.5 0.5 1.5 0.5 1.5 -0.4 1.5 -0.4 1.5 -0.3 1.5 -0.2 1.5 0 1.5 0.1 1.5 0.2 1.5 0.2 1.5 0.3 1.5 0.2 1.5 0.2 1.5 0 1.5 0 1.5 0 1.5 -0.2 1.5 -0.1 1.5 -0.2 1.5 -0.1 1.5 0 1.5 0.1 1.5 0.2 1.5 0.4 1.5 -0.5 1.5 -0.5 1.5 -0.6 1.5 -0.5 1.5 -0.5 1.5 -0.3 1.5 -0.2 1.5 0.1 1.5 0.3 1.5 0.4 1.5 0.7 1.5 0.8 1.5 0.8 1.5 -0.8 1.5 -0.8 1.5 -0.6 1.5 -0.4 1.5 -0.2 1.5 0 1.5 0.3 1.5 0.4 1.5 0.5 1.5 0.6 1.5 0.6 1.5 0.3 1.5 -0.3 1.5 -0.2 1.5 0 1.5 0.2 1.5 0.3 1.5 -0.3 1.5 -0.5 1.5 -0.4 1.5 -0.4 1.5 -0.2 1.5 0 1.5 0.2 1.5 0.4 1.5 0.7 1.5 0.4 1.5 -0.9 1.5 -0.9 1.5 -0.8 1.5 -0.7 1.5 -0.4 1.5 -0.2 1.5 0.1 1.5 0.3 1.5 0.7 1.5 0.8 1.5 1 1.5 0.9 1.5 -1.4 1.5 -2.6 1.5 -3.1 1.5 -3.6 1.5 -4 1.5 -4.2 1.5 -4.5 1.5 -4.5 1.5 -4.6 1.5 -4.5 1.5 -4.2 1.5 -3.9 1.5 -3.3 1.5 -2.5 1.5 -1.7 1.5 -0.7 1.5 0.3 1.5 1.1 1.5 2.1 1.5 2.8 1.5 3.5 1.5 4.1 1.5 4.5 1.5 4.8 1.5 5 1.5 5.1 1.5 4.9 1.5 4.6 1.5 3.5 1.5 2.7 1.5 2 1.5 1.2 1.5 0.5 1.5 0.1 1.5 0.3 1.5 0.3 1.5 -0.5 1.5 -1.5 1.5 -2 1.5 -2.6 1.5 -2.8 1.5 -3.2 1.5 -3.4 1.5 -3.6 1.5 -3.6 1.5 -3.8 1.5 -3.4 1.5 -3.1 1.5 -2.5 1.5 -1.9 1.5 -1.4 1.5 -0.6 1.5 0 1.5 0.7 1.5 1.4 1.5 2 1.5 2.5 1.5 3 1.5 3.3 1.5 3.6 1.5 3.8 1.5 3.9 1.5 3.8 1.5 2.9 1.5 2.3 1.5 1.9 1.5 1.3 1.5 0.9 1.5 0.4 1.5 0.3 1.5 0.4 1.5 0.5 1.5 0.6 1.5 0.5 1.5 -0.6 1.5 -0.5 1.5 -0.4 1.5 -0.1 1.5 0.1 1.5 0.3 1.5 0.4 1.5 0.6 1.5 -0.1 1.5 -0.6 1.5 -0.6 1.5 -0.3 1.5 -0.2 1.5 0.1 1.5 0.4 1.5 0.6 1.5 0.9 1.5 -0.7" fill="none" stroke="#157a35" stroke-width="2.3" stroke-linejoin="round"/>
<path d="M550.3,368.7l1.5 -0.1 1.5 -0.3 1.5 -0.3 1.5 -0.3 1.5 -0.4 1.5 -0.2 1.5 -0.3 1.5 -0.2 1.5 -0.1 1.5 0 1.5 0.1 1.5 0.1 1.5 0.3 1.5 0.3 1.5 0.4 1.5 0.4 1.5 0.5 1.5 -0.1 1.5 -0.4 1.5 -0.5 1.5 -0.3 1.5 -0.3 1.5 -0.1 1.5 -0.1 1.5 0.1 1.5 0.2 1.5 0.3 1.5 0.4 1.5 0.4 1.5 0.5 1.5 -0.3 1.5 -0.5 1.5 -0.4 1.5 -0.4 1.5 -0.3 1.5 -0.1 1.5 -0.1 1.5 0.1 1.5 0.2 1.5 0.3 1.5 0.4 1.5 0.4 1.5 0.5 1.5 0 1.5 -0.5 1.5 -0.4 1.5 -0.4 1.5 -0.3 1.5 -0.2 1.5 -0.1 1.5 0 1.5 0.1 1.5 0.3 1.5 0.3 1.5 0.4 1.5 0.4 1.5 0.4 1.5 0.2 1.5 -0.4 1.5 -0.3 1.5 -0.3 1.5 -0.1 1.5 -0.1 1.5 0 1.5 0.1 1.5 0.2 1.5 0.3 1.5 0.3 1.5 0.3 1.5 -0.1 1.5 -0.3 1.5 -0.2 1.5 -0.2 1.5 -0.4 1.5 -3.6 1.5 -7.7 1.5 -11.6 1.5 -15.2 1.5 -18.4 1.5 -21.1 1.5 -23.4 1.5 -25 1.5 -26.1 1.5 -26.4 1.5 -25.9 1.5 -24.7 1.5 -22.9 1.5 -20.4 1.5 -17.6 1.5 -14.1 1.5 -10.3 1.5 -6.4 1.5 -2.1 1.5 2.1 1.5 6.4 1.5 10.3 1.5 14.1 1.5 17.5 1.5 20.4 1.5 22.8 1.5 24.6 1.5 25.8 1.5 26.3 1.5 26.1 1.5 25.2 1.5 23.7 1.5 21.7 1.5 18.3 1.5 14.8 1.5 10.4 1.5 6 1.5 1.6 1.5 -1.5 1.5 -1.4 1.5 -0.7 1.5 0.1 1.5 0.8 1.5 1.3 1.5 1.5 1.5 1.5 1.5 1.1 1.5 0.7 1.5 0.7 1.5 0.7 1.5 0.8 1.5 0.2 1.5 -0.7 1.5 -0.8 1.5 -0.6 1.5 -0.6 1.5 -0.4 1.5 -0.3 1.5 -0.1 1.5 0 1.5 0.2 1.5 0.3 1.5 0.3 1.5 0.5 1.5 0.5 1.5 0.5 1.5 0.6 1.5 0.4 1.5 0.5 1.5 -0.3 1.5 -0.2 1.5 -0.2 1.5 0 1.5 0 1.5 0.1 1.5 0.2 1.5 0.2 1.5 0.1 1.5 -0.2 1.5 -0.2 1.5 -0.2 1.5 0 1.5 0 1.5 0 1.5 0.2 1.5 0.2 1.5 0.3 1.5 -0.3 1.5 -0.4 1.5 -0.3 1.5 -0.4 1.5 -0.3 1.5 -0.3 1.5 -0.2 1.5 -0.2 1.5 -0.1 1.5 0 1.5 0.1 1.5 0.2 1.5 0.2 1.5 0.2 1.5 0.3 1.5 0.3 1.5 0.3 1.5 0.3 1.5 0.2 1.5 0.3 1.5 0 1.5 -0.2 1.5 -0.1 1.5 -0.2 1.5 -0.1 1.5 -0.1 1.5 -0.1 1.5 -0.1 1.5 -0.2 1.5 -0.1 1.5 -0.2 1.5 -0.2 1.5 -0.1 1.5 -0.2 1.5 -0.1 1.5 -0.1 1.5 -0.1 1.5 0 1.5 0.1 1.5 0.2 1.5 0.2 1.5 0.3 1.5 0.3 1.5 0.4 1.5 0.5 1.5 0.2 1.5 -0.5 1.5 -0.4 1.5 -0.4 1.5 -0.3 1.5 -0.2 1.5 -0.1 1.5 0 1.5 0.1 1.5 0.2 1.5 0.3 1.5 0.4 1.5 0.5 1.5 0.5 1.5 -0.5 1.5 -0.4 1.5 -0.4 1.5 -0.4 1.5 -0.2 1.5 -0.1 1.5 0 1.5 0.2 1.5 0.3 1.5 0.4 1.5 0.5 1.5 0.6 1.5 -0.7 1.5 -0.6 1.5 -0.7 1.5 -0.6 1.5 -0.5 1.5 -0.4 1.5 -0.2 1.5 -0.2 1.5 0 1.5 0.2 1.5 0.3 1.5 0.4 1.5 0.5 1.5 0.6 1.5 0.6 1.5 0.7 1.5 0.6 1.5 -0.6 1.5 -0.6 1.5 -0.5 1.5 -0.4 1.5 -0.3 1.5 -0.2 1.5 -0.1 1.5 -0.1 1.5 0 1.5 0.1 1.5 0.1 1.5 0.1 1.5 0.2 1.5 0.1 1.5 0.1 1.5 0.1 1.5 0.1 1.5 0 1.5 0.1 1.5 0 1.5 0.1 1.5 0.1 1.5 0 1.5 0.2 1.5 0.1 1.5 0.2 1.5 0.3 1.5 0.3 1.5 0.3 1.5 0 1.5 -0.3 1.5 -0.4 1.5 -0.3 1.5 -0.4 1.5 -0.2 1.5 -0.3 1.5 -0.1 1.5 -0.2 1.5 0 1.5 0 1.5 0 1.5 0 1.5 0.1 1.5 0.1 1.5 0.1 1.5 0.1 1.5 0 1.5 0 1.5 0 1.5 0 1.5 -0.1 1.5 0 1.5 -0.1 1.5 -0.1 1.5 0 1.5 0.1 1.5 0.1 1.5 0.2 1.5 0.3 1.5 0.4 1.5 0.5 1.5 0.6 1.5 -0.5 1.5 -0.7 1.5 -0.8 1.5 -0.8 1.5 -0.7 1.5 -0.7 1.5 -0.6 1.5 -0.4 1.5 -0.4 1.5 -0.1 1.5 0 1.5 0.1 1.5 0.4 1.5 0.5 1.5 0.6 1.5 0.7 1.5 0.8 1.5 0.9 1.5 0.9 1.5 0.8 1.5 -0.6 1.5 -0.8 1.5 -0.6 1.5 -0.4 1.5 -0.4 1.5 -0.2 1.5 0 1.5 0 1.5 0.2 1.5 0.2 1.5 0.3 1.5 0.3 1.5 0.3 1.5 0.3 1.5 0.3 1.5 0.2 1.5 0.2 1.5 0 1.5 0.1 1.5 -0.1 1.5 -0.1 1.5 -0.1 1.5 -0.2 1.5 -0.2 1.5 -0.1 1.5 -0.2 1.5 -0.1 1.5 0 1.5 0 1.5 0 1.5 0.2 1.5 0.1 1.5 0.2 1.5 0.3 1.5 0.2 1.5 0.3 1.5 0.2 1.5 0.3 1.5 -0.2 1.5 -0.2 1.5 -0.2 1.5 -0.1 1.5 -0.2 1.5 -0.1 1.5 -0.1 1.5 -0.2 1.5 -0.1 1.5 -0.2 1.5 -0.1 1.5 -0.2 1.5 -0.3 1.5 -0.2 1.5 -0.3 1.5 -0.2 1.5 -0.2 1.5 -0.2 1.5 -0.1 1.5 -0.1 1.5 0 1.5 0.2 1.5 0.2 1.5 0.3 1.5 0.4 1.5 0.4 1.5 0.6 1.5 0.6 1.5 0.6 1.5 -0.2 1.5 -0.6 1.5 -0.5 1.5 -0.5 1.5 -0.4 1.5 -0.3 1.5 -0.2 1.5 -0.1 1.5 0.1 1.5 0.1 1.5 0.2 1.5 0.3 1.5 0.3 1.5 0.3 1.5 0.2 1.5 0.3 1.5 0.2 1.5 0.1 1.5 0 1.5 -0.1 1.5 -0.2 1.5 -0.2 1.5 -0.3 1.5 -0.9 1.5 -1.3 1.5 -1.9 1.5 -2.3 1.5 -2.6 1.5 -2.8 1.5 -2.9 1.5 -3 1.5 -2.9 1.5 -2.8 1.5 -2.7 1.5 -2.4 1.5 -2.1 1.5 -1.7 1.5 -1.2 1.5 -0.6 1.5 0.1 1.5 0.6 1.5 1.2 1.5 1.5 1.5 1.9 1.5 2.3 1.5 2.5 1.5 2.7 1.5 2.8 1.5 2.9 1.5 2.8 1.5 2.8 1.5 2.6 1.5 2.4 1.5 1.9 1.5 1.5 1.5 0.9 1.5 0.6 1.5 0.6 1.5 0.6 1.5 0.4 1.5 -0.9 1.5 -1.5 1.5 -1.9 1.5 -2.3 1.5 -2.5 1.5 -2.6 1.5 -2.8 1.5 -2.7 1.5 -2.7 1.5 -2.4 1.5 -2.2 1.5 -1.9 1.5 -1.5 1.5 -1.1 1.5 -0.7 1.5 -0.3 1.5 0.2 1.5 0.7 1.5 1.1 1.5 1.5 1.5 1.9 1.5 2.4 1.5 2.6 1.5 2.9 1.5 3 1.5 3 1.5 2.9 1.5 2.1 1.5 1.7 1.5 1.3 1.5 1 1.5 0.5 1.5 0.1 1.5 0 1.5 0.1 1.5 0.1 1.5 0 1.5 0.1 1.5 0 1.5 -0.1 1.5 -0.1 1.5 -0.2 1.5 -0.3 1.5 -0.3 1.5 -0.4 1.5 -0.4 1.5 -0.4 1.5 -0.5 1.5 -0.3 1.5 -0.3 1.5 -0.3 1.5 -0.1 1.5 0 1.5 0.2 1.5 0.3 1.5 0.4 1.5 0.6 1.5 0.7" fill="none" stroke="#a33c91" stroke-width="2.3" stroke-linejoin="round"/>
<path d="M550.3,368.0l1.5 -0.1 1.5 -0.1 1.5 -0.2 1.5 -0.1 1.5 -0.1 1.5 -0.2 1.5 -0.1 1.5 -0.1 1.5 -0.2 1.5 -0.1 1.5 -0.1 1.5 -0.1 1.5 -0.1 1.5 0 1.5 0 1.5 0.1 1.5 0.1 1.5 0.1 1.5 0.2 1.5 0.2 1.5 0.3 1.5 0.3 1.5 0.3 1.5 0.4 1.5 0.3 1.5 -0.2 1.5 -0.3 1.5 -0.4 1.5 -0.3 1.5 -0.2 1.5 -0.2 1.5 -0.2 1.5 -0.1 1.5 0 1.5 0 1.5 0.1 1.5 0.1 1.5 0.1 1.5 0.2 1.5 0.2 1.5 0.2 1.5 0.2 1.5 0.2 1.5 0.2 1.5 0.1 1.5 0 1.5 0 1.5 0 1.5 -0.1 1.5 -0.2 1.5 -0.2 1.5 -0.2 1.5 -0.2 1.5 -0.3 1.5 -0.2 1.5 -0.2 1.5 -0.2 1.5 -0.1 1.5 0 1.5 0 1.5 0.2 1.5 0.2 1.5 0.4 1.5 0.4 1.5 0.5 1.5 0.6 1.5 -0.6 1.5 -0.7 1.5 -0.7 1.5 -0.7 1.5 -0.6 1.5 -0.6 1.5 -0.6 1.5 -0.4 1.5 -0.6 1.5 -3.5 1.5 -6.9 1.5 -10.2 1.5 -13.2 1.5 -15.8 1.5 -18.2 1.5 -19.9 1.5 -21.4 1.5 -22.1 1.5 -22.5 1.5 -22 1.5 -21.3 1.5 -20 1.5 -17.8 1.5 -15.2 1.5 -12.1 1.5 -8.8 1.5 -5.2 1.5 -1.6 1.5 2.1 1.5 5.7 1.5 9.1 1.5 12.5 1.5 15.3 1.5 17.9 1.5 19.9 1.5 21.6 1.5 22.5 1.5 23 1.5 22.8 1.5 22 1.5 20.7 1.5 18.7 1.5 16.3 1.5 13.2 1.5 9.4 1.5 5.3 1.5 1.3 1.5 -1.2 1.5 -0.9 1.5 -0.4 1.5 0.3 1.5 0.9 1.5 1.2 1.5 1.3 1.5 1 1.5 0.5 1.5 0 1.5 -0.3 1.5 -0.2 1.5 -0.3 1.5 -0.2 1.5 -0.3 1.5 -0.2 1.5 -0.2 1.5 -0.1 1.5 -0.1 1.5 0 1.5 0.1 1.5 0.1 1.5 0.3 1.5 0.3 1.5 0.3 1.5 0.5 1.5 0.5 1.5 0.5 1.5 0.5 1.5 -0.6 1.5 -0.6 1.5 -0.5 1.5 -0.5 1.5 -0.5 1.5 -0.4 1.5 -0.3 1.5 -0.2 1.5 -0.2 1.5 0 1.5 0 1.5 0.2 1.5 0.2 1.5 0.3 1.5 0.4 1.5 0.4 1.5 0.5 1.5 0.5 1.5 0.6 1.5 0.5 1.5 -0.2 1.5 -0.5 1.5 -0.5 1.5 -0.5 1.5 -0.4 1.5 -0.4 1.5 -0.3 1.5 -0.2 1.5 -0.2 1.5 -0.1 1.5 -0.1 1.5 0.1 1.5 0 1.5 0.2 1.5 0.2 1.5 0.2 1.5 0.3 1.5 0.4 1.5 0.4 1.5 0.5 1.5 0.4 1.5 0.6 1.5 0.1 1.5 -0.5 1.5 -0.6 1.5 -0.5 1.5 -0.6 1.5 -0.5 1.5 -0.4 1.5 -0.5 1.5 -0.3 1.5 -0.3 1.5 -0.2 1.5 -0.2 1.5 0 1.5 0.1 1.5 0.1 1.5 0.3 1.5 0.4 1.5 0.4 1.5 0.6 1.5 0.6 1.5 0.7 1.5 0.7 1.5 0.7 1.5 -0.4 1.5 -0.7 1.5 -0.8 1.5 -0.6 1.5 -0.7 1.5 -0.5 1.5 -0.5 1.5 -0.3 1.5 -0.3 1.5 -0.1 1.5 -0.1 1.5 0.1 1.5 0.1 1.5 0.3 1.5 0.3 1.5 0.4 1.5 0.4 1.5 0.5 1.5 0.5 1.5 0.5 1.5 0.5 1.5 0.4 1.5 0.5 1.5 0.4 1.5 0.2 1.5 -0.3 1.5 -0.4 1.5 -0.3 1.5 -0.2 1.5 -0.3 1.5 -0.2 1.5 -0.2 1.5 -0.2 1.5 -0.3 1.5 -0.2 1.5 -0.3 1.5 -0.2 1.5 -0.3 1.5 -0.3 1.5 -0.2 1.5 -0.3 1.5 -0.2 1.5 -0.2 1.5 -0.1 1.5 -0.1 1.5 0.1 1.5 0.1 1.5 0.2 1.5 0.3 1.5 0.4 1.5 0.5 1.5 0.7 1.5 0.7 1.5 0.8 1.5 0.9 1.5 -0.5 1.5 -0.9 1.5 -1 1.5 -0.9 1.5 -0.9 1.5 -0.7 1.5 -0.7 1.5 -0.6 1.5 -0.4 1.5 -0.3 1.5 -0.1 1.5 0 1.5 0.3 1.5 0.3 1.5 0.6 1.5 0.6 1.5 0.8 1.5 0.8 1.5 0.9 1.5 1 1.5 0.9 1.5 0.9 1.5 -0.7 1.5 -0.9 1.5 -0.7 1.5 -0.6 1.5 -0.5 1.5 -0.4 1.5 -0.3 1.5 -0.2 1.5 0 1.5 0.1 1.5 0.2 1.5 0.2 1.5 0.3 1.5 0.4 1.5 0.4 1.5 0.4 1.5 0.4 1.5 0.3 1.5 0.4 1.5 0.3 1.5 0.2 1.5 0.2 1.5 0.2 1.5 0.1 1.5 0 1.5 0 1.5 0 1.5 0 1.5 0 1.5 0 1.5 0 1.5 0 1.5 0.1 1.5 0.1 1.5 0.1 1.5 -0.1 1.5 -0.2 1.5 -0.2 1.5 -0.2 1.5 -0.3 1.5 -0.2 1.5 -0.2 1.5 -0.2 1.5 -0.2 1.5 -0.2 1.5 -0.1 1.5 -0.1 1.5 0 1.5 0.1 1.5 0 1.5 0.2 1.5 0.1 1.5 0.2 1.5 0.3 1.5 0.2 1.5 0.3 1.5 0.3 1.5 0.2 1.5 0.3 1.5 -0.2 1.5 -0.2 1.5 -0.2 1.5 -0.1 1.5 -0.1 1.5 -0.1 1.5 0 1.5 0 1.5 0 1.5 0.1 1.5 0 1.5 0.1 1.5 0 1.5 0.1 1.5 0.1 1.5 0 1.5 0.1 1.5 0 1.5 0.1 1.5 0 1.5 0 1.5 0 1.5 0 1.5 0 1.5 0 1.5 0 1.5 0 1.5 0 1.5 0.1 1.5 0 1.5 0 1.5 0 1.5 0.1 1.5 0 1.5 0 1.5 0 1.5 0 1.5 0 1.5 -0.1 1.5 0 1.5 -0.1 1.5 0 1.5 -0.1 1.5 -0.1 1.5 0 1.5 -0.1 1.5 0 1.5 0 1.5 0 1.5 0 1.5 0.1 1.5 0.1 1.5 0.2 1.5 0.2 1.5 -0.2 1.5 -0.2 1.5 -0.2 1.5 -0.3 1.5 -0.2 1.5 -0.3 1.5 -0.2 1.5 -0.1 1.5 -0.1 1.5 -0.1 1.5 0 1.5 0.1 1.5 0.1 1.5 0.2 1.5 0.3 1.5 0.3 1.5 0.4 1.5 0.4 1.5 -0.2 1.5 -0.4 1.5 -0.4 1.5 -0.4 1.5 -0.3 1.5 -0.3 1.5 -0.3 1.5 -0.7 1.5 -1.1 1.5 -1.6 1.5 -1.9 1.5 -2.2 1.5 -2.5 1.5 -2.7 1.5 -2.8 1.5 -2.9 1.5 -3.1 1.5 -2.8 1.5 -2.4 1.5 -1.9 1.5 -1.4 1.5 -0.9 1.5 -0.3 1.5 0.2 1.5 0.8 1.5 1.3 1.5 1.7 1.5 2.2 1.5 2.6 1.5 2.9 1.5 3.2 1.5 3.4 1.5 3.5 1.5 2.5 1.5 2 1.5 1.7 1.5 1.2 1.5 0.7 1.5 0.3 1.5 -0.1 1.5 -0.2 1.5 -0.1 1.5 0 1.5 0.2 1.5 0.1 1.5 -0.1 1.5 -0.4 1.5 -0.5 1.5 -0.9 1.5 -1 1.5 -1.2 1.5 -1.3 1.5 -1.4 1.5 -1.7 1.5 -2 1.5 -1.8 1.5 -1.6 1.5 -1.2 1.5 -1 1.5 -0.5 1.5 -0.2 1.5 0.1 1.5 0.5 1.5 0.8 1.5 1.1 1.5 1.3 1.5 1.5 1.5 1.6 1.5 1.6 1.5 1.6 1.5 1.6 1.5 1.4 1.5 1.2 1.5 1 1.5 0.8 1.5 0.5 1.5 0.2 1.5 -0.1 1.5 0 1.5 0 1.5 0.1 1.5 0.2 1.5 0.3 1.5 0.4 1.5 0.5 1.5 0.6 1.5 0.6 1.5 0.8 1.5 -0.5 1.5 -0.9 1.5 -0.8 1.5 -0.8 1.5 -0.7 1.5 -0.7 1.5 -0.7 1.5 -0.5 1.5 -0.4 1.5 -0.3 1.5 -0.2 1.5 -0.1 1.5 0.1" fill="none" stroke="#e8217a" stroke-width="2.3" stroke-linejoin="round"/>
<path d="M550.3,366.5l1.5 0.2 1.5 0.2 1.5 0.2 1.5 0.3 1.5 0.4 1.5 0.5 1.5 0.4 1.5 -0.3 1.5 -0.6 1.5 -0.5 1.5 -0.5 1.5 -0.4 1.5 -0.4 1.5 -0.4 1.5 -0.2 1.5 -0.2 1.5 0 1.5 0.1 1.5 0.2 1.5 0.3 1.5 0.5 1.5 0.5 1.5 0.6 1.5 0.7 1.5 0.7 1.5 -0.7 1.5 -0.7 1.5 -0.6 1.5 -0.5 1.5 -0.5 1.5 -0.4 1.5 -0.2 1.5 -0.2 1.5 -0.1 1.5 0 1.5 0.1 1.5 0.2 1.5 0.2 1.5 0.2 1.5 0.3 1.5 0.3 1.5 0.3 1.5 0.3 1.5 0.3 1.5 0.4 1.5 0.4 1.5 0.3 1.5 0.4 1.5 0 1.5 -0.4 1.5 -0.4 1.5 -0.4 1.5 -0.3 1.5 -0.3 1.5 -0.2 1.5 -0.2 1.5 -0.1 1.5 -0.1 1.5 0 1.5 0.1 1.5 0.2 1.5 0.1 1.5 0.2 1.5 0.2 1.5 0.1 1.5 0.2 1.5 0.1 1.5 0 1.5 0 1.5 0 1.5 0 1.5 -0.1 1.5 0 1.5 -0.9 1.5 -3.1 1.5 -5.4 1.5 -7.3 1.5 -9.2 1.5 -10.8 1.5 -12.2 1.5 -13.5 1.5 -14.5 1.5 -14.7 1.5 -14.5 1.5 -14 1.5 -13.1 1.5 -11.9 1.5 -10.4 1.5 -8.6 1.5 -6.6 1.5 -4.5 1.5 -2.2 1.5 0 1.5 2.4 1.5 4.7 1.5 6.8 1.5 8.9 1.5 10.6 1.5 12.1 1.5 13.3 1.5 14.1 1.5 14.3 1.5 14.4 1.5 14 1.5 13.3 1.5 12.1 1.5 10.8 1.5 9 1.5 5.9 1.5 2.4 1.5 -0.7 1.5 -3 1.5 -3 1.5 -1.6 1.5 0.2 1.5 2.1 1.5 3.4 1.5 4.2 1.5 4.2 1.5 2.6 1.5 0.4 1.5 -0.6 1.5 -0.6 1.5 -0.6 1.5 -0.4 1.5 -0.3 1.5 -0.1 1.5 0 1.5 0.2 1.5 0.3 1.5 0.4 1.5 0.5 1.5 0.5 1.5 0.5 1.5 0.6 1.5 0.5 1.5 -0.2 1.5 -0.4 1.5 -0.4 1.5 -0.3 1.5 -0.2 1.5 -0.2 1.5 -0.1 1.5 -0.2 1.5 -0.2 1.5 -0.2 1.5 -0.2 1.5 -0.3 1.5 -0.2 1.5 -0.3 1.5 -0.2 1.5 -0.1 1.5 -0.1 1.5 0.1 1.5 0.1 1.5 0.3 1.5 0.4 1.5 0.6 1.5 0.6 1.5 0.7 1.5 0.7 1.5 0.1 1.5 -0.7 1.5 -0.6 1.5 -0.6 1.5 -0.4 1.5 -0.4 1.5 -0.2 1.5 -0.2 1.5 0 1.5 0 1.5 0 1.5 0.1 1.5 0 1.5 0.1 1.5 -0.1 1.5 0 1.5 -0.1 1.5 -0.1 1.5 0 1.5 0 1.5 0.1 1.5 0.2 1.5 0.3 1.5 0.4 1.5 0.6 1.5 0.7 1.5 0.8 1.5 -0.1 1.5 -0.9 1.5 -0.9 1.5 -0.9 1.5 -0.7 1.5 -0.6 1.5 -0.5 1.5 -0.2 1.5 -0.1 1.5 0.2 1.5 0.3 1.5 0.4 1.5 0.5 1.5 0.7 1.5 0.6 1.5 0.6 1.5 0.6 1.5 0.6 1.5 0.5 1.5 0.2 1.5 -0.3 1.5 -0.3 1.5 -0.3 1.5 -0.2 1.5 -0.3 1.5 -0.3 1.5 -0.3 1.5 -0.3 1.5 -0.3 1.5 -0.3 1.5 -0.3 1.5 -0.1 1.5 -0.1 1.5 0 1.5 0.3 1.5 0.3 1.5 0.6 1.5 0.6 1.5 0.8 1.5 0.9 1.5 -0.9 1.5 -1 1.5 -0.8 1.5 -0.7 1.5 -0.6 1.5 -0.3 1.5 -0.2 1.5 0.1 1.5 0.2 1.5 0.5 1.5 0.6 1.5 0.7 1.5 0.7 1.5 0.8 1.5 0.7 1.5 -0.2 1.5 -0.5 1.5 -0.4 1.5 -0.3 1.5 -0.1 1.5 -0.1 1.5 0 1.5 0.1 1.5 0 1.5 0 1.5 0 1.5 -0.2 1.5 -0.1 1.5 -0.2 1.5 -0.3 1.5 -0.2 1.5 -0.3 1.5 -0.1 1.5 -0.1 1.5 0.1 1.5 0.2 1.5 0.3 1.5 0.5 1.5 0.5 1.5 0.6 1.5 0.7 1.5 0 1.5 -0.6 1.5 -0.5 1.5 -0.4 1.5 -0.2 1.5 -0.1 1.5 0.1 1.5 0.1 1.5 0.3 1.5 0.2 1.5 0.2 1.5 0.2 1.5 0.1 1.5 0 1.5 -0.2 1.5 -0.3 1.5 -0.4 1.5 -0.5 1.5 -0.6 1.5 -0.5 1.5 -0.5 1.5 -0.4 1.5 -0.2 1.5 0 1.5 0.2 1.5 0.4 1.5 0.6 1.5 0.8 1.5 0.9 1.5 1 1.5 0.2 1.5 -1 1.5 -0.9 1.5 -0.8 1.5 -0.5 1.5 -0.5 1.5 -0.2 1.5 -0.1 1.5 0.1 1.5 0.2 1.5 0.2 1.5 0.3 1.5 0.3 1.5 0.2 1.5 0.2 1.5 0.2 1.5 0.1 1.5 0.1 1.5 0.1 1.5 0.2 1.5 0.3 1.5 0.3 1.5 0.5 1.5 0.6 1.5 0.3 1.5 -0.8 1.5 -0.9 1.5 -0.9 1.5 -0.8 1.5 -0.7 1.5 -0.6 1.5 -0.3 1.5 -0.1 1.5 0.2 1.5 0.4 1.5 0.7 1.5 0.8 1.5 1.1 1.5 1.1 1.5 0.9 1.5 -1.1 1.5 -1 1.5 -0.8 1.5 -0.6 1.5 -0.3 1.5 -0.1 1.5 0.1 1.5 0.3 1.5 0.4 1.5 0.6 1.5 0.5 1.5 0.6 1.5 0.5 1.5 0.4 1.5 0.3 1.5 0.3 1.5 -0.1 1.5 0 1.5 -0.1 1.5 0 1.5 -0.1 1.5 -0.1 1.5 -0.3 1.5 -0.4 1.5 -0.4 1.5 -0.6 1.5 -0.5 1.5 -0.6 1.5 -0.5 1.5 -0.4 1.5 -0.3 1.5 0 1.5 0.1 1.5 0.4 1.5 0.6 1.5 0.7 1.5 0.9 1.5 1 1.5 0.5 1.5 -0.9 1.5 -0.8 1.5 -0.6 1.5 -0.4 1.5 -0.2 1.5 0 1.5 0.2 1.5 0.3 1.5 0.5 1.5 0.5 1.5 0.4 1.5 0.4 1.5 0.3 1.5 0.1 1.5 -0.1 1.5 -0.2 1.5 -0.4 1.5 -0.4 1.5 -0.5 1.5 -0.5 1.5 -0.4 1.5 -0.3 1.5 -0.2 1.5 0.1 1.5 0.3 1.5 0.4 1.5 0.7 1.5 0.7 1.5 0.8 1.5 0 1.5 -0.8 1.5 -0.7 1.5 -0.5 1.5 -0.3 1.5 -0.1 1.5 0 1.5 0.3 1.5 0.3 1.5 0.4 1.5 0.4 1.5 0.4 1.5 0.2 1.5 0.2 1.5 -0.2 1.5 -0.7 1.5 -1.1 1.5 -1.4 1.5 -1.7 1.5 -1.8 1.5 -1.9 1.5 -1.8 1.5 -1.7 1.5 -1.4 1.5 -1.2 1.5 -0.7 1.5 -0.5 1.5 0 1.5 -0.9 1.5 -1.1 1.5 -0.7 1.5 -0.3 1.5 0.3 1.5 0.7 1.5 1.2 1.5 1.6 1.5 2 1.5 2.3 1.5 2.4 1.5 2.5 1.5 1 1.5 0.8 1.5 0.7 1.5 0.7 1.5 0.7 1.5 0.6 1.5 0.6 1.5 0.5 1.5 0.6 1.5 0.4 1.5 -0.6 1.5 -0.6 1.5 -0.4 1.5 -0.2 1.5 0 1.5 0.2 1.5 0.2 1.5 0.3 1.5 0.2 1.5 0.2 1.5 -0.9 1.5 -0.8 1.5 -0.8 1.5 -0.6 1.5 -0.4 1.5 -0.2 1.5 -0.2 1.5 -1.1 1.5 -1 1.5 -0.9 1.5 -0.7 1.5 -0.5 1.5 -0.1 1.5 0.2 1.5 0.5 1.5 0.8 1.5 1 1.5 1.2 1.5 0.4 1.5 -0.2 1.5 0 1.5 0.2 1.5 0.3 1.5 0.6 1.5 0.7 1.5 0.8 1.5 0.9 1.5 0.8 1.5 0.8 1.5 -0.6 1.5 -0.5 1.5 -0.3 1.5 -0.1 1.5 0.1 1.5 0.4 1.5 0.5 1.5 0.2 1.5 -0.8 1.5 -0.8 1.5 -0.8 1.5 -0.6 1.5 -0.4 1.5 -0.2 1.5 0 1.5 0.3 1.5 0.6 1.5 0.7 1.5 0.8 1.5 0.9" fill="none" stroke="#7d080e" stroke-width="2.3" stroke-linejoin="round"/>
<path d="M550.3,366.4l1.5 0.3 1.5 0.2 1.5 0.2 1.5 0.2 1.5 0.2 1.5 0.2 1.5 0.3 1.5 0.4 1.5 0.4 1.5 -0.5 1.5 -0.6 1.5 -0.7 1.5 -0.6 1.5 -0.7 1.5 -0.7 1.5 -0.7 1.5 -0.5 1.5 -0.5 1.5 -0.4 1.5 -0.3 1.5 -0.2 1.5 0 1.5 0.2 1.5 0.2 1.5 0.4 1.5 0.5 1.5 0.7 1.5 0.7 1.5 0.8 1.5 0.9 1.5 0.8 1.5 0.9 1.5 -0.2 1.5 -0.8 1.5 -0.7 1.5 -0.6 1.5 -0.5 1.5 -0.3 1.5 -0.2 1.5 0 1.5 0.1 1.5 0.2 1.5 0.2 1.5 0.3 1.5 0.3 1.5 0.3 1.5 0.3 1.5 0.1 1.5 0.1 1.5 0 1.5 -0.1 1.5 -0.2 1.5 -0.3 1.5 -0.2 1.5 -0.3 1.5 -0.1 1.5 -0.1 1.5 0 1.5 0.2 1.5 0.4 1.5 0.5 1.5 0.6 1.5 0.7 1.5 0.5 1.5 -0.7 1.5 -0.7 1.5 -0.5 1.5 -0.4 1.5 -0.2 1.5 0 1.5 0.2 1.5 0.4 1.5 0.6 1.5 0.5 1.5 -0.6 1.5 -3.2 1.5 -4.8 1.5 -6 1.5 -6.9 1.5 -7.8 1.5 -8.3 1.5 -8.9 1.5 -9.2 1.5 -9.6 1.5 -9.8 1.5 -9.3 1.5 -8.4 1.5 -7.5 1.5 -6.3 1.5 -5 1.5 -3.7 1.5 -2.2 1.5 -0.8 1.5 0.8 1.5 2.2 1.5 3.8 1.5 5.2 1.5 6.5 1.5 7.6 1.5 8.3 1.5 8.9 1.5 9.3 1.5 9.6 1.5 9.5 1.5 9.3 1.5 8.8 1.5 8 1.5 7.1 1.5 5.6 1.5 3.7 1.5 1.9 1.5 -0.1 1.5 -1.4 1.5 -1.2 1.5 -0.9 1.5 -0.3 1.5 0.1 1.5 0.5 1.5 0.7 1.5 0.7 1.5 0.4 1.5 0.2 1.5 0.2 1.5 0.4 1.5 0.5 1.5 0.7 1.5 0.8 1.5 0.9 1.5 0.8 1.5 -0.6 1.5 -0.7 1.5 -0.6 1.5 -0.4 1.5 -0.3 1.5 -0.2 1.5 -0.1 1.5 0.1 1.5 0.2 1.5 0.3 1.5 0.3 1.5 0.4 1.5 0.4 1.5 0.4 1.5 0.3 1.5 0.3 1.5 0.3 1.5 -0.3 1.5 -0.2 1.5 -0.1 1.5 -0.1 1.5 0 1.5 0 1.5 0 1.5 0 1.5 0.1 1.5 0.1 1.5 0 1.5 -0.3 1.5 -0.7 1.5 -1 1.5 -1.2 1.5 -1.3 1.5 -1.3 1.5 -1 1.5 -0.8 1.5 -0.5 1.5 0 1.5 0.5 1.5 0.8 1.5 1.2 1.5 1.5 1.5 0.9 1.5 0.7 1.5 0.4 1.5 0.2 1.5 -0.3 1.5 -0.5 1.5 -0.5 1.5 -0.4 1.5 -0.3 1.5 0 1.5 0.1 1.5 0.3 1.5 0.6 1.5 0.7 1.5 0.9 1.5 1 1.5 0.6 1.5 -1.1 1.5 -0.9 1.5 -0.8 1.5 -0.7 1.5 -0.4 1.5 -0.3 1.5 0 1.5 0.2 1.5 0.4 1.5 0.4 1.5 0.5 1.5 0.6 1.5 0.4 1.5 0.4 1.5 0.3 1.5 0.1 1.5 -0.1 1.5 -0.2 1.5 -0.2 1.5 -0.4 1.5 -0.3 1.5 -0.3 1.5 -0.2 1.5 -0.1 1.5 0.2 1.5 0.3 1.5 0.6 1.5 0.7 1.5 0.9 1.5 -0.5 1.5 -1 1.5 -1 1.5 -0.9 1.5 -0.7 1.5 -0.5 1.5 -0.3 1.5 0 1.5 0.3 1.5 0.5 1.5 0.6 1.5 0.8 1.5 0.8 1.5 0.9 1.5 0.8 1.5 0.2 1.5 -0.5 1.5 -0.3 1.5 -0.2 1.5 0.1 1.5 0.3 1.5 0.4 1.5 0.4 1.5 -0.5 1.5 -0.5 1.5 -0.5 1.5 -0.3 1.5 -0.2 1.5 0 1.5 0.1 1.5 0.2 1.5 0.3 1.5 0.5 1.5 0.4 1.5 0.5 1.5 -0.5 1.5 -0.4 1.5 -0.3 1.5 -0.2 1.5 -0.1 1.5 0 1.5 0 1.5 0.2 1.5 0.1 1.5 0.2 1.5 0.2 1.5 0.1 1.5 0.1 1.5 -0.1 1.5 0 1.5 -0.2 1.5 -0.2 1.5 -0.3 1.5 -0.3 1.5 -0.4 1.5 -0.3 1.5 -0.3 1.5 -0.3 1.5 -0.3 1.5 -0.2 1.5 0 1.5 0 1.5 0.1 1.5 0.2 1.5 0.3 1.5 0.5 1.5 0.5 1.5 0.6 1.5 0.7 1.5 0.4 1.5 -0.8 1.5 -0.7 1.5 -0.8 1.5 -0.7 1.5 -0.6 1.5 -0.5 1.5 -0.4 1.5 -0.2 1.5 0 1.5 0.1 1.5 0.2 1.5 0.4 1.5 0.4 1.5 0.5 1.5 0.6 1.5 0.5 1.5 0.5 1.5 0.4 1.5 0.2 1.5 0.2 1.5 0.1 1.5 0 1.5 0 1.5 -0.1 1.5 0 1.5 0 1.5 0 1.5 0.2 1.5 0.4 1.5 0.2 1.5 -0.6 1.5 -0.7 1.5 -0.8 1.5 -0.8 1.5 -0.7 1.5 -0.6 1.5 -0.5 1.5 -0.3 1.5 0 1.5 0.2 1.5 0.4 1.5 0.6 1.5 0.9 1.5 0.9 1.5 1 1.5 1 1.5 -0.8 1.5 -0.8 1.5 -0.6 1.5 -0.3 1.5 -0.2 1.5 0.2 1.5 0.3 1.5 0.5 1.5 0.7 1.5 0.7 1.5 0.1 1.5 -0.6 1.5 -0.6 1.5 -0.3 1.5 -0.2 1.5 0 1.5 0.2 1.5 0.4 1.5 0.5 1.5 0.6 1.5 0.1 1.5 -0.5 1.5 -0.5 1.5 -0.2 1.5 -0.2 1.5 0.1 1.5 0.2 1.5 0.3 1.5 0.4 1.5 0.5 1.5 -0.3 1.5 -0.4 1.5 -0.3 1.5 -0.1 1.5 0 1.5 0.2 1.5 0.3 1.5 0.6 1.5 -0.4 1.5 -0.7 1.5 -0.8 1.5 -0.7 1.5 -0.6 1.5 -0.5 1.5 -0.4 1.5 -0.2 1.5 0 1.5 0.2 1.5 0.4 1.5 0.5 1.5 0.7 1.5 0.7 1.5 0.8 1.5 0.7 1.5 0 1.5 -0.6 1.5 -0.6 1.5 -0.5 1.5 -0.4 1.5 -0.3 1.5 -0.2 1.5 -0.2 1.5 0 1.5 0 1.5 0.1 1.5 0.1 1.5 0.1 1.5 0.2 1.5 0.1 1.5 0.1 1.5 0.2 1.5 0.1 1.5 0.1 1.5 0.1 1.5 0.1 1.5 0.1 1.5 0.1 1.5 0.2 1.5 0.1 1.5 0.2 1.5 0.1 1.5 0 1.5 -0.1 1.5 -0.4 1.5 -1 1.5 -1.5 1.5 -1.6 1.5 -1.7 1.5 -1.7 1.5 -1.8 1.5 -1.6 1.5 -1.4 1.5 -1.2 1.5 -0.9 1.5 -0.5 1.5 -0.2 1.5 0.3 1.5 0.6 1.5 0.9 1.5 1.3 1.5 1.4 1.5 1.7 1.5 0.6 1.5 0.6 1.5 0.8 1.5 1 1.5 1.1 1.5 1.3 1.5 1.3 1.5 1.3 1.5 1.3 1.5 0.7 1.5 -0.3 1.5 -0.5 1.5 -0.4 1.5 -0.3 1.5 -0.1 1.5 0.1 1.5 0.3 1.5 0.5 1.5 0.6 1.5 0.6 1.5 -0.7 1.5 -0.7 1.5 -0.5 1.5 -0.5 1.5 -0.2 1.5 -0.1 1.5 0.1 1.5 0.3 1.5 0.3 1.5 0.4 1.5 0.3 1.5 0.3 1.5 0 1.5 -0.6 1.5 -0.4 1.5 -0.2 1.5 0 1.5 -0.3 1.5 -0.8 1.5 -0.9 1.5 -0.8 1.5 -0.8 1.5 -0.6 1.5 -0.4 1.5 -0.1 1.5 0.1 1.5 0.5 1.5 0.7 1.5 1 1.5 1.1 1.5 1.4 1.5 0 1.5 -0.9 1.5 -0.7 1.5 -0.7 1.5 -0.5 1.5 -0.3 1.5 -0.2 1.5 0.1 1.5 0.1 1.5 0.3 1.5 0.5 1.5 0.5 1.5 0.6 1.5 0.5 1.5 0.5 1.5 0.5 1.5 0.3 1.5 0.3 1.5 0.2 1.5 0.1 1.5 0.1 1.5 0 1.5 0.1 1.5 0.2 1.5 0.2 1.5 0.3 1.5 -0.4 1.5 -0.4 1.5 -0.6 1.5 -0.6" fill="none" stroke="#4b3996" stroke-width="2.3" stroke-linejoin="round"/>
<path d="M550.3,365.1l1.5 -0.1 1.5 0 1.5 -0.1 1.5 0.1 1.5 0.1 1.5 0.1 1.5 0.1 1.5 0.2 1.5 0.2 1.5 0.1 1.5 0.1 1.5 0.1 1.5 0.1 1.5 0 1.5 -0.3 1.5 -0.3 1.5 -0.3 1.5 -0.2 1.5 -0.1 1.5 -0.2 1.5 -0.1 1.5 -0.1 1.5 0 1.5 -0.1 1.5 -0.1 1.5 -0.1 1.5 -0.2 1.5 -0.2 1.5 -0.2 1.5 -0.3 1.5 -0.3 1.5 -0.4 1.5 -0.3 1.5 -0.4 1.5 -0.3 1.5 -0.3 1.5 -0.3 1.5 -0.2 1.5 -0.2 1.5 -0.1 1.5 0.1 1.5 0.1 1.5 0.2 1.5 0.4 1.5 0.4 1.5 0.6 1.5 0.6 1.5 0.7 1.5 0.7 1.5 0.8 1.5 0.8 1.5 -0.4 1.5 -0.4 1.5 -0.3 1.5 -0.3 1.5 -0.2 1.5 -0.1 1.5 0 1.5 0 1.5 0.1 1.5 0.2 1.5 0.2 1.5 0.3 1.5 0.3 1.5 0.4 1.5 0.3 1.5 0.4 1.5 0.3 1.5 0.3 1.5 0.3 1.5 0.2 1.5 0.1 1.5 0.1 1.5 -0.2 1.5 -1.2 1.5 -2.1 1.5 -2.8 1.5 -3.6 1.5 -4.3 1.5 -4.7 1.5 -5.1 1.5 -5.3 1.5 -5.4 1.5 -5.5 1.5 -5.2 1.5 -5 1.5 -4.5 1.5 -4.1 1.5 -3.4 1.5 -2.5 1.5 -1.8 1.5 -0.8 1.5 0 1.5 0.9 1.5 1.7 1.5 2.6 1.5 3.2 1.5 3.8 1.5 4.4 1.5 4.8 1.5 5.1 1.5 5.3 1.5 5.4 1.5 5.4 1.5 5.1 1.5 4.8 1.5 4.4 1.5 3.7 1.5 2.9 1.5 1.8 1.5 0.8 1.5 -0.1 1.5 -0.2 1.5 -0.3 1.5 -0.2 1.5 0 1.5 0.3 1.5 0.3 1.5 0.1 1.5 -0.2 1.5 -0.7 1.5 -0.9 1.5 -0.9 1.5 -1 1.5 -1 1.5 -0.9 1.5 -0.8 1.5 -0.6 1.5 -0.4 1.5 -0.3 1.5 0 1.5 0.2 1.5 0.4 1.5 0.7 1.5 0.8 1.5 1 1.5 1.1 1.5 1.2 1.5 1.2 1.5 1.1 1.5 1.2 1.5 1 1.5 -0.1 1.5 -0.8 1.5 -0.8 1.5 -0.8 1.5 -0.7 1.5 -0.6 1.5 -0.6 1.5 -0.4 1.5 -0.3 1.5 -0.1 1.5 -0.1 1.5 0.2 1.5 0.2 1.5 0.4 1.5 0.4 1.5 0.6 1.5 0.6 1.5 0.7 1.5 0.7 1.5 0.7 1.5 0.7 1.5 0.3 1.5 -0.6 1.5 -0.5 1.5 -0.5 1.5 -0.3 1.5 -0.3 1.5 -0.2 1.5 -0.1 1.5 0 1.5 0.1 1.5 0.1 1.5 0.1 1.5 0.3 1.5 0.2 1.5 0.2 1.5 0.3 1.5 0.2 1.5 0.2 1.5 0.2 1.5 0.1 1.5 0.1 1.5 0.1 1.5 0.1 1.5 0.1 1.5 0 1.5 0 1.5 0.1 1.5 0 1.5 0 1.5 0.1 1.5 0.1 1.5 0 1.5 -0.1 1.5 -0.1 1.5 -0.1 1.5 -0.1 1.5 -0.1 1.5 0 1.5 -0.1 1.5 0 1.5 0 1.5 0.1 1.5 0.1 1.5 0.1 1.5 0.2 1.5 0 1.5 -0.2 1.5 -0.2 1.5 -0.2 1.5 -0.2 1.5 -0.1 1.5 -0.1 1.5 -0.1 1.5 0 1.5 0 1.5 0.1 1.5 0.2 1.5 0.2 1.5 0.3 1.5 0.4 1.5 -0.4 1.5 -0.4 1.5 -0.4 1.5 -0.4 1.5 -0.4 1.5 -0.4 1.5 -0.3 1.5 -0.2 1.5 -0.2 1.5 0 1.5 0 1.5 0.1 1.5 0.2 1.5 0.3 1.5 0.4 1.5 0.4 1.5 0.5 1.5 0.5 1.5 0.5 1.5 -0.1 1.5 -0.5 1.5 -0.5 1.5 -0.4 1.5 -0.3 1.5 -0.3 1.5 -0.2 1.5 -0.2 1.5 0 1.5 0 1.5 0 1.5 0.2 1.5 0.1 1.5 0.2 1.5 0.2 1.5 0.2 1.5 0.3 1.5 0.2 1.5 0.2 1.5 0.1 1.5 0.2 1.5 0.1 1.5 0.1 1.5 0 1.5 0.1 1.5 0 1.5 0.1 1.5 0.1 1.5 0.1 1.5 0.1 1.5 0.1 1.5 -0.2 1.5 -0.2 1.5 -0.3 1.5 -0.3 1.5 -0.3 1.5 -0.3 1.5 -0.3 1.5 -0.3 1.5 -0.3 1.5 -0.2 1.5 -0.2 1.5 -0.1 1.5 -0.1 1.5 0.1 1.5 0.1 1.5 0.2 1.5 0.3 1.5 0.3 1.5 0.5 1.5 0.4 1.5 0.6 1.5 0.5 1.5 -0.4 1.5 -0.5 1.5 -0.5 1.5 -0.5 1.5 -0.3 1.5 -0.4 1.5 -0.2 1.5 -0.1 1.5 -0.1 1.5 0.1 1.5 0.1 1.5 0.2 1.5 0.3 1.5 0.4 1.5 0.4 1.5 0.4 1.5 0.4 1.5 0.5 1.5 0.2 1.5 -0.4 1.5 -0.3 1.5 -0.3 1.5 -0.3 1.5 -0.2 1.5 -0.1 1.5 0 1.5 0 1.5 0 1.5 0.1 1.5 0.1 1.5 0.1 1.5 0.2 1.5 0.1 1.5 0.2 1.5 0.2 1.5 0.1 1.5 0.2 1.5 0.1 1.5 0.1 1.5 0.2 1.5 -0.1 1.5 -0.1 1.5 -0.1 1.5 -0.2 1.5 -0.1 1.5 -0.2 1.5 -0.2 1.5 -0.2 1.5 -0.1 1.5 -0.2 1.5 -0.2 1.5 -0.2 1.5 -0.1 1.5 -0.1 1.5 -0.1 1.5 0 1.5 0.1 1.5 0.1 1.5 0.2 1.5 0.3 1.5 0.3 1.5 0.4 1.5 0.5 1.5 0.1 1.5 -0.5 1.5 -0.5 1.5 -0.6 1.5 -0.5 1.5 -0.5 1.5 -0.4 1.5 -0.3 1.5 -0.3 1.5 -0.1 1.5 0 1.5 0 1.5 0.2 1.5 0.3 1.5 0.5 1.5 0.5 1.5 0.5 1.5 0.7 1.5 0.6 1.5 0.5 1.5 -0.7 1.5 -0.6 1.5 -0.6 1.5 -0.5 1.5 -0.4 1.5 -0.3 1.5 -0.4 1.5 -0.4 1.5 -0.5 1.5 -0.4 1.5 -0.4 1.5 -0.4 1.5 -0.3 1.5 -0.4 1.5 -0.2 1.5 -0.2 1.5 -0.2 1.5 -0.1 1.5 -0.7 1.5 -0.7 1.5 -0.5 1.5 -0.3 1.5 -0.1 1.5 0.2 1.5 0.3 1.5 0.6 1.5 0.7 1.5 0.8 1.5 0.9 1.5 0.9 1.5 1 1.5 1 1.5 0.9 1.5 0.7 1.5 0.3 1.5 0.2 1.5 0.2 1.5 0 1.5 -0.1 1.5 -0.1 1.5 -0.4 1.5 -0.5 1.5 -0.6 1.5 -0.8 1.5 -0.9 1.5 -0.9 1.5 -1 1.5 -1 1.5 -0.9 1.5 -0.9 1.5 -0.8 1.5 -0.7 1.5 -0.4 1.5 -0.3 1.5 -0.1 1.5 0.1 1.5 -0.1 1.5 0.1 1.5 0.3 1.5 0.4 1.5 0.5 1.5 0.6 1.5 0.6 1.5 0.7 1.5 0.8 1.5 0.7 1.5 0.7 1.5 0.6 1.5 0.6 1.5 0.5 1.5 0.5 1.5 0.3 1.5 0.3 1.5 0.4 1.5 0.5 1.5 0.5 1.5 0.7 1.5 0.7 1.5 -0.5 1.5 -0.7 1.5 -0.8 1.5 -0.7 1.5 -0.6 1.5 -0.6 1.5 -0.6 1.5 -0.4 1.5 -0.4 1.5 -0.3 1.5 -0.2 1.5 0 1.5 0 1.5 0.1 1.5 0.2 1.5 0.4 1.5 0.3 1.5 0.5 1.5 0.5 1.5 0.6 1.5 0.5 1.5 0.6 1.5 -0.2 1.5 -0.4 1.5 -0.4 1.5 -0.3 1.5 -0.2 1.5 -0.2 1.5 0 1.5 0 1.5 0.1 1.5 0.1 1.5 0.1 1.5 0.2 1.5 0.1 1.5 0.1 1.5 0 1.5 0.1 1.5 -0.1 1.5 0 1.5 -0.1 1.5 0 1.5 -0.1 1.5 0 1.5 0 1.5 0.1 1.5 0.1 1.5 0.1 1.5 0.3 1.5 0.2 1.5 0.4 1.5 0.5 1.5 0.5 1.5 0.5 1.5 0.6 1.5 -0.5 1.5 -0.6 1.5 -0.7 1.5 -0.7 1.5 -0.6" fill="none" stroke="#f0731e" stroke-width="2.3" stroke-linejoin="round"/>
<path d="M549.1,745.5l1.5 0.1 1.5 0 1.5 0.1 1.5 0 1.5 0 1.5 0 1.5 -0.1 1.5 -0.1 1.5 0 1.5 0 1.5 0 1.5 0.2 1.5 0.2 1.5 0.3 1.5 0.4 1.5 0.3 1.5 0.4 1.5 0.2 1.5 0 1.5 -0.1 1.5 0 1.5 0.2 1.5 -0.3 1.5 -0.3 1.5 -0.4 1.5 -0.3 1.5 -0.3 1.5 -0.1 1.5 0.1 1.5 0.2 1.5 0.5 1.5 0.6 1.5 -0.3 1.5 -0.9 1.5 -0.9 1.5 -0.9 1.5 -0.8 1.5 -0.7 1.5 -0.3 1.5 -0.1 1.5 0.2 1.5 0.4 1.5 0.8 1.5 1 1.5 1.1 1.5 1.1 1.5 0 1.5 -1 1.5 -0.9 1.5 -0.6 1.5 -0.4 1.5 -0.1 1.5 0.1 1.5 0.3 1.5 0.4 1.5 0.6 1.5 0.5 1.5 0.5 1.5 0.5 1.5 0.3 1.5 0.1 1.5 0.1 1.5 -0.1 1.5 -0.2 1.5 -0.2 1.5 -0.2 1.5 -0.1 1.5 0 1.5 0.1 1.5 -2.1 1.5 -6.7 1.5 -12 1.5 -16.6 1.5 -20.3 1.5 -23.5 1.5 -26.1 1.5 -27.9 1.5 -29 1.5 -29.4 1.5 -29 1.5 -28 1.5 -26.3 1.5 -23.9 1.5 -21 1.5 -17.4 1.5 -13.2 1.5 -8.7 1.5 -3.9 1.5 0.8 1.5 5.5 1.5 10.2 1.5 14.5 1.5 18.6 1.5 22.2 1.5 25.2 1.5 27.1 1.5 28.5 1.5 29.3 1.5 29.3 1.5 28.6 1.5 27.2 1.5 25.1 1.5 22 1.5 17.3 1.5 12.2 1.5 7.2 1.5 2.2 1.5 -1.9 1.5 -1.6 1.5 -0.1 1.5 1 1.5 2 1.5 2.9 1.5 3 1.5 2.8 1.5 1.9 1.5 0.7 1.5 0.1 1.5 0.4 1.5 0.5 1.5 0.7 1.5 0.2 1.5 -0.9 1.5 -0.8 1.5 -0.8 1.5 -0.6 1.5 -0.4 1.5 -0.2 1.5 0.1 1.5 0.2 1.5 0.5 1.5 0.5 1.5 0.7 1.5 0.7 1.5 0.7 1.5 0.5 1.5 -0.5 1.5 -0.4 1.5 -0.3 1.5 -0.2 1.5 -0.1 1.5 -0.1 1.5 0 1.5 0.1 1.5 0 1.5 -0.1 1.5 0 1.5 -0.1 1.5 0 1.5 -0.1 1.5 0.1 1.5 0.1 1.5 0.2 1.5 0.3 1.5 0.5 1.5 0.6 1.5 -0.5 1.5 -0.7 1.5 -0.7 1.5 -0.6 1.5 -0.5 1.5 -0.2 1.5 0 1.5 0.2 1.5 0.6 1.5 0.8 1.5 1 1.5 0.2 1.5 -1.2 1.5 -1.2 1.5 -1.1 1.5 -0.8 1.5 -0.5 1.5 -0.2 1.5 0.2 1.5 0.6 1.5 0.9 1.5 1.2 1.5 1.5 1.5 0.7 1.5 -1.5 1.5 -1.4 1.5 -1.2 1.5 -0.9 1.5 -0.6 1.5 -0.2 1.5 0.1 1.5 0.4 1.5 0.7 1.5 0.9 1.5 1 1.5 1.1 1.5 1 1.5 0.8 1.5 -0.4 1.5 -0.5 1.5 -0.3 1.5 -0.2 1.5 -0.1 1.5 0.1 1.5 0.1 1.5 0 1.5 0 1.5 0 1.5 -0.2 1.5 -0.3 1.5 -0.3 1.5 -0.4 1.5 -0.4 1.5 -0.3 1.5 -0.3 1.5 0 1.5 0.1 1.5 0.2 1.5 0.5 1.5 0.6 1.5 0.8 1.5 0.8 1.5 0.5 1.5 -0.8 1.5 -0.6 1.5 -0.6 1.5 -0.3 1.5 -0.2 1.5 0 1.5 0.2 1.5 0.3 1.5 0.3 1.5 0.4 1.5 0.4 1.5 0.2 1.5 0.2 1.5 -0.1 1.5 -0.1 1.5 -0.3 1.5 -0.3 1.5 -0.4 1.5 -0.4 1.5 -0.4 1.5 -0.2 1.5 -0.1 1.5 0.2 1.5 0.3 1.5 0.5 1.5 0.7 1.5 0.7 1.5 0.3 1.5 -0.8 1.5 -0.7 1.5 -0.7 1.5 -0.4 1.5 -0.3 1.5 -0.1 1.5 0 1.5 0.3 1.5 0.3 1.5 0.4 1.5 0.4 1.5 0.4 1.5 0.3 1.5 0.1 1.5 0.1 1.5 -0.1 1.5 -0.1 1.5 -0.2 1.5 -0.2 1.5 -0.2 1.5 -0.1 1.5 0 1.5 0.2 1.5 0.4 1.5 0.5 1.5 0.7 1.5 -0.5 1.5 -0.8 1.5 -0.8 1.5 -0.7 1.5 -0.6 1.5 -0.4 1.5 -0.2 1.5 0.1 1.5 0.2 1.5 0.5 1.5 0.5 1.5 0.7 1.5 0.6 1.5 0.6 1.5 0.5 1.5 0.4 1.5 -0.2 1.5 0 1.5 0.1 1.5 0 1.5 -0.2 1.5 -0.3 1.5 -0.2 1.5 -0.1 1.5 0.1 1.5 0.3 1.5 0.5 1.5 -0.7 1.5 -0.7 1.5 -0.9 1.5 -0.9 1.5 -0.7 1.5 -0.6 1.5 -0.4 1.5 -0.1 1.5 0.2 1.5 0.5 1.5 0.9 1.5 1.1 1.5 1.2 1.5 0.8 1.5 -1.3 1.5 -1.2 1.5 -1 1.5 -0.8 1.5 -0.4 1.5 0 1.5 0.3 1.5 0.6 1.5 0.9 1.5 1.1 1.5 1.2 1.5 0.6 1.5 -1.1 1.5 -1 1.5 -0.7 1.5 -0.5 1.5 -0.2 1.5 0 1.5 0.4 1.5 0.5 1.5 0.6 1.5 0.8 1.5 0.8 1.5 0.7 1.5 -0.7 1.5 -0.6 1.5 -0.5 1.5 -0.3 1.5 -0.3 1.5 -0.2 1.5 -0.1 1.5 -0.1 1.5 -0.1 1.5 0 1.5 0 1.5 0 1.5 0 1.5 0.1 1.5 0.3 1.5 0.3 1.5 0.5 1.5 0.6 1.5 0.7 1.5 -0.1 1.5 -0.9 1.5 -1 1.5 -0.9 1.5 -0.8 1.5 -0.7 1.5 -0.4 1.5 -0.2 1.5 0.1 1.5 0.3 1.5 0.6 1.5 0.9 1.5 1 1.5 1 1.5 1.1 1.5 -0.2 1.5 -0.9 1.5 -1.5 1.5 -2.8 1.5 -4 1.5 -5 1.5 -6 1.5 -6.9 1.5 -7.6 1.5 -8.2 1.5 -8.5 1.5 -8.7 1.5 -8.4 1.5 -8.1 1.5 -7.2 1.5 -6.2 1.5 -5.1 1.5 -3.6 1.5 -2.2 1.5 -0.7 1.5 0.9 1.5 2.3 1.5 3.8 1.5 5.1 1.5 6.3 1.5 7.4 1.5 8.2 1.5 8.7 1.5 8.5 1.5 8.4 1.5 8.1 1.5 7.6 1.5 7 1.5 6.1 1.5 4.6 1.5 3 1.5 1.6 1.5 0.3 1.5 -1.2 1.5 -0.8 1.5 -0.2 1.5 0.6 1.5 1.1 1.5 1.4 1.5 1.4 1.5 1.2 1.5 0.7 1.5 -0.5 1.5 -0.7 1.5 -0.6 1.5 -0.5 1.5 -0.3 1.5 0 1.5 0.1 1.5 0.3 1.5 0.5 1.5 0.6 1.5 0.6 1.5 0.5 1.5 -0.3 1.5 -0.3 1.5 -0.2 1.5 0 1.5 0.2 1.5 0.3 1.5 0.3 1.5 -0.2 1.5 -0.4 1.5 -0.3 1.5 -0.1 1.5 0.1 1.5 0.3 1.5 0.4 1.5 -0.1 1.5 -0.7 1.5 -0.9 1.5 -1.2 1.5 -1.3 1.5 -1.4 1.5 -1.4 1.5 -1.3 1.5 -1.1 1.5 -1 1.5 -0.8 1.5 -0.5 1.5 -0.4 1.5 -0.1 1.5 -1 1.5 -1.8 1.5 -1.5 1.5 -1 1.5 -0.5 1.5 -0.1 1.5 0.4 1.5 0.8 1.5 1.2 1.5 1.4 1.5 1.6 1.5 1.8 1.5 1.8 1.5 1.7 1.5 1.6 1.5 1.4 1.5 1.2 1.5 1 1.5 0.8 1.5 0.6 1.5 0.4 1.5 0.1 1.5 0.2 1.5 0.3 1.5 -0.1 1.5 -0.3 1.5 -0.3 1.5 -0.3 1.5 -0.2 1.5 0 1.5 0 1.5 0.2 1.5 0.3 1.5 0.3 1.5 0.4 1.5 -0.2 1.5 -0.3 1.5 -0.2 1.5 0 1.5 0.2 1.5 0.4 1.5 -0.2 1.5 -0.8 1.5 -0.9 1.5 -0.9 1.5 -0.9 1.5 -0.8 1.5 -0.5 1.5 -0.3 1.5 0 1.5 0.4 1.5 0.8 1.5 1.1 1.5 1.3 1.5 1.5 1.5 -0.9 1.5 -1.6 1.5 -1.5" fill="none" stroke="#231f20" stroke-width="2.3" stroke-linejoin="round"/>
<path d="M549.1,746.6l1.5 0.3 1.5 0.3 1.5 0.1 1.5 0 1.5 -0.1 1.5 -0.2 1.5 -0.3 1.5 -0.4 1.5 -0.4 1.5 -0.4 1.5 -0.3 1.5 -0.3 1.5 -0.2 1.5 0 1.5 0.2 1.5 0.2 1.5 0.4 1.5 0.5 1.5 0.6 1.5 0.6 1.5 0.2 1.5 -0.5 1.5 -0.5 1.5 -0.4 1.5 -0.2 1.5 -0.1 1.5 0 1.5 0.1 1.5 0.2 1.5 0.2 1.5 0.3 1.5 0.3 1.5 0.2 1.5 0.1 1.5 0 1.5 0 1.5 -0.2 1.5 -0.2 1.5 -0.2 1.5 -0.3 1.5 -0.3 1.5 -0.2 1.5 -0.1 1.5 -0.1 1.5 0.1 1.5 0.2 1.5 0.3 1.5 0.4 1.5 0.5 1.5 0.5 1.5 -0.3 1.5 -0.4 1.5 -0.4 1.5 -0.3 1.5 -0.2 1.5 0 1.5 0.1 1.5 0.3 1.5 0.4 1.5 0.5 1.5 0.3 1.5 -0.6 1.5 -0.5 1.5 -0.5 1.5 -0.4 1.5 -0.3 1.5 -0.2 1.5 -0.1 1.5 0.1 1.5 -2.8 1.5 -7.4 1.5 -11.7 1.5 -15.8 1.5 -19.6 1.5 -22.8 1.5 -25.8 1.5 -28.1 1.5 -29.1 1.5 -29.4 1.5 -29 1.5 -27.8 1.5 -25.8 1.5 -23.3 1.5 -20.1 1.5 -16.5 1.5 -12.3 1.5 -7.9 1.5 -3.3 1.5 1.4 1.5 6.1 1.5 10.6 1.5 14.9 1.5 18.8 1.5 22.3 1.5 25.1 1.5 27.3 1.5 28.5 1.5 29 1.5 28.8 1.5 28 1.5 26.5 1.5 24.2 1.5 21 1.5 16.2 1.5 11.3 1.5 6.5 1.5 1.8 1.5 -2.4 1.5 -2 1.5 -0.3 1.5 1.2 1.5 2.6 1.5 3.5 1.5 3.9 1.5 3.5 1.5 1.8 1.5 -0.3 1.5 -0.9 1.5 -1 1.5 -0.9 1.5 -0.8 1.5 -0.7 1.5 -0.4 1.5 -0.2 1.5 0 1.5 0.3 1.5 0.5 1.5 0.7 1.5 0.9 1.5 1 1.5 1 1.5 1.1 1.5 0.5 1.5 -0.9 1.5 -0.8 1.5 -0.6 1.5 -0.5 1.5 -0.2 1.5 -0.2 1.5 0 1.5 0.1 1.5 0.2 1.5 0.2 1.5 0.2 1.5 0.2 1.5 0.1 1.5 0.2 1.5 0.1 1.5 0 1.5 0 1.5 0 1.5 0 1.5 0.1 1.5 0 1.5 0.1 1.5 0.1 1.5 0.1 1.5 0.1 1.5 0.2 1.5 0.2 1.5 0.2 1.5 0.2 1.5 0.2 1.5 0.1 1.5 0.1 1.5 0.1 1.5 0.2 1.5 0.1 1.5 -0.1 1.5 -0.2 1.5 -0.2 1.5 -0.2 1.5 -0.2 1.5 -0.3 1.5 -0.4 1.5 -0.3 1.5 -0.3 1.5 -0.3 1.5 -0.2 1.5 -0.1 1.5 -0.1 1.5 0 1.5 0.2 1.5 0.2 1.5 0.3 1.5 0.4 1.5 0.4 1.5 0.4 1.5 0.4 1.5 0.4 1.5 0.2 1.5 -0.2 1.5 -0.1 1.5 0 1.5 0.1 1.5 0.1 1.5 0 1.5 -0.1 1.5 -0.2 1.5 -0.1 1.5 0 1.5 0.1 1.5 0.1 1.5 0.3 1.5 -0.3 1.5 -0.3 1.5 -0.4 1.5 -0.4 1.5 -0.3 1.5 -0.2 1.5 -0.2 1.5 0.1 1.5 0.1 1.5 0.3 1.5 0.4 1.5 0.5 1.5 0.6 1.5 -0.4 1.5 -0.5 1.5 -0.5 1.5 -0.4 1.5 -0.2 1.5 -0.1 1.5 0.1 1.5 0.3 1.5 0.4 1.5 0.6 1.5 0.6 1.5 -0.3 1.5 -0.7 1.5 -0.6 1.5 -0.5 1.5 -0.5 1.5 -0.3 1.5 -0.1 1.5 0 1.5 0.2 1.5 0.3 1.5 0.4 1.5 0.5 1.5 0.5 1.5 0.5 1.5 0.4 1.5 0.4 1.5 -0.3 1.5 -0.2 1.5 -0.2 1.5 -0.1 1.5 0 1.5 0.1 1.5 0.1 1.5 0.1 1.5 0.1 1.5 0 1.5 0.1 1.5 0 1.5 0 1.5 -0.1 1.5 0 1.5 -0.1 1.5 -0.1 1.5 -0.1 1.5 -0.1 1.5 -0.2 1.5 -0.1 1.5 -0.1 1.5 -0.2 1.5 -0.2 1.5 -0.2 1.5 -0.2 1.5 -0.3 1.5 -0.2 1.5 -0.3 1.5 -0.2 1.5 -0.2 1.5 -0.1 1.5 0 1.5 0.1 1.5 0.3 1.5 0.3 1.5 0.5 1.5 0.6 1.5 0.8 1.5 0.6 1.5 -0.8 1.5 -0.8 1.5 -0.8 1.5 -0.7 1.5 -0.6 1.5 -0.4 1.5 -0.2 1.5 -0.1 1.5 0.2 1.5 0.3 1.5 0.4 1.5 0.5 1.5 0.6 1.5 0.6 1.5 0.6 1.5 0.5 1.5 0.3 1.5 0.3 1.5 0.1 1.5 -0.1 1.5 -0.2 1.5 -0.2 1.5 -0.3 1.5 -0.4 1.5 -0.3 1.5 -0.2 1.5 -0.2 1.5 0 1.5 0.1 1.5 0.3 1.5 0.4 1.5 0.6 1.5 0.6 1.5 -0.7 1.5 -0.7 1.5 -0.7 1.5 -0.6 1.5 -0.5 1.5 -0.3 1.5 -0.3 1.5 -0.1 1.5 0.1 1.5 0.1 1.5 0.3 1.5 0.3 1.5 0.4 1.5 0.4 1.5 0.4 1.5 0.4 1.5 0.4 1.5 0.2 1.5 0.3 1.5 0.2 1.5 0.1 1.5 0.2 1.5 0.1 1.5 -0.1 1.5 -0.2 1.5 -0.1 1.5 -0.2 1.5 -0.2 1.5 -0.1 1.5 -0.2 1.5 -0.1 1.5 -0.2 1.5 0 1.5 0 1.5 0 1.5 0.1 1.5 0.1 1.5 0.2 1.5 0.1 1.5 0.2 1.5 0.1 1.5 0.1 1.5 0.1 1.5 0 1.5 -0.1 1.5 -0.1 1.5 -0.1 1.5 -0.1 1.5 -0.1 1.5 -0.1 1.5 0 1.5 0 1.5 0.1 1.5 0.2 1.5 0.2 1.5 0.3 1.5 0 1.5 -1.2 1.5 -2.7 1.5 -4.1 1.5 -5.3 1.5 -6.3 1.5 -7.2 1.5 -7.9 1.5 -8.4 1.5 -8.6 1.5 -8.6 1.5 -8.3 1.5 -8.1 1.5 -7.2 1.5 -6.2 1.5 -5 1.5 -3.6 1.5 -2.1 1.5 -0.7 1.5 0.9 1.5 2.3 1.5 3.9 1.5 5.1 1.5 6.4 1.5 7.2 1.5 7.9 1.5 8.5 1.5 8.7 1.5 8.7 1.5 8.5 1.5 8.1 1.5 7.3 1.5 6.3 1.5 4.4 1.5 2.3 1.5 0.8 1.5 -0.6 1.5 -0.7 1.5 -0.2 1.5 0.6 1.5 1.2 1.5 0.8 1.5 0.7 1.5 0.5 1.5 0 1.5 -0.4 1.5 -0.4 1.5 -0.3 1.5 -0.1 1.5 0 1.5 0.2 1.5 0.2 1.5 0.5 1.5 0.5 1.5 0.5 1.5 0.6 1.5 0.6 1.5 -0.2 1.5 -0.5 1.5 -0.5 1.5 -0.4 1.5 -0.3 1.5 -0.2 1.5 -0.1 1.5 -0.1 1.5 0 1.5 0 1.5 0.1 1.5 0.1 1.5 0 1.5 0.1 1.5 0.1 1.5 0.2 1.5 0.1 1.5 0.2 1.5 0 1.5 -0.2 1.5 -0.5 1.5 -0.6 1.5 -0.9 1.5 -1.1 1.5 -1.2 1.5 -1.3 1.5 -1.5 1.5 -1.4 1.5 -1.3 1.5 -1.2 1.5 -1.2 1.5 -1 1.5 -0.7 1.5 -0.5 1.5 -0.1 1.5 0.3 1.5 0.6 1.5 0.9 1.5 1.3 1.5 1.1 1.5 0.7 1.5 0.8 1.5 0.7 1.5 0.8 1.5 0.7 1.5 0.8 1.5 0.7 1.5 0.6 1.5 0.7 1.5 0.6 1.5 0.5 1.5 0.5 1.5 0.7 1.5 0.9 1.5 0.9 1.5 0.9 1.5 0.2 1.5 -0.8 1.5 -0.8 1.5 -0.6 1.5 -0.4 1.5 -0.2 1.5 -0.1 1.5 0.1 1.5 0.2 1.5 0.4 1.5 0.4 1.5 0.4 1.5 0.4 1.5 0.4 1.5 0.3 1.5 0.2 1.5 0.2 1.5 0 1.5 0 1.5 -0.1 1.5 -0.1 1.5 -0.1 1.5 -0.1 1.5 -0.1 1.5 -0.1 1.5 0.1 1.5 0.1 1.5 0.1 1.5 0.2 1.5 0.1 1.5 0.2" fill="none" stroke="#e92028" stroke-width="2.3" stroke-linejoin="round"/>
<path d="M549.1,746.3l1.5 0.3 1.5 0.3 1.5 0.3 1.5 0.4 1.5 -0.3 1.5 -0.4 1.5 -0.4 1.5 -0.4 1.5 -0.3 1.5 -0.4 1.5 -0.3 1.5 -0.2 1.5 -0.2 1.5 -0.2 1.5 -0.1 1.5 0 1.5 0 1.5 0.1 1.5 0.1 1.5 0.2 1.5 0.3 1.5 0.2 1.5 0.4 1.5 0.3 1.5 0.4 1.5 0.4 1.5 0.5 1.5 0.2 1.5 -0.4 1.5 -0.5 1.5 -0.4 1.5 -0.4 1.5 -0.4 1.5 -0.3 1.5 -0.3 1.5 -0.3 1.5 -0.2 1.5 -0.2 1.5 -0.1 1.5 -0.1 1.5 -0.1 1.5 0 1.5 0 1.5 0.1 1.5 0.1 1.5 0.1 1.5 0.2 1.5 0.2 1.5 0.3 1.5 0.2 1.5 0.3 1.5 0.3 1.5 0.4 1.5 0.3 1.5 0.4 1.5 0.4 1.5 0.4 1.5 -0.2 1.5 -0.5 1.5 -0.4 1.5 -0.4 1.5 -0.4 1.5 -0.5 1.5 -0.4 1.5 -0.4 1.5 -0.4 1.5 -0.3 1.5 -0.4 1.5 -0.3 1.5 -3.1 1.5 -7.6 1.5 -11.7 1.5 -15.7 1.5 -19.1 1.5 -22.2 1.5 -24.6 1.5 -26.4 1.5 -27.4 1.5 -27.9 1.5 -27.6 1.5 -26.5 1.5 -24.8 1.5 -22.4 1.5 -19.5 1.5 -15.9 1.5 -12 1.5 -7.8 1.5 -3.2 1.5 1.4 1.5 5.9 1.5 10.2 1.5 14.3 1.5 18 1.5 21.2 1.5 23.7 1.5 25.7 1.5 27.1 1.5 27.7 1.5 27.6 1.5 26.8 1.5 25.4 1.5 23.3 1.5 20.1 1.5 15.6 1.5 10.8 1.5 6.3 1.5 2.1 1.5 -1.1 1.5 -0.7 1.5 0.8 1.5 2.2 1.5 3.4 1.5 3.3 1.5 2.4 1.5 2 1.5 1.1 1.5 -0.2 1.5 -0.7 1.5 -0.6 1.5 -0.5 1.5 -0.4 1.5 -0.3 1.5 -0.2 1.5 -0.1 1.5 0 1.5 0.1 1.5 0.2 1.5 0.3 1.5 0.4 1.5 0.5 1.5 0.5 1.5 0.6 1.5 0.6 1.5 0.6 1.5 0.6 1.5 0.7 1.5 0.6 1.5 0.7 1.5 -0.3 1.5 -0.6 1.5 -0.5 1.5 -0.5 1.5 -0.4 1.5 -0.3 1.5 -0.3 1.5 -0.2 1.5 -0.1 1.5 -0.1 1.5 -0.1 1.5 0.1 1.5 0 1.5 0.1 1.5 0.2 1.5 0.1 1.5 0.2 1.5 0.2 1.5 0.3 1.5 0.2 1.5 0.2 1.5 0.2 1.5 0.3 1.5 0.2 1.5 0.2 1.5 0.2 1.5 0.2 1.5 0.1 1.5 0.2 1.5 0.1 1.5 0.2 1.5 -0.1 1.5 -0.1 1.5 -0.1 1.5 -0.1 1.5 -0.2 1.5 -0.1 1.5 -0.1 1.5 -0.1 1.5 -0.1 1.5 -0.1 1.5 -0.1 1.5 -0.1 1.5 -0.1 1.5 -0.1 1.5 0 1.5 -0.1 1.5 0 1.5 0 1.5 0 1.5 0 1.5 0.1 1.5 0.1 1.5 0.1 1.5 0.1 1.5 0.2 1.5 0.1 1.5 0.2 1.5 0.2 1.5 0.3 1.5 0.2 1.5 -0.2 1.5 -0.2 1.5 -0.3 1.5 -0.2 1.5 -0.1 1.5 -0.2 1.5 -0.1 1.5 -0.1 1.5 0 1.5 0 1.5 0 1.5 0.1 1.5 0.1 1.5 0.1 1.5 0.2 1.5 0.2 1.5 0.2 1.5 0.3 1.5 0.1 1.5 -0.2 1.5 -0.3 1.5 -0.3 1.5 -0.2 1.5 -0.2 1.5 -0.2 1.5 -0.2 1.5 -0.1 1.5 0 1.5 0 1.5 0 1.5 0.1 1.5 0.1 1.5 0.2 1.5 0.2 1.5 0.3 1.5 0.3 1.5 0.3 1.5 0.2 1.5 -0.3 1.5 -0.4 1.5 -0.3 1.5 -0.4 1.5 -0.3 1.5 -0.3 1.5 -0.2 1.5 -0.2 1.5 -0.2 1.5 -0.1 1.5 0 1.5 0 1.5 0.1 1.5 0.1 1.5 0.2 1.5 0.2 1.5 0.3 1.5 0.3 1.5 0.3 1.5 0.4 1.5 0.4 1.5 0.4 1.5 -0.2 1.5 -0.3 1.5 -0.4 1.5 -0.3 1.5 -0.3 1.5 -0.3 1.5 -0.2 1.5 -0.2 1.5 -0.1 1.5 -0.1 1.5 0 1.5 0 1.5 0.1 1.5 0.1 1.5 0.1 1.5 0.2 1.5 0.2 1.5 0.2 1.5 0.3 1.5 0.2 1.5 0.3 1.5 0.2 1.5 0.3 1.5 0.2 1.5 0 1.5 -0.1 1.5 -0.2 1.5 -0.1 1.5 0 1.5 -0.1 1.5 0 1.5 0 1.5 0 1.5 0.1 1.5 0.1 1.5 0 1.5 0.1 1.5 0.1 1.5 0.1 1.5 0.1 1.5 0 1.5 -0.1 1.5 0 1.5 0 1.5 0.1 1.5 0 1.5 -0.1 1.5 -0.1 1.5 -0.1 1.5 -0.1 1.5 -0.2 1.5 -0.1 1.5 -0.2 1.5 -0.2 1.5 -0.1 1.5 -0.2 1.5 -0.1 1.5 -0.1 1.5 -0.1 1.5 -0.1 1.5 0 1.5 -0.1 1.5 0.1 1.5 0 1.5 0.1 1.5 0.1 1.5 0.1 1.5 0.2 1.5 0.2 1.5 0.2 1.5 0.2 1.5 0.2 1.5 0.3 1.5 0.2 1.5 -0.3 1.5 -0.2 1.5 -0.2 1.5 -0.2 1.5 -0.2 1.5 -0.2 1.5 -0.2 1.5 -0.1 1.5 -0.1 1.5 -0.1 1.5 -0.1 1.5 0 1.5 -0.1 1.5 0 1.5 0 1.5 0 1.5 0 1.5 0 1.5 0 1.5 0 1.5 0 1.5 0.1 1.5 0 1.5 0 1.5 0.1 1.5 0 1.5 0.1 1.5 0 1.5 0.1 1.5 0.1 1.5 0.1 1.5 0.2 1.5 0.1 1.5 0.2 1.5 0.3 1.5 0.2 1.5 0.3 1.5 -0.1 1.5 -0.4 1.5 -0.4 1.5 -0.4 1.5 -1.3 1.5 -2.7 1.5 -4.1 1.5 -5.4 1.5 -6.4 1.5 -7.3 1.5 -8 1.5 -8.3 1.5 -8.5 1.5 -8.4 1.5 -8.1 1.5 -7.5 1.5 -6.8 1.5 -5.8 1.5 -4.7 1.5 -3.4 1.5 -2.1 1.5 -0.6 1.5 0.8 1.5 2.3 1.5 3.8 1.5 5.1 1.5 6.3 1.5 7.4 1.5 7.8 1.5 8.1 1.5 8.2 1.5 8 1.5 7.6 1.5 7 1.5 6.3 1.5 5.1 1.5 3.5 1.5 1.9 1.5 0.5 1.5 -0.7 1.5 -0.9 1.5 -0.2 1.5 0.5 1.5 1.1 1.5 1.5 1.5 1.7 1.5 1.6 1.5 1.3 1.5 0.8 1.5 0.9 1.5 0.9 1.5 0.9 1.5 1 1.5 0.5 1.5 -1 1.5 -0.9 1.5 -0.9 1.5 -0.8 1.5 -0.7 1.5 -0.7 1.5 -0.6 1.5 -0.4 1.5 -0.4 1.5 -0.2 1.5 -0.2 1.5 0 1.5 0 1.5 0.2 1.5 0.3 1.5 0.3 1.5 0.5 1.5 0.5 1.5 0.6 1.5 0.6 1.5 0.6 1.5 0.7 1.5 0.7 1.5 0.7 1.5 0.6 1.5 0.3 1.5 -1.1 1.5 -1.1 1.5 -1.3 1.5 -1.3 1.5 -1.4 1.5 -1.5 1.5 -1.4 1.5 -1.4 1.5 -1.3 1.5 -1.3 1.5 -1.2 1.5 -1 1.5 -1 1.5 -0.7 1.5 -0.7 1.5 -0.4 1.5 -0.2 1.5 -0.1 1.5 0.1 1.5 0.4 1.5 0.5 1.5 0.7 1.5 0.8 1.5 1.1 1.5 1.1 1.5 1.2 1.5 1.4 1.5 1.4 1.5 1.1 1.5 0.8 1.5 0.9 1.5 0.8 1.5 0.8 1.5 0.7 1.5 0.7 1.5 0.5 1.5 0.5 1.5 0.4 1.5 0.2 1.5 0.1 1.5 0 1.5 0 1.5 0.1 1.5 0 1.5 0.2 1.5 0.1 1.5 0.2 1.5 0.2 1.5 0.3 1.5 0.3 1.5 0.3 1.5 0.3 1.5 0.3 1.5 0.3 1.5 -0.4 1.5 -0.3 1.5 -0.3 1.5 -0.3 1.5 -0.3 1.5 -0.2 1.5 -0.2 1.5 -0.1 1.5 -0.1 1.5 -0.1 1.5 0.1 1.5 0 1.5 0.2" fill="none" stroke="#1e48a0" stroke-width="2.3" stroke-linejoin="round"/>
<path d="M549.1,745.1l1.5 -0.4 1.5 -0.4 1.5 -0.3 1.5 -0.2 1.5 -0.1 1.5 0.1 1.5 0.2 1.5 0.3 1.5 0.4 1.5 0.5 1.5 0.6 1.5 0.6 1.5 0.6 1.5 0.6 1.5 -0.6 1.5 -0.5 1.5 -0.4 1.5 -0.4 1.5 -0.2 1.5 -0.1 1.5 0 1.5 0.1 1.5 0.2 1.5 0.2 1.5 0.4 1.5 0.3 1.5 0.4 1.5 0.4 1.5 0.1 1.5 -0.3 1.5 -0.2 1.5 -0.1 1.5 0 1.5 0.1 1.5 0.3 1.5 0.3 1.5 -0.3 1.5 -0.5 1.5 -0.5 1.5 -0.5 1.5 -0.5 1.5 -0.4 1.5 -0.4 1.5 -0.3 1.5 -0.2 1.5 -0.1 1.5 0.1 1.5 0.2 1.5 0.3 1.5 0.5 1.5 0.6 1.5 0.6 1.5 0.7 1.5 0.6 1.5 -0.8 1.5 -0.8 1.5 -0.7 1.5 -0.6 1.5 -0.6 1.5 -0.4 1.5 -0.3 1.5 -0.1 1.5 0 1.5 0.1 1.5 0.2 1.5 0.4 1.5 0.5 1.5 0.5 1.5 0.4 1.5 -2.6 1.5 -6.8 1.5 -10.9 1.5 -14.8 1.5 -18.7 1.5 -21.4 1.5 -23.4 1.5 -25 1.5 -25.9 1.5 -26.1 1.5 -25.6 1.5 -24.6 1.5 -22.9 1.5 -20.5 1.5 -17.7 1.5 -14.4 1.5 -10.6 1.5 -6.6 1.5 -2.4 1.5 1.9 1.5 6 1.5 10.1 1.5 13.9 1.5 17.3 1.5 20.1 1.5 22.5 1.5 24.3 1.5 25.3 1.5 25.8 1.5 25.6 1.5 24.7 1.5 23.2 1.5 21.1 1.5 17.9 1.5 13.7 1.5 9.4 1.5 5.1 1.5 1.4 1.5 -1.4 1.5 -0.5 1.5 0.9 1.5 1.7 1.5 1.7 1.5 2.4 1.5 2.4 1.5 1.9 1.5 1.1 1.5 0 1.5 -0.2 1.5 -0.1 1.5 0 1.5 0.2 1.5 0.3 1.5 0.3 1.5 0.5 1.5 0.5 1.5 0.5 1.5 0.6 1.5 0.5 1.5 0.5 1.5 -0.2 1.5 -0.4 1.5 -0.3 1.5 -0.2 1.5 -0.1 1.5 -0.1 1.5 0.1 1.5 0.1 1.5 0.1 1.5 0.2 1.5 0.2 1.5 0.2 1.5 0.2 1.5 0.1 1.5 0.1 1.5 0 1.5 0 1.5 -0.1 1.5 -0.1 1.5 -0.2 1.5 -0.3 1.5 -0.2 1.5 -0.3 1.5 -0.3 1.5 -0.3 1.5 -0.2 1.5 -0.2 1.5 -0.1 1.5 0 1.5 0.1 1.5 0.2 1.5 0.2 1.5 0.3 1.5 0.5 1.5 0.4 1.5 0.6 1.5 -0.3 1.5 -0.6 1.5 -0.6 1.5 -0.5 1.5 -0.5 1.5 -0.4 1.5 -0.3 1.5 -0.3 1.5 -0.1 1.5 0 1.5 0 1.5 0.2 1.5 0.2 1.5 0.4 1.5 0.4 1.5 0.4 1.5 0.5 1.5 0.5 1.5 0.4 1.5 0.5 1.5 0 1.5 -0.4 1.5 -0.4 1.5 -0.2 1.5 -0.3 1.5 -0.1 1.5 -0.2 1.5 0 1.5 -0.1 1.5 0 1.5 0 1.5 0 1.5 0.1 1.5 0 1.5 0 1.5 0 1.5 -0.1 1.5 0 1.5 -0.1 1.5 0 1.5 -0.1 1.5 -0.1 1.5 0 1.5 0 1.5 0 1.5 0.1 1.5 0.1 1.5 0.2 1.5 0.3 1.5 0.3 1.5 0.3 1.5 0.4 1.5 0.4 1.5 -0.3 1.5 -0.5 1.5 -0.4 1.5 -0.5 1.5 -0.4 1.5 -0.4 1.5 -0.4 1.5 -0.3 1.5 -0.2 1.5 -0.1 1.5 -0.1 1.5 0 1.5 0 1.5 0.2 1.5 0.2 1.5 0.2 1.5 0.3 1.5 0.3 1.5 0.3 1.5 0.3 1.5 0.4 1.5 0.3 1.5 0.3 1.5 0.3 1.5 0.3 1.5 0.2 1.5 -0.1 1.5 -0.2 1.5 -0.2 1.5 -0.2 1.5 -0.2 1.5 -0.2 1.5 -0.2 1.5 -0.2 1.5 -0.3 1.5 -0.2 1.5 -0.2 1.5 -0.3 1.5 -0.2 1.5 -0.2 1.5 -0.2 1.5 -0.2 1.5 -0.1 1.5 -0.1 1.5 0 1.5 0.1 1.5 0.1 1.5 0.2 1.5 0.2 1.5 0.4 1.5 0.4 1.5 0.4 1.5 0.5 1.5 0.5 1.5 0.5 1.5 0.1 1.5 -0.6 1.5 -0.4 1.5 -0.5 1.5 -0.4 1.5 -0.3 1.5 -0.2 1.5 -0.2 1.5 -0.1 1.5 0 1.5 0 1.5 0.1 1.5 0.1 1.5 0.2 1.5 0.2 1.5 0.3 1.5 0.2 1.5 0.2 1.5 0.2 1.5 0.1 1.5 0.1 1.5 0.1 1.5 0.1 1.5 0 1.5 0 1.5 -0.1 1.5 0 1.5 0 1.5 -0.1 1.5 0.1 1.5 0 1.5 0.1 1.5 0.2 1.5 0.2 1.5 0.3 1.5 0.3 1.5 -0.3 1.5 -0.4 1.5 -0.5 1.5 -0.4 1.5 -0.4 1.5 -0.4 1.5 -0.3 1.5 -0.3 1.5 -0.3 1.5 -0.1 1.5 0 1.5 0 1.5 0.2 1.5 0.3 1.5 0.3 1.5 0.4 1.5 0.5 1.5 0.5 1.5 0.6 1.5 0.5 1.5 -0.3 1.5 -0.5 1.5 -0.4 1.5 -0.4 1.5 -0.2 1.5 -0.2 1.5 0 1.5 0 1.5 0.2 1.5 0.2 1.5 0.3 1.5 0.4 1.5 0.4 1.5 0.4 1.5 0.1 1.5 -0.4 1.5 -0.3 1.5 -0.3 1.5 -0.1 1.5 -0.1 1.5 0 1.5 0.1 1.5 0.2 1.5 0.2 1.5 0.4 1.5 0.3 1.5 -0.2 1.5 -0.4 1.5 -0.4 1.5 -0.3 1.5 -0.3 1.5 -0.2 1.5 -0.1 1.5 0 1.5 0.1 1.5 0.1 1.5 0.3 1.5 0.3 1.5 0.4 1.5 0.4 1.5 0.3 1.5 -0.4 1.5 -0.4 1.5 -0.4 1.5 -0.3 1.5 -0.6 1.5 -1.5 1.5 -2.6 1.5 -3.4 1.5 -4.3 1.5 -5 1.5 -5.6 1.5 -6.1 1.5 -6.5 1.5 -6.9 1.5 -6.7 1.5 -6.2 1.5 -5.5 1.5 -4.8 1.5 -4 1.5 -2.9 1.5 -1.9 1.5 -0.8 1.5 0.4 1.5 1.4 1.5 2.6 1.5 3.6 1.5 4.6 1.5 5.4 1.5 5.8 1.5 6.1 1.5 6.2 1.5 6.2 1.5 6 1.5 5.7 1.5 5.2 1.5 4.5 1.5 3.5 1.5 2.3 1.5 1.3 1.5 0.3 1.5 -0.2 1.5 0.2 1.5 0.7 1.5 1.1 1.5 1.3 1.5 0.9 1.5 0.4 1.5 0.2 1.5 0 1.5 -0.2 1.5 0 1.5 0.1 1.5 0.1 1.5 0.3 1.5 0.3 1.5 0.3 1.5 0.2 1.5 -0.3 1.5 -0.3 1.5 -0.3 1.5 -0.2 1.5 0 1.5 0 1.5 0.1 1.5 0.3 1.5 0.3 1.5 0.5 1.5 -0.5 1.5 -0.6 1.5 -0.6 1.5 -0.6 1.5 -0.5 1.5 -0.6 1.5 -0.4 1.5 -0.3 1.5 -0.2 1.5 -0.3 1.5 -0.4 1.5 -0.6 1.5 -0.7 1.5 -0.7 1.5 -0.9 1.5 -0.9 1.5 -0.9 1.5 -0.9 1.5 -1 1.5 -2.2 1.5 -2 1.5 -1.8 1.5 -1.4 1.5 -1 1.5 -0.6 1.5 -0.2 1.5 0.2 1.5 0.7 1.5 1 1.5 1.4 1.5 1.7 1.5 1.8 1.5 2 1.5 2.1 1.5 2 1.5 1.9 1.5 1.8 1.5 1.4 1.5 1.2 1.5 0.8 1.5 0.5 1.5 0.1 1.5 -0.3 1.5 -0.3 1.5 -0.3 1.5 -0.3 1.5 -0.4 1.5 -0.3 1.5 -0.2 1.5 -0.2 1.5 -0.1 1.5 0 1.5 0.1 1.5 0.2 1.5 0.4 1.5 0.4 1.5 0.5 1.5 0.6 1.5 0 1.5 -0.8 1.5 -1 1.5 -1 1.5 -1 1.5 -0.9 1.5 -0.9 1.5 -0.8 1.5 -0.6 1.5 -0.4 1.5 -0.2 1.5 -0.1 1.5 0.2 1.5 0.4 1.5 0.6 1.5 0.7 1.5 0.9 1.5 0.9 1.5 0.9 1.5 0.9 1.5 0.8 1.5 0.8" fill="none" stroke="#157a35" stroke-width="2.3" stroke-linejoin="round"/>
<path d="M549.1,742.6l1.5 -0.2 1.5 0.1 1.5 0.2 1.5 0.3 1.5 0.5 1.5 0.6 1.5 0.6 1.5 0.6 1.5 0.6 1.5 0.6 1.5 0.5 1.5 0.3 1.5 0.3 1.5 -0.3 1.5 -0.2 1.5 -0.1 1.5 -0.2 1.5 -0.2 1.5 -0.2 1.5 -0.2 1.5 -0.4 1.5 -0.3 1.5 -0.4 1.5 -0.5 1.5 -0.4 1.5 -0.3 1.5 -0.3 1.5 -0.1 1.5 -0.1 1.5 0.2 1.5 0.2 1.5 0.4 1.5 0.6 1.5 0.6 1.5 0.7 1.5 0.8 1.5 0.7 1.5 -0.7 1.5 -0.6 1.5 -0.4 1.5 -0.4 1.5 -0.2 1.5 -0.1 1.5 0.1 1.5 0.1 1.5 0.3 1.5 0.2 1.5 0.3 1.5 0.3 1.5 0.2 1.5 0.1 1.5 0.1 1.5 0 1.5 -0.1 1.5 -0.1 1.5 -0.1 1.5 -0.2 1.5 -0.1 1.5 -0.2 1.5 0 1.5 -0.1 1.5 0.1 1.5 0.1 1.5 0.2 1.5 0.3 1.5 0.3 1.5 0.3 1.5 0.3 1.5 -0.7 1.5 -3.4 1.5 -6.9 1.5 -10 1.5 -13 1.5 -15.5 1.5 -17.7 1.5 -19.5 1.5 -20.7 1.5 -21.4 1.5 -21.5 1.5 -21.1 1.5 -20.1 1.5 -18.6 1.5 -16.6 1.5 -14.3 1.5 -11.4 1.5 -8.3 1.5 -5 1.5 -1.5 1.5 2 1.5 5.4 1.5 8.8 1.5 11.8 1.5 14.5 1.5 16.9 1.5 18.8 1.5 20.2 1.5 21.2 1.5 21.6 1.5 21.5 1.5 20.8 1.5 19.6 1.5 17.9 1.5 14.5 1.5 10.3 1.5 6.7 1.5 3.2 1.5 0 1.5 -1.7 1.5 -0.8 1.5 0.4 1.5 1.6 1.5 2.5 1.5 2.9 1.5 3 1.5 2.1 1.5 0.8 1.5 -0.1 1.5 -0.2 1.5 0 1.5 0.1 1.5 0.2 1.5 0.3 1.5 0.3 1.5 -0.2 1.5 -0.3 1.5 -0.3 1.5 -0.2 1.5 -0.1 1.5 0 1.5 0.2 1.5 0.3 1.5 0.4 1.5 0.1 1.5 -0.5 1.5 -0.5 1.5 -0.5 1.5 -0.4 1.5 -0.3 1.5 -0.1 1.5 0 1.5 0.2 1.5 0.2 1.5 0.4 1.5 0.5 1.5 0.5 1.5 0.4 1.5 0.1 1.5 -0.3 1.5 -0.3 1.5 -0.2 1.5 0 1.5 0 1.5 0.2 1.5 0.2 1.5 0.2 1.5 0.1 1.5 0.1 1.5 0.1 1.5 -0.1 1.5 -0.1 1.5 -0.3 1.5 -0.4 1.5 -0.4 1.5 -0.5 1.5 -0.4 1.5 -0.4 1.5 -0.3 1.5 -0.2 1.5 0 1.5 0.2 1.5 0.4 1.5 0.5 1.5 0.6 1.5 0.7 1.5 0.8 1.5 -0.8 1.5 -0.7 1.5 -0.7 1.5 -0.5 1.5 -0.3 1.5 -0.2 1.5 0 1.5 0.1 1.5 0.3 1.5 0.5 1.5 0.4 1.5 0.5 1.5 0.5 1.5 0.4 1.5 0.4 1.5 0 1.5 -0.1 1.5 0.1 1.5 0.1 1.5 -0.2 1.5 -0.3 1.5 -0.3 1.5 -0.3 1.5 -0.3 1.5 -0.1 1.5 -0.1 1.5 0 1.5 0.2 1.5 0.3 1.5 0.4 1.5 0.4 1.5 0.1 1.5 -0.5 1.5 -0.5 1.5 -0.5 1.5 -0.4 1.5 -0.3 1.5 -0.2 1.5 -0.2 1.5 0 1.5 0 1.5 0.1 1.5 0.1 1.5 0.2 1.5 0.3 1.5 0.2 1.5 0.3 1.5 0.2 1.5 0.3 1.5 0.3 1.5 0.3 1.5 0.3 1.5 0.1 1.5 -0.3 1.5 -0.3 1.5 -0.3 1.5 -0.3 1.5 -0.2 1.5 -0.3 1.5 -0.1 1.5 -0.1 1.5 -0.1 1.5 0.1 1.5 0.1 1.5 0.2 1.5 0.2 1.5 0.3 1.5 0.3 1.5 0.3 1.5 0.2 1.5 0.2 1.5 0.2 1.5 -0.1 1.5 0 1.5 0.1 1.5 -0.2 1.5 -0.2 1.5 -0.2 1.5 -0.2 1.5 -0.2 1.5 -0.1 1.5 -0.1 1.5 0 1.5 0.1 1.5 0.2 1.5 0.3 1.5 0.4 1.5 0 1.5 -0.4 1.5 -0.4 1.5 -0.3 1.5 -0.3 1.5 -0.2 1.5 -0.1 1.5 0 1.5 0.1 1.5 0.1 1.5 0.3 1.5 0.2 1.5 0.2 1.5 0.3 1.5 0.1 1.5 0.2 1.5 0 1.5 0 1.5 -0.1 1.5 -0.1 1.5 -0.2 1.5 -0.1 1.5 -0.1 1.5 0 1.5 0 1.5 0.2 1.5 0.2 1.5 0.3 1.5 0.2 1.5 -0.4 1.5 -0.4 1.5 -0.5 1.5 -0.3 1.5 -0.3 1.5 -0.1 1.5 0 1.5 0.1 1.5 0.3 1.5 0.3 1.5 0.5 1.5 0.5 1.5 0.2 1.5 -0.4 1.5 -0.4 1.5 -0.3 1.5 -0.1 1.5 0.1 1.5 0.2 1.5 0.4 1.5 0.6 1.5 -0.4 1.5 -0.7 1.5 -0.6 1.5 -0.6 1.5 -0.5 1.5 -0.3 1.5 -0.2 1.5 0.1 1.5 0.3 1.5 0.5 1.5 0.7 1.5 0.8 1.5 0.9 1.5 -0.7 1.5 -0.9 1.5 -0.8 1.5 -0.6 1.5 -0.5 1.5 -0.2 1.5 -0.1 1.5 0.2 1.5 0.3 1.5 0.4 1.5 0.6 1.5 0.6 1.5 0.6 1.5 0.6 1.5 0.4 1.5 0 1.5 -0.3 1.5 -0.1 1.5 0 1.5 0.1 1.5 0.1 1.5 0.2 1.5 0.2 1.5 -0.2 1.5 -0.2 1.5 -0.1 1.5 0 1.5 0.1 1.5 0.1 1.5 0.2 1.5 -0.1 1.5 -0.3 1.5 -0.3 1.5 -0.2 1.5 -0.3 1.5 -0.1 1.5 -0.2 1.5 0 1.5 0 1.5 0 1.5 0 1.5 0.1 1.5 0 1.5 0.1 1.5 0 1.5 0 1.5 0 1.5 -0.1 1.5 0 1.5 -0.3 1.5 -1 1.5 -1.8 1.5 -2.4 1.5 -3.1 1.5 -3.6 1.5 -3.9 1.5 -4.5 1.5 -5 1.5 -5.1 1.5 -4.8 1.5 -4.4 1.5 -4 1.5 -3.5 1.5 -2.7 1.5 -2.1 1.5 -1.3 1.5 -0.6 1.5 0.3 1.5 1 1.5 1.8 1.5 2.6 1.5 3.2 1.5 3.9 1.5 4.4 1.5 4.7 1.5 4.8 1.5 4.7 1.5 4.5 1.5 4.2 1.5 3.8 1.5 3.4 1.5 2.4 1.5 1.6 1.5 0.6 1.5 -0.1 1.5 -0.5 1.5 -0.2 1.5 0.1 1.5 0.5 1.5 0.6 1.5 0.8 1.5 0.8 1.5 0.6 1.5 0.3 1.5 0.2 1.5 0.3 1.5 0.2 1.5 0 1.5 -0.1 1.5 -0.1 1.5 0 1.5 0.1 1.5 0.2 1.5 -0.2 1.5 -0.3 1.5 -0.3 1.5 -0.3 1.5 -0.2 1.5 -0.2 1.5 -0.1 1.5 0.1 1.5 0.2 1.5 0.3 1.5 0.5 1.5 0.4 1.5 -0.7 1.5 -0.7 1.5 -0.7 1.5 -0.6 1.5 -0.6 1.5 -0.4 1.5 -0.3 1.5 -0.3 1.5 -0.3 1.5 -0.3 1.5 -0.2 1.5 -0.2 1.5 -0.2 1.5 -0.2 1.5 -1.9 1.5 -2 1.5 -1.7 1.5 -1.5 1.5 -1.2 1.5 -0.8 1.5 -0.4 1.5 0.1 1.5 0.4 1.5 0.8 1.5 1.1 1.5 1.3 1.5 1.4 1.5 0.5 1.5 0.5 1.5 0.7 1.5 0.9 1.5 1 1.5 1.1 1.5 1.2 1.5 1.1 1.5 1.1 1.5 0.8 1.5 0.7 1.5 0.4 1.5 0.2 1.5 -0.1 1.5 -0.1 1.5 0.1 1.5 0.1 1.5 -0.1 1.5 -0.2 1.5 -0.1 1.5 -0.1 1.5 0 1.5 0.1 1.5 0.2 1.5 0.2 1.5 -0.3 1.5 -0.4 1.5 -0.3 1.5 -0.3 1.5 -0.2 1.5 -0.2 1.5 -0.1 1.5 0.1 1.5 0.2 1.5 0.2 1.5 0.4 1.5 0.4 1.5 0.5 1.5 -0.4 1.5 -0.3 1.5 -0.3 1.5 -0.2 1.5 0 1.5 0.1 1.5 0.2 1.5 0.3 1.5 0.4 1.5 -0.1 1.5 -0.4 1.5 -0.4" fill="none" stroke="#a33c91" stroke-width="2.3" stroke-linejoin="round"/>
<path d="M549.1,745.7l1.5 -0.1 1.5 -0.2 1.5 0 1.5 0 1.5 0.1 1.5 0.1 1.5 0.2 1.5 0.3 1.5 0.3 1.5 0.4 1.5 0.4 1.5 0.3 1.5 -0.4 1.5 -0.5 1.5 -0.4 1.5 -0.3 1.5 -0.3 1.5 -0.2 1.5 -0.2 1.5 0 1.5 0 1.5 0.2 1.5 0.2 1.5 0.4 1.5 0.4 1.5 0.4 1.5 0.6 1.5 -0.1 1.5 -0.5 1.5 -0.5 1.5 -0.5 1.5 -0.4 1.5 -0.4 1.5 -0.2 1.5 -0.2 1.5 -0.1 1.5 0.1 1.5 0.1 1.5 0.3 1.5 0.3 1.5 0.4 1.5 0.5 1.5 0.5 1.5 0.5 1.5 0.2 1.5 -0.5 1.5 -0.5 1.5 -0.5 1.5 -0.4 1.5 -0.3 1.5 -0.3 1.5 -0.2 1.5 -0.1 1.5 -0.1 1.5 0 1.5 0.1 1.5 0.1 1.5 0.1 1.5 0.2 1.5 0.1 1.5 0.2 1.5 0.2 1.5 0.2 1.5 0.1 1.5 0.2 1.5 0.1 1.5 0.2 1.5 0.1 1.5 -0.2 1.5 -2.3 1.5 -4.6 1.5 -6.8 1.5 -8.7 1.5 -10.6 1.5 -12.5 1.5 -13.7 1.5 -14.4 1.5 -14.9 1.5 -14.8 1.5 -14.4 1.5 -13.7 1.5 -12.5 1.5 -11.1 1.5 -9.3 1.5 -7.5 1.5 -5.2 1.5 -3.1 1.5 -0.7 1.5 1.7 1.5 3.9 1.5 6.2 1.5 8.2 1.5 10 1.5 11.7 1.5 13 1.5 14.1 1.5 14.7 1.5 15 1.5 14.9 1.5 13.9 1.5 12.5 1.5 11.2 1.5 9.1 1.5 6.7 1.5 4.1 1.5 1.8 1.5 -0.3 1.5 -1.2 1.5 -0.5 1.5 0.3 1.5 1 1.5 1.6 1.5 1.8 1.5 1.8 1.5 1.4 1.5 0.8 1.5 0.1 1.5 0.1 1.5 0 1.5 0.1 1.5 0 1.5 0 1.5 0 1.5 0 1.5 0.1 1.5 0.1 1.5 0.1 1.5 0.2 1.5 0.2 1.5 0.3 1.5 0.4 1.5 0.4 1.5 0.4 1.5 0.1 1.5 -0.6 1.5 -0.5 1.5 -0.5 1.5 -0.6 1.5 -0.5 1.5 -0.4 1.5 -0.4 1.5 -0.3 1.5 -0.2 1.5 -0.1 1.5 0 1.5 0.1 1.5 0.1 1.5 0.3 1.5 0.4 1.5 0.4 1.5 0.5 1.5 0.5 1.5 0.5 1.5 0.5 1.5 0.5 1.5 0.5 1.5 -0.4 1.5 -0.3 1.5 -0.3 1.5 -0.2 1.5 -0.1 1.5 0 1.5 0 1.5 0.1 1.5 0.2 1.5 0.2 1.5 0.2 1.5 0.2 1.5 0.2 1.5 0.2 1.5 -0.1 1.5 -0.1 1.5 -0.1 1.5 0 1.5 0 1.5 0.1 1.5 0.2 1.5 -0.2 1.5 -0.2 1.5 -0.2 1.5 -0.3 1.5 -0.2 1.5 -0.2 1.5 -0.2 1.5 -0.2 1.5 -0.1 1.5 -0.1 1.5 0 1.5 0 1.5 0 1.5 0.1 1.5 0.1 1.5 0.2 1.5 0.1 1.5 0.2 1.5 0.1 1.5 0.2 1.5 0.1 1.5 0.1 1.5 0.1 1.5 0.1 1.5 0 1.5 0.1 1.5 0 1.5 0 1.5 0 1.5 0 1.5 0.1 1.5 0 1.5 0.1 1.5 0.2 1.5 -0.1 1.5 -0.3 1.5 -0.2 1.5 -0.3 1.5 -0.3 1.5 -0.4 1.5 -0.3 1.5 -0.3 1.5 -0.3 1.5 -0.3 1.5 -0.2 1.5 -0.1 1.5 -0.1 1.5 0 1.5 0.1 1.5 0.2 1.5 0.3 1.5 0.3 1.5 0.4 1.5 0.5 1.5 0.5 1.5 0.5 1.5 0.3 1.5 -0.5 1.5 -0.5 1.5 -0.4 1.5 -0.3 1.5 -0.3 1.5 -0.1 1.5 -0.1 1.5 0.1 1.5 0.2 1.5 0.2 1.5 0.3 1.5 0.4 1.5 0.4 1.5 0.5 1.5 -0.1 1.5 -0.4 1.5 -0.4 1.5 -0.4 1.5 -0.3 1.5 -0.2 1.5 -0.1 1.5 0 1.5 0.1 1.5 0.2 1.5 0.3 1.5 0.4 1.5 0.4 1.5 0.5 1.5 -0.2 1.5 -0.6 1.5 -0.6 1.5 -0.5 1.5 -0.6 1.5 -0.5 1.5 -0.4 1.5 -0.3 1.5 -0.3 1.5 -0.2 1.5 -0.1 1.5 0 1.5 0.1 1.5 0.1 1.5 0.3 1.5 0.3 1.5 0.3 1.5 0.4 1.5 0.4 1.5 0.5 1.5 0.5 1.5 0.5 1.5 0.5 1.5 0.5 1.5 -0.3 1.5 -0.6 1.5 -0.5 1.5 -0.5 1.5 -0.6 1.5 -0.5 1.5 -0.5 1.5 -0.5 1.5 -0.5 1.5 -0.5 1.5 -0.4 1.5 -0.4 1.5 -0.4 1.5 -0.2 1.5 -0.2 1.5 -0.1 1.5 0 1.5 0.1 1.5 0.3 1.5 0.3 1.5 0.5 1.5 0.7 1.5 0.7 1.5 0.8 1.5 1 1.5 1 1.5 1 1.5 -0.3 1.5 -1.1 1.5 -1.1 1.5 -1 1.5 -0.9 1.5 -0.8 1.5 -0.8 1.5 -0.5 1.5 -0.5 1.5 -0.2 1.5 -0.1 1.5 0.1 1.5 0.2 1.5 0.4 1.5 0.5 1.5 0.6 1.5 0.7 1.5 0.8 1.5 0.8 1.5 0.8 1.5 0.8 1.5 0.8 1.5 0.8 1.5 0.2 1.5 -0.6 1.5 -0.5 1.5 -0.3 1.5 -0.3 1.5 -0.2 1.5 -0.1 1.5 0 1.5 0 1.5 0.1 1.5 0.2 1.5 0.1 1.5 0.2 1.5 0.1 1.5 0.2 1.5 0.1 1.5 0.1 1.5 0 1.5 0 1.5 0 1.5 -0.1 1.5 -0.1 1.5 -0.1 1.5 -0.1 1.5 -0.2 1.5 -0.1 1.5 -0.1 1.5 -0.1 1.5 0 1.5 -0.1 1.5 0 1.5 0.1 1.5 0 1.5 0.1 1.5 0.1 1.5 0.1 1.5 0.1 1.5 0.1 1.5 -0.2 1.5 -0.7 1.5 -1.2 1.5 -1.7 1.5 -2.1 1.5 -2.4 1.5 -2.7 1.5 -3 1.5 -2.9 1.5 -3 1.5 -2.9 1.5 -2.8 1.5 -2.4 1.5 -2.2 1.5 -1.7 1.5 -1.3 1.5 -0.8 1.5 -0.2 1.5 0.3 1.5 0.8 1.5 1.2 1.5 1.6 1.5 2 1.5 2.2 1.5 2.4 1.5 2.5 1.5 2.5 1.5 2.6 1.5 2.6 1.5 2.4 1.5 2.4 1.5 2.1 1.5 1.6 1.5 1.3 1.5 0.9 1.5 0.4 1.5 0.5 1.5 0.7 1.5 0.9 1.5 -0.3 1.5 -0.3 1.5 -0.3 1.5 -0.2 1.5 -0.2 1.5 -0.4 1.5 -0.3 1.5 -0.1 1.5 -0.1 1.5 0.1 1.5 0.1 1.5 0.3 1.5 0.3 1.5 0.4 1.5 0.4 1.5 0.4 1.5 0.4 1.5 0.4 1.5 0.4 1.5 0.3 1.5 0.3 1.5 0.2 1.5 -0.1 1.5 -0.1 1.5 0 1.5 0.1 1.5 0.1 1.5 -0.1 1.5 -0.2 1.5 -0.2 1.5 -0.1 1.5 -0.2 1.5 -0.2 1.5 -0.2 1.5 -0.3 1.5 -0.4 1.5 -0.6 1.5 -0.6 1.5 -0.6 1.5 -0.7 1.5 -0.8 1.5 -0.7 1.5 -0.7 1.5 -0.6 1.5 -0.5 1.5 -0.5 1.5 -0.4 1.5 -0.2 1.5 -0.2 1.5 -0.1 1.5 0.1 1.5 0.2 1.5 0.4 1.5 0.6 1.5 0.6 1.5 0.6 1.5 0.7 1.5 0.7 1.5 0.6 1.5 0.6 1.5 0.5 1.5 0.3 1.5 0.2 1.5 0 1.5 -0.1 1.5 -0.3 1.5 -0.4 1.5 -0.3 1.5 -0.3 1.5 -0.2 1.5 -0.2 1.5 -0.1 1.5 0.1 1.5 0.1 1.5 0.3 1.5 0.3 1.5 0.5 1.5 0.6 1.5 0.6 1.5 0.7 1.5 0.8 1.5 0.8 1.5 -0.6 1.5 -0.8 1.5 -0.8 1.5 -0.7 1.5 -0.7 1.5 -0.5 1.5 -0.5 1.5 -0.4 1.5 -0.4 1.5 -0.2 1.5 -0.1 1.5 0 1.5 0.1 1.5 0.1 1.5 0.2 1.5 0.2 1.5 0.3 1.5 0.3 1.5 0.3 1.5 0.3 1.5 0.3 1.5 0.3" fill="none" stroke="#e8217a" stroke-width="2.3" stroke-linejoin="round"/>
<path d="M549.1,746.9l1.5 -0.8 1.5 -0.8 1.5 -0.7 1.5 -0.7 1.5 -0.5 1.5 -0.5 1.5 -0.3 1.5 -0.3 1.5 -0.1 1.5 0 1.5 0.1 1.5 0.1 1.5 0.3 1.5 0.3 1.5 0.3 1.5 0.4 1.5 0.4 1.5 0.5 1.5 0.4 1.5 0.4 1.5 0.5 1.5 0.3 1.5 0.4 1.5 0.3 1.5 0.2 1.5 0.2 1.5 0.2 1.5 0.1 1.5 -0.1 1.5 0 1.5 -0.1 1.5 0.1 1.5 0 1.5 0 1.5 0 1.5 0 1.5 0 1.5 0 1.5 -0.1 1.5 -0.1 1.5 -0.1 1.5 -0.2 1.5 -0.2 1.5 -0.3 1.5 -0.2 1.5 -0.3 1.5 -0.3 1.5 -0.3 1.5 -0.3 1.5 -0.3 1.5 -0.3 1.5 -0.2 1.5 -0.2 1.5 -0.1 1.5 -0.1 1.5 0 1.5 0.1 1.5 0.1 1.5 0.2 1.5 0.3 1.5 0.3 1.5 0.4 1.5 0.4 1.5 0.5 1.5 0.5 1.5 0.5 1.5 0.3 1.5 -0.6 1.5 -0.9 1.5 -2.7 1.5 -4.4 1.5 -6.1 1.5 -7.5 1.5 -8.9 1.5 -9.9 1.5 -10.7 1.5 -11.2 1.5 -11.5 1.5 -11.5 1.5 -11.2 1.5 -10.5 1.5 -9.7 1.5 -8.6 1.5 -7.3 1.5 -5.7 1.5 -4.1 1.5 -2.2 1.5 -0.3 1.5 1.6 1.5 3.5 1.5 5.2 1.5 6.9 1.5 8.3 1.5 9.5 1.5 10.6 1.5 11.2 1.5 11.7 1.5 11.9 1.5 11.7 1.5 11.2 1.5 10.2 1.5 9 1.5 7.1 1.5 5.1 1.5 3.2 1.5 1.2 1.5 -0.4 1.5 -1 1.5 -0.3 1.5 0.3 1.5 0.9 1.5 1.4 1.5 1.6 1.5 1.5 1.5 1.4 1.5 0.8 1.5 0.2 1.5 -0.5 1.5 -0.4 1.5 -0.5 1.5 -0.4 1.5 -0.5 1.5 -0.4 1.5 -0.4 1.5 -0.3 1.5 -0.3 1.5 -0.2 1.5 -0.2 1.5 0 1.5 0 1.5 0 1.5 0.2 1.5 0.2 1.5 0.2 1.5 0.4 1.5 0.4 1.5 0.4 1.5 0.5 1.5 0.5 1.5 0.5 1.5 0.5 1.5 0.3 1.5 -0.5 1.5 -0.5 1.5 -0.5 1.5 -0.4 1.5 -0.4 1.5 -0.3 1.5 -0.3 1.5 -0.3 1.5 -0.2 1.5 -0.2 1.5 -0.1 1.5 -0.1 1.5 -0.1 1.5 0 1.5 0 1.5 0 1.5 0.1 1.5 0.1 1.5 0.1 1.5 0.1 1.5 0.1 1.5 0.2 1.5 0.1 1.5 0.2 1.5 0.2 1.5 0.3 1.5 0.2 1.5 0.3 1.5 0.3 1.5 0.3 1.5 0.4 1.5 0.4 1.5 0.5 1.5 -0.2 1.5 -0.5 1.5 -0.5 1.5 -0.6 1.5 -0.5 1.5 -0.6 1.5 -0.5 1.5 -0.6 1.5 -0.5 1.5 -0.5 1.5 -0.4 1.5 -0.4 1.5 -0.4 1.5 -0.2 1.5 -0.2 1.5 0 1.5 0 1.5 0.1 1.5 0.2 1.5 0.4 1.5 0.4 1.5 0.6 1.5 0.6 1.5 0.7 1.5 0.8 1.5 0.9 1.5 0.9 1.5 0.9 1.5 -0.6 1.5 -0.9 1.5 -0.9 1.5 -0.9 1.5 -0.8 1.5 -0.8 1.5 -0.7 1.5 -0.5 1.5 -0.5 1.5 -0.4 1.5 -0.2 1.5 -0.1 1.5 0 1.5 0.1 1.5 0.2 1.5 0.4 1.5 0.4 1.5 0.6 1.5 0.6 1.5 0.7 1.5 0.7 1.5 0.7 1.5 0.8 1.5 0.7 1.5 0.8 1.5 0.7 1.5 -0.5 1.5 -0.6 1.5 -0.6 1.5 -0.5 1.5 -0.4 1.5 -0.4 1.5 -0.3 1.5 -0.2 1.5 -0.1 1.5 -0.1 1.5 -0.1 1.5 0.1 1.5 0 1.5 0.1 1.5 0.1 1.5 0.1 1.5 0.1 1.5 0.2 1.5 0.1 1.5 0.1 1.5 0.1 1.5 0.1 1.5 0.1 1.5 0.1 1.5 0 1.5 0.1 1.5 0 1.5 0.1 1.5 0.1 1.5 0.1 1.5 0.1 1.5 0.1 1.5 0.2 1.5 0.3 1.5 0.3 1.5 0.3 1.5 0.3 1.5 0.5 1.5 -0.2 1.5 -0.5 1.5 -0.5 1.5 -0.5 1.5 -0.6 1.5 -0.5 1.5 -0.5 1.5 -0.5 1.5 -0.5 1.5 -0.4 1.5 -0.3 1.5 -0.3 1.5 -0.1 1.5 -0.1 1.5 0 1.5 0.1 1.5 0.2 1.5 0.3 1.5 0.4 1.5 0.5 1.5 0.5 1.5 0.6 1.5 0.7 1.5 0.7 1.5 0.8 1.5 0.7 1.5 -0.6 1.5 -0.7 1.5 -0.7 1.5 -0.6 1.5 -0.6 1.5 -0.5 1.5 -0.4 1.5 -0.3 1.5 -0.2 1.5 -0.1 1.5 0 1.5 0.2 1.5 0.1 1.5 0.3 1.5 0.4 1.5 0.4 1.5 0.5 1.5 0.5 1.5 0.5 1.5 0.6 1.5 0.5 1.5 0.5 1.5 0.1 1.5 -0.4 1.5 -0.4 1.5 -0.3 1.5 -0.2 1.5 -0.2 1.5 -0.1 1.5 0 1.5 0.1 1.5 0.2 1.5 0.2 1.5 0.2 1.5 0.3 1.5 0.4 1.5 0.3 1.5 -0.1 1.5 -0.4 1.5 -0.3 1.5 -0.3 1.5 -0.2 1.5 -0.2 1.5 -0.1 1.5 -0.1 1.5 0 1.5 0.1 1.5 0.2 1.5 0.2 1.5 0.3 1.5 0.3 1.5 0.4 1.5 0.2 1.5 -0.4 1.5 -0.5 1.5 -0.4 1.5 -0.4 1.5 -0.4 1.5 -0.4 1.5 -0.3 1.5 -0.3 1.5 -0.2 1.5 -0.2 1.5 -0.1 1.5 0 1.5 0.1 1.5 0.1 1.5 0.2 1.5 0.2 1.5 0.3 1.5 0.3 1.5 0.4 1.5 0.4 1.5 0.5 1.5 0.4 1.5 0.4 1.5 0.4 1.5 -0.5 1.5 -0.3 1.5 -0.4 1.5 -0.3 1.5 -0.5 1.5 -0.8 1.5 -1.1 1.5 -1.3 1.5 -1.5 1.5 -1.7 1.5 -1.8 1.5 -1.9 1.5 -2 1.5 -1.9 1.5 -1.9 1.5 -1.7 1.5 -1.5 1.5 -1.4 1.5 -1.1 1.5 -0.8 1.5 -0.5 1.5 -0.1 1.5 0.2 1.5 0.5 1.5 0.9 1.5 1.1 1.5 1.4 1.5 1.7 1.5 1.9 1.5 2 1.5 2.1 1.5 2.2 1.5 2.2 1.5 2.1 1.5 2 1.5 1.8 1.5 0.6 1.5 0.1 1.5 -0.3 1.5 -0.7 1.5 -0.7 1.5 -0.6 1.5 -0.5 1.5 -0.3 1.5 -0.1 1.5 -0.1 1.5 -0.1 1.5 -0.2 1.5 -0.1 1.5 -0.2 1.5 0 1.5 0.1 1.5 0.1 1.5 0.3 1.5 0.3 1.5 0.5 1.5 0.5 1.5 0.6 1.5 0.6 1.5 0.8 1.5 0.7 1.5 0.8 1.5 0.8 1.5 -0.9 1.5 -0.8 1.5 -0.7 1.5 -0.8 1.5 -0.6 1.5 -0.6 1.5 -0.6 1.5 -0.4 1.5 -0.4 1.5 -0.2 1.5 -0.2 1.5 -0.1 1.5 0.1 1.5 0 1.5 0 1.5 -0.1 1.5 0 1.5 -0.2 1.5 -0.1 1.5 -0.1 1.5 -0.2 1.5 -0.1 1.5 -0.1 1.5 -0.1 1.5 -0.1 1.5 0.1 1.5 0.1 1.5 0.2 1.5 -0.4 1.5 -0.5 1.5 -0.2 1.5 -0.1 1.5 0 1.5 0.2 1.5 0.2 1.5 0.4 1.5 0.4 1.5 0.4 1.5 0.5 1.5 0.4 1.5 0.4 1.5 0.3 1.5 0.3 1.5 0.1 1.5 0.1 1.5 -0.1 1.5 -0.1 1.5 0 1.5 -0.1 1.5 0 1.5 0 1.5 0.1 1.5 0.1 1.5 0.2 1.5 0.3 1.5 0.3 1.5 0.4 1.5 0.5 1.5 0.5 1.5 0.6 1.5 0.7 1.5 0.7 1.5 -0.1 1.5 -0.7 1.5 -0.8 1.5 -0.8 1.5 -0.7 1.5 -0.7 1.5 -0.7 1.5 -0.6 1.5 -0.5 1.5 -0.4 1.5 -0.4 1.5 -0.2 1.5 -0.1 1.5 0 1.5 0.1 1.5 0.2 1.5 0.4 1.5 0.5 1.5 0.5 1.5 0.7 1.5 0.7 1.5 0.8" fill="none" stroke="#7d080e" stroke-width="2.3" stroke-linejoin="round"/>
<path d="M549.1,746.0l1.5 -0.2 1.5 -0.1 1.5 0 1.5 0 1.5 0.1 1.5 0.2 1.5 0.2 1.5 0.2 1.5 0.3 1.5 0.3 1.5 0.2 1.5 0.3 1.5 -0.1 1.5 -0.3 1.5 -0.4 1.5 -0.3 1.5 -0.4 1.5 -0.3 1.5 -0.4 1.5 -0.3 1.5 -0.3 1.5 -0.2 1.5 -0.2 1.5 -0.1 1.5 0.1 1.5 0.1 1.5 0.2 1.5 0.4 1.5 0.4 1.5 0.5 1.5 0.5 1.5 0.5 1.5 0.5 1.5 0 1.5 -0.4 1.5 -0.2 1.5 -0.1 1.5 0 1.5 0.1 1.5 0.2 1.5 0.3 1.5 0.3 1.5 -0.3 1.5 -0.2 1.5 -0.2 1.5 0 1.5 0.1 1.5 0.3 1.5 0.2 1.5 -0.5 1.5 -0.7 1.5 -0.7 1.5 -0.8 1.5 -0.7 1.5 -0.7 1.5 -0.5 1.5 -0.4 1.5 -0.2 1.5 0.1 1.5 0.2 1.5 0.4 1.5 0.6 1.5 0.7 1.5 0.8 1.5 0.8 1.5 0.8 1.5 0.7 1.5 -0.2 1.5 -0.8 1.5 -2 1.5 -3.3 1.5 -4.6 1.5 -5.6 1.5 -6.6 1.5 -7.6 1.5 -8.2 1.5 -8.8 1.5 -9.1 1.5 -9.2 1.5 -8.9 1.5 -8.4 1.5 -7.8 1.5 -6.8 1.5 -5.6 1.5 -4.5 1.5 -3 1.5 -1.7 1.5 -0.2 1.5 1.2 1.5 2.5 1.5 3.9 1.5 5.2 1.5 6.3 1.5 7.5 1.5 8.3 1.5 9 1.5 9.5 1.5 8.7 1.5 8.4 1.5 8.1 1.5 7.4 1.5 6.8 1.5 5.5 1.5 4.2 1.5 2.8 1.5 1.5 1.5 0.3 1.5 -0.1 1.5 0.2 1.5 0.6 1.5 1 1.5 0.9 1.5 1.2 1.5 0.7 1.5 0.4 1.5 -0.1 1.5 -0.5 1.5 -0.7 1.5 -0.6 1.5 -0.5 1.5 -0.4 1.5 -0.3 1.5 0 1.5 0 1.5 0.3 1.5 0.4 1.5 0.6 1.5 0.7 1.5 0.7 1.5 0.8 1.5 0.7 1.5 -0.7 1.5 -0.6 1.5 -0.5 1.5 -0.3 1.5 -0.3 1.5 -0.1 1.5 0 1.5 0 1.5 0.1 1.5 0.1 1.5 0.2 1.5 0.1 1.5 0.1 1.5 0.2 1.5 0 1.5 0.1 1.5 0.1 1.5 0.1 1.5 0.1 1.5 0.1 1.5 0.2 1.5 0.2 1.5 0.3 1.5 0.3 1.5 0.1 1.5 -0.3 1.5 -0.3 1.5 -0.2 1.5 -0.2 1.5 -0.1 1.5 -0.1 1.5 0.1 1.5 0.1 1.5 0.2 1.5 0.3 1.5 0.3 1.5 0.3 1.5 -0.4 1.5 -0.3 1.5 -0.3 1.5 -0.3 1.5 -0.2 1.5 -0.1 1.5 -0.1 1.5 -0.1 1.5 0 1.5 0.1 1.5 0 1.5 0.1 1.5 0.1 1.5 0.1 1.5 0.1 1.5 0.2 1.5 0.1 1.5 0.2 1.5 0.3 1.5 0.3 1.5 0 1.5 -0.4 1.5 -0.5 1.5 -0.5 1.5 -0.6 1.5 -0.6 1.5 -0.5 1.5 -0.5 1.5 -0.4 1.5 -0.3 1.5 -0.1 1.5 0 1.5 0.3 1.5 0.4 1.5 0.5 1.5 0.7 1.5 0.7 1.5 0.9 1.5 0.8 1.5 -0.1 1.5 -0.7 1.5 -0.5 1.5 -0.4 1.5 -0.1 1.5 0 1.5 0.2 1.5 0.4 1.5 0.4 1.5 0.6 1.5 0.5 1.5 -0.5 1.5 -0.4 1.5 -0.3 1.5 -0.1 1.5 0.1 1.5 0.3 1.5 0.5 1.5 0.1 1.5 -0.8 1.5 -0.8 1.5 -0.8 1.5 -0.8 1.5 -0.7 1.5 -0.6 1.5 -0.3 1.5 -0.2 1.5 0.1 1.5 0.2 1.5 0.5 1.5 0.6 1.5 0.7 1.5 0.7 1.5 0.8 1.5 0.7 1.5 0.6 1.5 0.3 1.5 -0.4 1.5 -0.2 1.5 -0.1 1.5 -0.1 1.5 0 1.5 0 1.5 0 1.5 -0.1 1.5 -0.1 1.5 -0.3 1.5 -0.5 1.5 -0.5 1.5 -0.7 1.5 -0.7 1.5 -0.7 1.5 -0.7 1.5 -0.6 1.5 -0.5 1.5 -0.2 1.5 -0.1 1.5 0.2 1.5 0.5 1.5 0.7 1.5 0.9 1.5 1.1 1.5 1.3 1.5 1.3 1.5 -0.1 1.5 -1.2 1.5 -1.1 1.5 -0.9 1.5 -0.7 1.5 -0.5 1.5 -0.2 1.5 0 1.5 0.2 1.5 0.4 1.5 0.6 1.5 0.6 1.5 0.7 1.5 0.6 1.5 0.6 1.5 0.5 1.5 0.4 1.5 0.2 1.5 0.2 1.5 0.1 1.5 -0.1 1.5 0 1.5 -0.2 1.5 -0.1 1.5 0 1.5 -0.1 1.5 0.1 1.5 0.1 1.5 0.1 1.5 0.2 1.5 0.1 1.5 -0.2 1.5 -0.3 1.5 -0.2 1.5 -0.3 1.5 -0.1 1.5 -0.2 1.5 0 1.5 0 1.5 0 1.5 0 1.5 0.1 1.5 0.1 1.5 0.1 1.5 0 1.5 0.1 1.5 0 1.5 0 1.5 0 1.5 0 1.5 0.1 1.5 0 1.5 0.1 1.5 0.2 1.5 0.2 1.5 0.2 1.5 0.1 1.5 -0.4 1.5 -0.3 1.5 -0.3 1.5 -0.3 1.5 -0.3 1.5 -0.2 1.5 -0.1 1.5 -0.1 1.5 0 1.5 0.1 1.5 0.2 1.5 0.2 1.5 0.3 1.5 0.2 1.5 0.3 1.5 0.2 1.5 0.2 1.5 0.2 1.5 0.2 1.5 -0.1 1.5 -0.1 1.5 -0.1 1.5 -0.2 1.5 -0.2 1.5 -0.2 1.5 -0.3 1.5 -0.4 1.5 -0.4 1.5 -0.4 1.5 -0.4 1.5 -0.5 1.5 -0.3 1.5 -0.3 1.5 -0.1 1.5 0 1.5 0.1 1.5 0.4 1.5 0.5 1.5 0.7 1.5 0.9 1.5 0.9 1.5 0 1.5 -1 1.5 -0.9 1.5 -0.8 1.5 -0.8 1.5 -0.8 1.5 -0.9 1.5 -1 1.5 -0.9 1.5 -1 1.5 -0.9 1.5 -1 1.5 -1 1.5 -1 1.5 -1 1.5 -1 1.5 -1 1.5 -1.5 1.5 -1 1.5 -0.7 1.5 -0.5 1.5 -0.5 1.5 -0.4 1.5 -0.1 1.5 0.3 1.5 0.6 1.5 1 1.5 1.3 1.5 1.7 1.5 2 1.5 2.3 1.5 2.4 1.5 1.2 1.5 0.7 1.5 0.5 1.5 0.4 1.5 0.3 1.5 0 1.5 0 1.5 -0.1 1.5 -0.1 1.5 0.3 1.5 0.5 1.5 0.7 1.5 0.9 1.5 1 1.5 1 1.5 0.8 1.5 0.4 1.5 -0.4 1.5 -0.3 1.5 -0.1 1.5 0 1.5 0.1 1.5 0.2 1.5 0.2 1.5 0.2 1.5 0.1 1.5 0.1 1.5 -0.1 1.5 -0.2 1.5 -0.3 1.5 -0.4 1.5 -0.5 1.5 -0.6 1.5 -0.6 1.5 -0.5 1.5 -0.4 1.5 -0.3 1.5 -0.1 1.5 0.1 1.5 0.2 1.5 0.5 1.5 0.6 1.5 0.8 1.5 0.9 1.5 0.9 1.5 -0.9 1.5 -1 1.5 -0.8 1.5 -0.8 1.5 -0.7 1.5 -0.6 1.5 -0.3 1.5 -0.2 1.5 -0.1 1.5 0.1 1.5 0.2 1.5 0.4 1.5 0.3 1.5 0.4 1.5 0.5 1.5 0.4 1.5 -0.2 1.5 -0.3 1.5 -0.1 1.5 -0.1 1.5 0 1.5 0.2 1.5 0.1 1.5 0.3 1.5 0.2 1.5 0.3 1.5 0.2 1.5 0.2 1.5 0.2 1.5 0.2 1.5 0.1 1.5 0.1 1.5 0.1 1.5 0.1 1.5 0.1 1.5 0.1 1.5 0.2 1.5 0.2 1.5 0.1 1.5 0.2 1.5 0.1 1.5 0.1 1.5 0 1.5 0 1.5 0 1.5 0 1.5 0 1.5 0 1.5 0 1.5 0.1 1.5 0.2 1.5 -0.1 1.5 -0.3 1.5 -0.5 1.5 -0.4 1.5 -0.6 1.5 -0.5 1.5 -0.6 1.5 -0.5 1.5 -0.4 1.5 -0.3 1.5 -0.3 1.5 0 1.5 0.1 1.5 0.2 1.5 0.3 1.5 0.5 1.5 0.5 1.5 0.6 1.5 0.6 1.5 0.6" fill="none" stroke="#4b3996" stroke-width="2.3" stroke-linejoin="round"/>
<path d="M549.1,747.1l1.5 -0.6 1.5 -0.3 1.5 -0.2 1.5 -0.1 1.5 0 1.5 0.1 1.5 0 1.5 -0.1 1.5 -0.3 1.5 -0.2 1.5 -0.2 1.5 0 1.5 -0.2 1.5 -0.5 1.5 -0.4 1.5 -0.5 1.5 -0.4 1.5 -0.3 1.5 -0.3 1.5 -0.1 1.5 0 1.5 0.1 1.5 0.2 1.5 0.4 1.5 0.3 1.5 0.4 1.5 0.5 1.5 0.4 1.5 0.3 1.5 0.3 1.5 0 1.5 0.1 1.5 0.1 1.5 0.2 1.5 0.2 1.5 0.2 1.5 0.1 1.5 0.1 1.5 0.1 1.5 0 1.5 0 1.5 0 1.5 0 1.5 0 1.5 0.1 1.5 0.1 1.5 0.1 1.5 0.3 1.5 0.2 1.5 0.2 1.5 -0.4 1.5 -0.5 1.5 -0.4 1.5 -0.4 1.5 -0.4 1.5 -0.3 1.5 -0.2 1.5 0 1.5 0 1.5 0.1 1.5 0.2 1.5 0.3 1.5 0.4 1.5 0.4 1.5 0.5 1.5 0.4 1.5 0.4 1.5 -0.4 1.5 -0.6 1.5 -1.6 1.5 -2.8 1.5 -3.7 1.5 -4.7 1.5 -5.5 1.5 -6.1 1.5 -6.6 1.5 -7 1.5 -7.2 1.5 -7.2 1.5 -6.9 1.5 -6.6 1.5 -6 1.5 -5.3 1.5 -4.4 1.5 -3.5 1.5 -2.5 1.5 -1.3 1.5 -0.2 1.5 0.9 1.5 2.1 1.5 3.2 1.5 4.2 1.5 5 1.5 5.8 1.5 6.5 1.5 6.8 1.5 7.2 1.5 7.4 1.5 7.3 1.5 7.1 1.5 6.8 1.5 5 1.5 3.8 1.5 2.5 1.5 1.1 1.5 0 1.5 -0.9 1.5 -1.2 1.5 -0.6 1.5 0 1.5 0.5 1.5 1 1.5 1.3 1.5 1.5 1.5 1.4 1.5 1.2 1.5 1 1.5 0.9 1.5 0.8 1.5 0.3 1.5 -0.5 1.5 -0.3 1.5 0 1.5 0.1 1.5 0.4 1.5 0.5 1.5 -0.5 1.5 -0.6 1.5 -0.5 1.5 -0.3 1.5 -0.2 1.5 0.1 1.5 0.4 1.5 0.6 1.5 0.8 1.5 -0.6 1.5 -1.1 1.5 -1.2 1.5 -1.1 1.5 -1 1.5 -0.8 1.5 -0.6 1.5 -0.2 1.5 0.1 1.5 0.4 1.5 0.6 1.5 0.9 1.5 1.1 1.5 1.1 1.5 1.1 1.5 1.1 1.5 -0.1 1.5 -0.7 1.5 -0.4 1.5 -0.2 1.5 0.1 1.5 0.3 1.5 0.5 1.5 0.6 1.5 -0.1 1.5 -0.7 1.5 -0.5 1.5 -0.4 1.5 -0.2 1.5 0 1.5 0.2 1.5 0.4 1.5 0.6 1.5 0.7 1.5 -0.2 1.5 -0.8 1.5 -0.8 1.5 -0.7 1.5 -0.6 1.5 -0.4 1.5 -0.2 1.5 -0.1 1.5 0.1 1.5 0.2 1.5 0.2 1.5 0.4 1.5 0.3 1.5 0.3 1.5 0.3 1.5 0.2 1.5 0.1 1.5 0 1.5 0 1.5 -0.1 1.5 -0.1 1.5 -0.1 1.5 -0.1 1.5 -0.1 1.5 0 1.5 0.1 1.5 0.2 1.5 0.2 1.5 0.3 1.5 0.4 1.5 0.4 1.5 0.4 1.5 0.4 1.5 -0.2 1.5 -0.3 1.5 -0.4 1.5 -0.3 1.5 -0.4 1.5 -0.3 1.5 -0.4 1.5 -0.3 1.5 -0.4 1.5 -0.4 1.5 -0.5 1.5 -0.4 1.5 -0.5 1.5 -0.4 1.5 -0.4 1.5 -0.3 1.5 -0.3 1.5 -0.1 1.5 0 1.5 0.2 1.5 0.2 1.5 0.4 1.5 0.5 1.5 0.6 1.5 0.7 1.5 0.7 1.5 0.7 1.5 0.7 1.5 0.7 1.5 0.7 1.5 -0.1 1.5 -0.6 1.5 -0.5 1.5 -0.6 1.5 -0.5 1.5 -0.4 1.5 -0.5 1.5 -0.5 1.5 -0.4 1.5 -0.4 1.5 -0.4 1.5 -0.4 1.5 -0.4 1.5 -0.3 1.5 -0.2 1.5 -0.2 1.5 -0.1 1.5 0 1.5 0 1.5 0.1 1.5 0.2 1.5 0.2 1.5 0.3 1.5 0.3 1.5 0.4 1.5 0.4 1.5 0.5 1.5 0.6 1.5 0.6 1.5 0.7 1.5 0.8 1.5 0.8 1.5 0.8 1.5 -1 1.5 -1.1 1.5 -1.1 1.5 -1.1 1.5 -1.1 1.5 -1 1.5 -0.9 1.5 -0.7 1.5 -0.5 1.5 -0.3 1.5 0 1.5 0.2 1.5 0.4 1.5 0.6 1.5 0.7 1.5 0.9 1.5 0.9 1.5 0.8 1.5 0.8 1.5 0.6 1.5 0.5 1.5 0.3 1.5 0.1 1.5 0 1.5 -0.1 1.5 -0.1 1.5 -0.2 1.5 -0.1 1.5 0.1 1.5 0.2 1.5 0.4 1.5 0.7 1.5 0.9 1.5 -0.5 1.5 -1.3 1.5 -1.4 1.5 -1.4 1.5 -1.4 1.5 -1.2 1.5 -1 1.5 -0.7 1.5 -0.3 1.5 -0.1 1.5 0.4 1.5 0.6 1.5 0.9 1.5 1.2 1.5 1.3 1.5 1.3 1.5 1.2 1.5 1.2 1.5 0.9 1.5 0.5 1.5 -0.5 1.5 -0.2 1.5 0.1 1.5 0.3 1.5 0.4 1.5 -0.5 1.5 -0.4 1.5 -0.4 1.5 -0.3 1.5 -0.1 1.5 0.1 1.5 0.4 1.5 0.6 1.5 0.5 1.5 -0.9 1.5 -0.9 1.5 -1 1.5 -0.9 1.5 -0.8 1.5 -0.7 1.5 -0.4 1.5 -0.2 1.5 0 1.5 0.2 1.5 0.4 1.5 0.5 1.5 0.7 1.5 0.7 1.5 0.6 1.5 0.6 1.5 0.6 1.5 0.4 1.5 0.3 1.5 0.1 1.5 0.1 1.5 0 1.5 -0.1 1.5 -0.1 1.5 -0.1 1.5 -0.1 1.5 -0.1 1.5 0 1.5 0.1 1.5 0.1 1.5 0.2 1.5 0.3 1.5 0.3 1.5 0.1 1.5 -0.3 1.5 -0.3 1.5 -0.2 1.5 -0.3 1.5 -0.2 1.5 -0.3 1.5 -0.2 1.5 -0.5 1.5 -0.7 1.5 -0.9 1.5 -1.2 1.5 -1.3 1.5 -1.5 1.5 -1.5 1.5 -1.7 1.5 -1.6 1.5 -1.5 1.5 -1.4 1.5 -1.2 1.5 -1 1.5 -0.7 1.5 -0.5 1.5 -0.2 1.5 0.1 1.5 0.4 1.5 0.7 1.5 0.9 1.5 1.1 1.5 1.2 1.5 1.4 1.5 1.5 1.5 1.5 1.5 1.2 1.5 1.2 1.5 1.2 1.5 1.2 1.5 1 1.5 0.9 1.5 0.6 1.5 0.3 1.5 0 1.5 -0.3 1.5 -0.5 1.5 -0.5 1.5 -0.3 1.5 -0.2 1.5 -0.1 1.5 0 1.5 0.1 1.5 0.1 1.5 0.1 1.5 0.1 1.5 0.1 1.5 0.2 1.5 0.2 1.5 0.3 1.5 0.3 1.5 0.3 1.5 0.3 1.5 0.4 1.5 0.4 1.5 0.5 1.5 0.5 1.5 0.6 1.5 -0.1 1.5 -0.6 1.5 -0.8 1.5 -0.7 1.5 -0.6 1.5 -0.6 1.5 -0.5 1.5 -0.4 1.5 -0.2 1.5 -0.1 1.5 0.1 1.5 0.3 1.5 0.4 1.5 0.6 1.5 0.5 1.5 0.6 1.5 0.6 1.5 0.5 1.5 0.3 1.5 0.1 1.5 -0.1 1.5 -0.2 1.5 -0.4 1.5 -0.5 1.5 -0.6 1.5 -0.6 1.5 -0.6 1.5 -0.4 1.5 -0.2 1.5 -0.1 1.5 0.3 1.5 0.5 1.5 0.7 1.5 0.9 1.5 -0.5 1.5 -1 1.5 -1 1.5 -0.8 1.5 -0.6 1.5 -0.4 1.5 -0.1 1.5 0.2 1.5 0.5 1.5 0.8 1.5 1 1.5 1.2 1.5 1.3 1.5 1.3 1.5 -0.5 1.5 -1 1.5 -0.8 1.5 -0.4 1.5 -0.2 1.5 0.1 1.5 0.3 1.5 0.6 1.5 0.8 1.5 0.9 1.5 0.1 1.5 -0.9 1.5 -0.7 1.5 -0.6 1.5 -0.3 1.5 0 1.5 0.2 1.5 0.4 1.5 0.5 1.5 0.7 1.5 0.8 1.5 -0.1 1.5 -0.7 1.5 -0.5 1.5 -0.3 1.5 -0.2 1.5 0.1 1.5 0.3 1.5 0.5 1.5 0.6 1.5 0.5 1.5 -0.7 1.5 -0.7 1.5 -0.6 1.5 -0.5 1.5 -0.2 1.5 -0.1 1.5 0.1 1.5 0.3" fill="none" stroke="#f0731e" stroke-width="2.3" stroke-linejoin="round"/>
<line x1="65.60" y1="1.20" x2="431.60" y2="1.20" stroke="#231f20" stroke-width="2.4" stroke-linecap="square"/>
<line x1="65.60" y1="1.20" x2="65.60" y2="747.10" stroke="#231f20" stroke-width="2.7" stroke-linecap="square"/>
<line x1="431.60" y1="1.20" x2="431.60" y2="747.10" stroke="#231f20" stroke-width="2.7" stroke-linecap="square"/>
<line x1="65.60" y1="368.60" x2="431.60" y2="368.60" stroke="#231f20" stroke-width="3.2" stroke-linecap="square"/>
<line x1="65.60" y1="747.10" x2="431.60" y2="747.10" stroke="#231f20" stroke-width="2.7" stroke-linecap="square"/>
<line x1="549.80" y1="1.20" x2="1325.30" y2="1.20" stroke="#231f20" stroke-width="2.4" stroke-linecap="square"/>
<line x1="549.80" y1="1.20" x2="549.80" y2="370.90" stroke="#231f20" stroke-width="2.4" stroke-linecap="square"/>
<line x1="1325.30" y1="1.20" x2="1325.30" y2="370.90" stroke="#231f20" stroke-width="2.4" stroke-linecap="square"/>
<line x1="549.80" y1="370.90" x2="1325.30" y2="370.90" stroke="#231f20" stroke-width="2.5" stroke-linecap="square"/>
<line x1="548.60" y1="373.20" x2="1325.80" y2="373.20" stroke="#231f20" stroke-width="2.5" stroke-linecap="square"/>
<line x1="548.60" y1="373.20" x2="548.60" y2="749.70" stroke="#231f20" stroke-width="2.5" stroke-linecap="square"/>
<line x1="1325.80" y1="373.20" x2="1325.80" y2="749.70" stroke="#231f20" stroke-width="2.5" stroke-linecap="square"/>
<line x1="548.60" y1="749.70" x2="1325.80" y2="749.70" stroke="#231f20" stroke-width="2.5" stroke-linecap="square"/>
<text x="21.51" y="45.90" font-family='"Liberation Sans",sans-serif' font-size="44" font-weight="bold" fill="#231f20">a</text>
<text x="20.70" y="409.90" font-family='"Liberation Sans",sans-serif' font-size="44" font-weight="bold" fill="#231f20">b</text>
<text x="511.58" y="48.20" font-family='"Liberation Sans",sans-serif' font-size="44" font-weight="bold" fill="#231f20">c</text>
<text x="508.30" y="414.40" font-family='"Liberation Sans",sans-serif' font-size="44" font-weight="bold" fill="#231f20">d</text>
<text x="291.86" y="57.00" font-family='"Liberation Sans",sans-serif' font-size="35" font-style="italic" fill="#231f20">T</text>
<text x="321.59" y="57.00" font-family='"Liberation Sans",sans-serif' font-size="35" fill="#231f20">=</text>
<text x="350.63" y="57.00" font-family='"Liberation Sans",sans-serif' font-size="35" fill="#231f20">0.3</text>
<text x="407.05" y="57.00" font-family='"Liberation Sans",sans-serif' font-size="35" fill="#231f20">K</text>
<text x="291.26" y="409.70" font-family='"Liberation Sans",sans-serif' font-size="35" font-style="italic" fill="#231f20">T</text>
<text x="321.09" y="409.70" font-family='"Liberation Sans",sans-serif' font-size="35" fill="#231f20">=</text>
<text x="350.03" y="409.70" font-family='"Liberation Sans",sans-serif' font-size="35" fill="#231f20">0.3</text>
<text x="405.75" y="409.70" font-family='"Liberation Sans",sans-serif' font-size="35" fill="#231f20">K</text>
<text x="355.53" y="141.40" font-family='"Liberation Sans",sans-serif' font-size="35" fill="#1e48a0">0.8</text>
<polygon points="362.71,214.80 365.77,214.80 365.77,189.75 363.79,189.75 362.30,191.87 356.55,195.52 356.55,198.43 362.71,194.67" fill="#157a35"/>
<text x="372.20" y="214.80" font-family='"Liberation Sans",sans-serif' font-size="35" fill="#157a35">.6</text>
<text x="354.37" y="294.70" font-family='"Liberation Sans",sans-serif' font-size="35" fill="#e8217a">3.0</text>
<polygon points="385.31,511.80 388.37,511.80 388.37,486.75 386.39,486.75 384.90,488.87 379.15,492.52 379.15,495.43 385.31,491.67" fill="#1e48a0"/>
<text x="372.67" y="602.80" font-family='"Liberation Sans",sans-serif' font-size="35" fill="#a33c91">3</text>
<text x="373.40" y="687.60" font-family='"Liberation Sans",sans-serif' font-size="35" fill="#e8217a">5</text>
<text x="38.91" y="778.20" font-family='"Liberation Sans",sans-serif' font-size="27.5" fill="#231f20">0.06</text>
<text x="130.45" y="778.20" font-family='"Liberation Sans",sans-serif' font-size="27.5" fill="#231f20">0.09</text>
<text x="221.99" y="778.20" font-family='"Liberation Sans",sans-serif' font-size="27.5" fill="#231f20">0.</text>
<polygon points="252.77,778.20 255.17,778.20 255.17,758.51 253.62,758.51 252.45,760.18 247.92,763.05 247.92,765.34 252.77,762.38" fill="#231f20"/>
<text x="260.22" y="778.20" font-family='"Liberation Sans",sans-serif' font-size="27.5" fill="#231f20">2</text>
<text x="313.38" y="778.20" font-family='"Liberation Sans",sans-serif' font-size="27.5" fill="#231f20">0.</text>
<polygon points="344.16,778.20 346.56,778.20 346.56,758.51 345.00,758.51 343.83,760.18 339.31,763.05 339.31,765.34 344.16,762.38" fill="#231f20"/>
<text x="351.61" y="778.20" font-family='"Liberation Sans",sans-serif' font-size="27.5" fill="#231f20">5</text>
<text x="404.90" y="778.20" font-family='"Liberation Sans",sans-serif' font-size="27.5" fill="#231f20">0.</text>
<polygon points="435.68,778.20 438.08,778.20 438.08,758.51 436.52,758.51 435.35,760.18 430.83,763.05 430.83,765.34 435.68,762.38" fill="#231f20"/>
<text x="443.13" y="778.20" font-family='"Liberation Sans",sans-serif' font-size="27.5" fill="#231f20">8</text>
<polygon points="194.27,831.30 197.85,831.30 197.85,801.95 195.53,801.95 193.79,804.43 187.04,808.72 187.04,812.12 194.27,807.72" fill="#231f20"/>
<text x="205.38" y="831.30" font-family='"Liberation Sans",sans-serif' font-size="41" fill="#231f20">/</text>
<text transform="translate(216.77,831.30) scale(1,1.04)" x="0" y="0" font-family='"Liberation Sans",sans-serif' font-size="41" font-style="italic" fill="#231f20">B</text>
<text transform="translate(254.76,831.30) scale(1,1.04)" x="0" y="0" font-family='"Liberation Sans",sans-serif' font-size="41" fill="#231f20">(T</text>
<text x="293.63" y="812.50" font-family='"Liberation Sans",sans-serif' font-size="24" fill="#231f20">-</text>
<polygon points="309.02,811.30 311.11,811.30 311.11,794.12 309.75,794.12 308.73,795.57 304.79,798.08 304.79,800.07 309.02,797.50" fill="#231f20"/>
<text transform="translate(316.89,831.30) scale(1,1.04)" x="0" y="0" font-family='"Liberation Sans",sans-serif' font-size="41" fill="#231f20">)</text>
<text transform="rotate(-90)" x="-296.89" y="32.90" font-family='"Liberation Sans",sans-serif' font-size="40" fill="#231f20">Δρ/ρ</text>
<text transform="rotate(-90)" x="-215.28" y="47.20" font-family='"Liberation Sans",sans-serif' font-size="25" fill="#231f20">0</text>
<text transform="rotate(-90)" x="-189.64" y="33.30" font-family='"Liberation Sans",sans-serif' font-size="41" fill="#231f20">(a.u.)</text>
<text transform="rotate(-90)" x="-661.69" y="29.80" font-family='"Liberation Sans",sans-serif' font-size="40" fill="#231f20">Δ</text>
<polygon points="11.2,617.1 11.2,620.8 37.9,634.1 37.9,630.4" fill="#231f20"/>
<path d="M31.8,615.8 C36,615.2 39.2,618.6 37,621.2 C34.5,623.8 27,624.5 20,626.3 C13,628.2 10.2,631.5 13.2,633.6 C14.8,634.6 16.5,634.7 18,634.5" fill="none" stroke="#231f20" stroke-width="1.9" stroke-linecap="round"/>
<text transform="rotate(-90)" x="-614.63" y="44.60" font-family='"Liberation Sans",sans-serif' font-size="26.5" fill="#231f20">ac</text>
<text transform="rotate(-90)" x="-576.84" y="30.00" font-family='"Liberation Sans",sans-serif' font-size="41" fill="#231f20">(a.u.)</text>
<rect x="1192.30" y="16.30" width="112.30" height="68.80" fill="none" stroke="#3a3a3a" stroke-width="1.3"/>
<text transform="translate(1201.07,67.60) scale(1,1.03)" x="0" y="0" font-family='"Liberation Sans",sans-serif' font-size="49" fill="#231f20">SdH</text>
<rect x="1174.40" y="388.00" width="139.30" height="64.40" fill="none" stroke="#3a3a3a" stroke-width="1.3"/>
<text transform="translate(1184.64,436.80) scale(1,1.03)" x="0" y="0" font-family='"Liberation Sans",sans-serif' font-size="49" fill="#231f20">dHvA</text>
<text transform="translate(626.41,105.00) scale(1,1.06)" x="0" y="0" font-family='"Liberation Sans",sans-serif' font-size="48.5" font-style="italic" fill="#e92028">F</text>
<text transform="translate(655.37,122.70) scale(1.2,1)" x="0" y="0" font-family='"Liberation Serif",serif' font-size="29" fill="#e92028">α</text>
<text transform="translate(1139.11,286.40) scale(1,1.06)" x="0" y="0" font-family='"Liberation Sans",sans-serif' font-size="48.5" font-style="italic" fill="#2d287d">F</text>
<text transform="translate(1167.23,303.30) scale(1.12,1)" x="0" y="0" font-family='"Liberation Serif",serif' font-size="30" fill="#2d287d">β</text>
<text transform="translate(1252.11,293.50) scale(1,1.06)" x="0" y="0" font-family='"Liberation Sans",sans-serif' font-size="48.5" font-style="italic" fill="#e92028">F</text>
<text x="1280.26" y="310.50" font-family='"Liberation Serif",serif' font-size="30.5" fill="#e92028">2</text>
<text transform="translate(1295.47,310.80) scale(1.2,1)" x="0" y="0" font-family='"Liberation Serif",serif' font-size="29" fill="#e92028">α</text>
<text transform="translate(610.91,481.40) scale(1,1.06)" x="0" y="0" font-family='"Liberation Sans",sans-serif' font-size="48.5" font-style="italic" fill="#e92028">F</text>
<text transform="translate(639.77,498.60) scale(1.2,1)" x="0" y="0" font-family='"Liberation Serif",serif' font-size="29" fill="#e92028">α</text>
<text transform="translate(1063.71,686.70) scale(1,1.06)" x="0" y="0" font-family='"Liberation Sans",sans-serif' font-size="48.5" font-style="italic" fill="#2d287d">F</text>
<text transform="translate(1092.63,704.10) scale(1.12,1)" x="0" y="0" font-family='"Liberation Serif",serif' font-size="30" fill="#2d287d">β</text>
<text transform="translate(1218.61,711.10) scale(1,1.06)" x="0" y="0" font-family='"Liberation Sans",sans-serif' font-size="48.5" font-style="italic" fill="#e92028">F</text>
<text x="1247.16" y="728.30" font-family='"Liberation Serif",serif' font-size="30.5" fill="#e92028">2</text>
<text transform="translate(1262.37,728.60) scale(1.2,1)" x="0" y="0" font-family='"Liberation Serif",serif' font-size="29" fill="#e92028">α</text>
<text transform="translate(766.68,97.50) scale(1,1.045)" x="0" y="0" font-family='"Liberation Sans",sans-serif' font-size="37" font-style="italic" fill="#231f20">T</text>
<text transform="translate(799.27,97.50) scale(1,1.03)" x="0" y="0" font-family='"Liberation Sans",sans-serif' font-size="37" fill="#231f20">(K)</text>
<line x1="765.50" y1="129.10" x2="847.30" y2="129.10" stroke="#231f20" stroke-width="2.2" stroke-linecap="round"/>
<text x="856.59" y="142.10" font-family='"Liberation Sans",sans-serif' font-size="36" fill="#231f20">0.3</text>
<line x1="927.00" y1="129.10" x2="1009.40" y2="129.10" stroke="#e92028" stroke-width="2.2" stroke-linecap="round"/>
<text x="1017.79" y="142.10" font-family='"Liberation Sans",sans-serif' font-size="36" fill="#231f20">0.5</text>
<line x1="765.50" y1="173.70" x2="847.30" y2="173.70" stroke="#1e48a0" stroke-width="2.2" stroke-linecap="round"/>
<text x="856.59" y="186.70" font-family='"Liberation Sans",sans-serif' font-size="36" fill="#231f20">0.8</text>
<line x1="927.00" y1="173.70" x2="1009.40" y2="173.70" stroke="#0a6a25" stroke-width="2.2" stroke-linecap="round"/>
<polygon points="1026.72,186.70 1029.87,186.70 1029.87,160.93 1027.83,160.93 1026.30,163.11 1020.38,166.87 1020.38,169.86 1026.72,165.99" fill="#231f20"/>
<text x="1036.48" y="186.70" font-family='"Liberation Sans",sans-serif' font-size="36" fill="#231f20">.6</text>
<line x1="765.50" y1="218.20" x2="847.30" y2="218.20" stroke="#a33c91" stroke-width="2.2" stroke-linecap="round"/>
<text x="856.19" y="231.20" font-family='"Liberation Sans",sans-serif' font-size="36" fill="#231f20">2</text>
<line x1="927.00" y1="218.20" x2="1009.40" y2="218.20" stroke="#e8166e" stroke-width="2.2" stroke-linecap="round"/>
<text x="1017.83" y="231.20" font-family='"Liberation Sans",sans-serif' font-size="36" fill="#231f20">3</text>
<line x1="765.50" y1="262.60" x2="847.30" y2="262.60" stroke="#7d080e" stroke-width="2.2" stroke-linecap="round"/>
<text x="856.56" y="275.60" font-family='"Liberation Sans",sans-serif' font-size="36" fill="#231f20">5</text>
<line x1="927.00" y1="262.60" x2="1009.40" y2="262.60" stroke="#4b3996" stroke-width="2.2" stroke-linecap="round"/>
<text x="1017.35" y="275.60" font-family='"Liberation Sans",sans-serif' font-size="36" fill="#231f20">7</text>
<line x1="765.50" y1="306.80" x2="847.30" y2="306.80" stroke="#f0731e" stroke-width="2.2" stroke-linecap="round"/>
<text x="856.31" y="319.80" font-family='"Liberation Sans",sans-serif' font-size="36" fill="#231f20">9</text>
<text transform="translate(784.78,433.60) scale(1,1.045)" x="0" y="0" font-family='"Liberation Sans",sans-serif' font-size="37" font-style="italic" fill="#231f20">T</text>
<text transform="translate(814.47,433.60) scale(1,1.03)" x="0" y="0" font-family='"Liberation Sans",sans-serif' font-size="37" fill="#231f20">(K)</text>
<line x1="769.80" y1="465.40" x2="851.60" y2="465.40" stroke="#231f20" stroke-width="2.2" stroke-linecap="round"/>
<text x="860.59" y="478.40" font-family='"Liberation Sans",sans-serif' font-size="36" fill="#231f20">0.3</text>
<line x1="921.70" y1="465.40" x2="1003.80" y2="465.40" stroke="#e92028" stroke-width="2.2" stroke-linecap="round"/>
<text x="1011.79" y="478.40" font-family='"Liberation Sans",sans-serif' font-size="36" fill="#231f20">0.6</text>
<line x1="769.80" y1="509.90" x2="851.60" y2="509.90" stroke="#1e48a0" stroke-width="2.2" stroke-linecap="round"/>
<polygon points="869.52,522.90 872.67,522.90 872.67,497.13 870.63,497.13 869.10,499.31 863.18,503.07 863.18,506.06 869.52,502.19" fill="#231f20"/>
<line x1="921.70" y1="509.90" x2="1003.80" y2="509.90" stroke="#0a6a25" stroke-width="2.2" stroke-linecap="round"/>
<text x="1011.39" y="522.90" font-family='"Liberation Sans",sans-serif' font-size="36" fill="#231f20">2</text>
<line x1="769.80" y1="554.30" x2="851.60" y2="554.30" stroke="#a33c91" stroke-width="2.2" stroke-linecap="round"/>
<text x="860.63" y="567.30" font-family='"Liberation Sans",sans-serif' font-size="36" fill="#231f20">3</text>
<line x1="921.70" y1="554.30" x2="1003.80" y2="554.30" stroke="#e8166e" stroke-width="2.2" stroke-linecap="round"/>
<text x="1011.76" y="567.30" font-family='"Liberation Sans",sans-serif' font-size="36" fill="#231f20">5</text>
<line x1="769.80" y1="598.70" x2="851.60" y2="598.70" stroke="#7d080e" stroke-width="2.2" stroke-linecap="round"/>
<text x="860.17" y="611.70" font-family='"Liberation Sans",sans-serif' font-size="36" fill="#231f20">6</text>
<line x1="921.70" y1="598.70" x2="1003.80" y2="598.70" stroke="#4b3996" stroke-width="2.2" stroke-linecap="round"/>
<text x="1011.35" y="611.70" font-family='"Liberation Sans",sans-serif' font-size="36" fill="#231f20">7</text>
<line x1="769.80" y1="643.10" x2="851.60" y2="643.10" stroke="#f0731e" stroke-width="2.2" stroke-linecap="round"/>
<text x="860.44" y="656.10" font-family='"Liberation Sans",sans-serif' font-size="36" fill="#231f20">8</text>
<text x="609.11" y="783.50" font-family='"Liberation Sans",sans-serif' font-size="31" fill="#231f20">300</text>
<text x="782.06" y="783.50" font-family='"Liberation Sans",sans-serif' font-size="31" fill="#231f20">400</text>
<text x="954.50" y="783.50" font-family='"Liberation Sans",sans-serif' font-size="31" fill="#231f20">500</text>
<text x="1127.05" y="783.50" font-family='"Liberation Sans",sans-serif' font-size="31" fill="#231f20">600</text>
<text x="1299.75" y="783.50" font-family='"Liberation Sans",sans-serif' font-size="31" fill="#231f20">700</text>
<text transform="translate(888.94,828.60) scale(1,1.045)" x="0" y="0" font-family='"Liberation Sans",sans-serif' font-size="41" font-style="italic" fill="#231f20">F</text>
<text transform="translate(926.09,828.60) scale(1,1.04)" x="0" y="0" font-family='"Liberation Sans",sans-serif' font-size="41" fill="#231f20">(T)</text>
</svg></body></html>
